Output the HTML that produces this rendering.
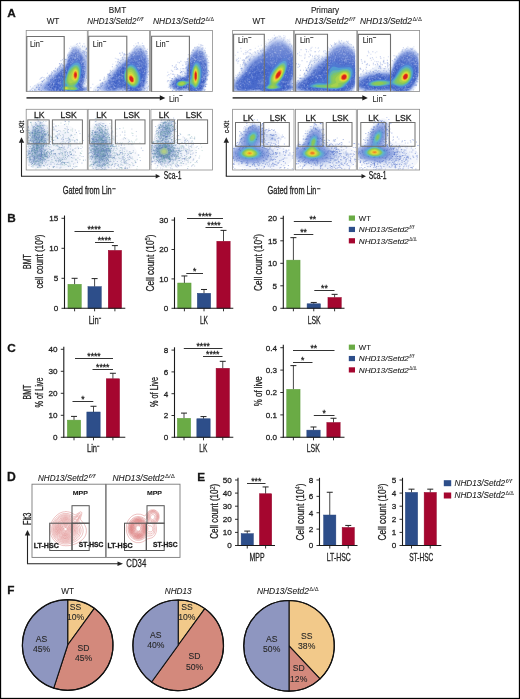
<!DOCTYPE html>
<html><head><meta charset="utf-8"><style>
html,body{margin:0;padding:0;background:#fff;width:520px;height:699px;overflow:hidden}
svg{display:block;font-family:"Liberation Sans",sans-serif;will-change:transform}
text{stroke:#222;stroke-width:.28px}
text.l{stroke-width:.1px}
</style></head><body>
<svg width="520" height="699" viewBox="0 0 520 699">
<rect x="0" y="0" width="520" height="699" fill="#fff"/>
<defs>
<filter id="bl30" x="-5%" y="-5%" width="110%" height="110%"><feGaussianBlur stdDeviation="0.3"/></filter>
<filter id="bl35" x="-5%" y="-5%" width="110%" height="110%"><feGaussianBlur stdDeviation="0.35"/></filter>
<filter id="bl40" x="-5%" y="-5%" width="110%" height="110%"><feGaussianBlur stdDeviation="0.4"/></filter>
<filter id="bl45" x="-5%" y="-5%" width="110%" height="110%"><feGaussianBlur stdDeviation="0.45"/></filter>
<filter id="bl50" x="-5%" y="-5%" width="110%" height="110%"><feGaussianBlur stdDeviation="0.5"/></filter>
<filter id="bl60" x="-5%" y="-5%" width="110%" height="110%"><feGaussianBlur stdDeviation="0.6"/></filter>
<clipPath id="ct0"><rect x="26.2" y="30.5" width="61.2" height="61"/></clipPath>
<clipPath id="ct1"><rect x="88.1" y="30.5" width="61.2" height="61"/></clipPath>
<clipPath id="ct2"><rect x="150.6" y="30.5" width="61.2" height="61"/></clipPath>
<clipPath id="ct3"><rect x="232.6" y="30.5" width="61.2" height="61"/></clipPath>
<clipPath id="ct4"><rect x="294.3" y="30.5" width="61.2" height="61"/></clipPath>
<clipPath id="ct5"><rect x="357.6" y="30.5" width="61.2" height="61"/></clipPath>
<clipPath id="cb0"><rect x="26.2" y="109.3" width="61.2" height="60.7"/></clipPath>
<clipPath id="cb1"><rect x="88.1" y="109.3" width="61.2" height="60.7"/></clipPath>
<clipPath id="cb2"><rect x="150.9" y="109.3" width="61.2" height="60.7"/></clipPath>
<clipPath id="cb3"><rect x="232.6" y="109.3" width="61.2" height="60.7"/></clipPath>
<clipPath id="cb4"><rect x="295.5" y="109.3" width="61.2" height="60.7"/></clipPath>
<clipPath id="cb5"><rect x="357.6" y="109.3" width="61.2" height="60.7"/></clipPath>
<linearGradient id="fadeT" x1="0" y1="0" x2="0" y2="1"><stop offset="0" stop-color="#fff" stop-opacity="0.45"/><stop offset="0.22" stop-color="#fff" stop-opacity="0.3"/><stop offset="0.5" stop-color="#fff" stop-opacity="0.08"/><stop offset="0.65" stop-color="#fff" stop-opacity="0"/></linearGradient>
</defs>
<g clip-path="url(#ct0)"><g filter="url(#bl50)">
<g transform="translate(26.325 30.625) scale(0.25)">
<path d="M243 66 233 63 217 63 206 57 199 55 191 56 184 60 172 75 154 117 136 135 104 161 72 193 44 209 27 221 17 232 13 243 243 243 243 221 238 217 239 211 243 203Z" fill="#ecf1fa"/>
<path d="M243 85 233 78 224 76 205 62 196 60 187 63 180 69 171 83 159 117 152 129 112 161 75 198 40 222 31 234 31 242 243 242 243 224 237 223 232 219 234 208 243 185Z" fill="#d7e0f5"/>
<path d="M240 99 207 68 201 65 193 65 185 69 177 78 170 91 160 122 154 134 118 162 75 205 58 218 48 229 48 237 53 241 59 243 228 243 242 240 243 227 234 225 229 220 237 184 243 165 243 104Z" fill="#bac8ee"/>
<path d="M209 73 202 69 195 68 186 72 179 79 169 98 159 130 154 139 110 174 65 221 61 227 61 233 65 237 78 243 223 243 243 237 243 230 231 226 227 221 241 152 241 121 234 104 218 82Z" fill="#a2b5e8"/>
<path d="M209 76 202 72 196 71 189 73 181 80 172 95 160 132 155 142 120 169 80 211 71 225 71 232 75 236 90 243 220 243 238 237 242 234 242 232 230 227 225 220 231 197 236 168 238 148 237 126 234 115 226 98 216 83Z" fill="#8aa2e2"/>
<path d="M208 79 200 75 193 75 187 78 181 84 171 102 160 137 155 146 115 178 99 195 84 214 80 222 80 231 85 236 101 243 217 243 236 234 224 223 224 216 229 199 234 168 234 129 228 108 222 96 216 87Z" fill="#728dd9"/>
<path d="M209 83 202 79 195 78 188 81 180 89 172 104 160 141 155 150 124 174 105 193 91 211 87 221 87 230 90 234 99 239 111 243 215 243 231 234 223 225 222 218 227 202 232 173 232 130 224 104 217 92Z" fill="#5a78d0"/>
<path d="M208 90 199 86 192 87 186 91 181 97 172 114 162 144 155 158 130 178 113 195 105 206 101 216 102 230 105 234 113 238 130 243 210 243 224 234 219 224 219 217 223 206 228 182 230 164 230 143 227 124 222 109 215 97Z" fill="#4a6acb"/>
<path d="M210 105 204 102 194 103 189 106 178 119 170 134 156 169 134 190 124 204 122 212 124 218 122 232 125 235 132 238 151 242 199 243 206 241 217 234 217 230 212 220 219 202 223 186 226 150 224 133 220 120 216 112Z" fill="#4669cc"/>
<path d="M210 118 202 116 190 121 178 132 173 139 166 153 157 178 142 195 137 204 136 215 138 223 133 230 135 234 150 239 172 240 182 242 197 241 212 235 213 231 206 220 215 200 219 185 222 166 222 148 219 132 216 125Z" fill="#4873d0"/>
<path d="M208 128 200 127 190 131 184 135 172 148 164 165 157 187 146 202 145 213 148 218 148 222 141 230 143 234 154 238 169 238 178 240 198 239 209 234 208 229 202 224 201 219 210 204 215 189 218 173 218 147 214 134Z" fill="#4f9ad2"/>
<path d="M205 137 196 136 191 138 179 147 169 160 155 205 157 211 163 217 163 219 161 221 151 224 146 230 148 234 156 237 194 238 201 236 205 233 205 231 195 222 196 218 208 202 214 180 214 152 211 143Z" fill="#63b9a6"/>
<path d="M204 143 200 141 191 143 172 161 166 174 161 198 162 207 169 217 170 222 157 223 152 225 149 229 149 232 151 234 156 236 191 237 201 233 200 230 191 225 188 222 188 220 202 208 206 202 211 187 212 159 209 149Z" fill="#79c373"/>
<path d="M151 228 151 232 155 235 173 234 187 236 192 235 196 232 193 229 182 225 169 226 164 224 158 224ZM199 145 191 147 173 166 168 176 165 188 165 204 168 211 175 217 181 217 197 209 203 203 208 193 211 176 210 161 205 149Z" fill="#8ec954"/>
<path d="M177 231 180 233 187 232 184 230ZM152 229 152 231 156 234 166 234 171 231 168 227 162 225 155 226ZM199 149 195 149 188 154 171 179 168 191 168 199 170 205 175 210 180 210 186 207 191 207 199 204 206 194 209 181 209 167 205 154Z" fill="#a7d24d"/>
<path d="M154 229 157 233 163 233 166 231 164 227 156 227ZM198 153 192 155 188 160 180 183 181 194 190 201 194 202 202 197 207 183 206 163 204 158Z" fill="#c7d943"/>
<path d="M156 230 159 232 164 230 162 228 158 228ZM199 157 195 157 192 159 186 173 186 187 189 194 194 198 198 197 202 193 206 179 205 167 202 160Z" fill="#e6dc3a"/>
<path d="M198 160 192 163 188 175 189 187 194 194 198 194 201 191 204 183 203 166Z" fill="#f0b12f"/>
<path d="M198 163 196 163 192 167 190 173 190 183 194 191 198 191 200 189 203 181 202 168Z" fill="#ed7725"/>
<path d="M197 166 194 168 192 172 192 183 195 188 199 187 202 177 201 171Z" fill="#e43e1e"/>
<path d="M197 169 195 170 193 176 193 180 196 185 200 181 200 173Z" fill="#d8201c"/>
</g></g>
<path transform="translate(26.45 30.75) scale(.5)" d="M31 101h0M116 48h0M120 95h0M69 60h0M113 44h0M58 81h0M102 26h0M46 91h0M120 36h0M32 102h0M122 98h0M122 105h0M35 94h0M20 113h0M86 35h0M30 120h0M120 43h0M117 121h0M18 121h0M65 73h0M66 66h0M29 109h0M105 32h0M75 55h0M67 66h0M107 25h0M120 37h0M113 40h0M79 58h0M36 98h0M52 84h0M97 33h0M29 95h0M23 107h0M47 92h0M68 69h0M50 90h0M107 35h0M12 120h0M122 121h0M55 80h0M62 77h0M66 76h0M58 75h0M116 44h0M50 87h0M120 52h0M24 117h0M76 58h0M121 49h0M118 50h0M45 94h0M100 27h0M67 72h0M20 121h0M115 26h0M62 79h0M112 32h0M67 71h0M72 58h0M13 115h0M69 73h0M120 35h0M24 110h0M26 114h0M71 68h0M91 35h0M113 43h0M47 89h0M117 41h0M93 34h0M74 70h0M70 66h0M82 50h0M117 45h0M79 58h0M114 41h0" stroke="#3a5cc4" stroke-opacity="0.6" stroke-width="1.40" stroke-linecap="square"/>
<path transform="translate(26.45 30.75) scale(.5)" d="M117 100h0M17 110h0M30 106h0M56 82h0M113 44h0M117 42h0M120 91h0M73 69h0M5 120h0M16 119h0M116 32h0M43 97h0M40 94h0M10 117h0M119 37h0M89 31h0M44 96h0M17 117h0M117 105h0M32 93h0M85 44h0M25 118h0M121 86h0M121 46h0M120 93h0M42 93h0M20 114h0M120 113h0M24 113h0M73 69h0M83 49h0M64 76h0M107 37h0M117 30h0M115 45h0M22 113h0M119 100h0M119 51h0M40 96h0M121 110h0M106 25h0M17 118h0M25 117h0M112 30h0M27 97h0M7 119h0M50 82h0M121 48h0M108 29h0M121 44h0M121 49h0M120 89h0M82 47h0M75 61h0M48 90h0M8 112h0M26 118h0M45 89h0M78 58h0M79 57h0M34 99h0M30 109h0M84 47h0M21 110h0M117 101h0M42 85h0M30 94h0M42 96h0M25 108h0M8 120h0M103 29h0M121 55h0M78 62h0M108 37h0M117 32h0M116 42h0M34 100h0M120 35h0M113 31h0M117 108h0M100 32h0M28 107h0M32 102h0M116 106h0M50 85h0M119 103h0M45 93h0M118 97h0M62 76h0M55 80h0M122 45h0M68 69h0M118 38h0" stroke="#5a7ad0" stroke-opacity="0.45" stroke-width="1.40" stroke-linecap="square"/>
<path transform="translate(26.45 30.75) scale(.5)" d="M105 109h0M45 107h0M63 101h0M99 53h0M71 120h0M113 94h0M44 103h0M66 90h0M52 107h0M38 113h0M64 88h0M109 102h0M95 49h0M115 58h0M41 108h0M111 71h0M113 101h0M50 120h0M58 92h0M100 120h0M116 86h0M108 99h0M68 99h0M115 89h0M95 58h0M108 115h0M56 112h0M70 84h0M78 79h0M60 93h0M111 51h0M78 89h0M68 85h0M112 119h0M52 97h0M106 118h0M102 56h0M78 80h0M107 59h0M57 94h0M82 79h0M57 113h0M80 84h0M86 61h0M97 46h0M65 100h0M61 117h0M110 101h0M91 49h0M70 97h0M63 88h0M100 47h0M73 90h0M42 116h0M77 79h0M104 48h0M100 53h0M44 109h0M97 121h0M82 69h0M45 119h0M116 93h0M65 108h0M92 60h0M90 44h0M93 45h0M113 91h0M41 116h0M95 57h0M97 54h0M107 112h0M91 121h0M108 63h0M69 82h0M52 107h0M57 110h0M113 78h0M111 93h0M113 66h0M87 49h0M61 97h0M110 113h0M112 112h0M108 103h0M104 110h0M117 82h0M88 62h0M56 108h0M113 103h0M108 108h0M108 65h0M70 97h0M104 39h0M111 55h0M67 87h0M110 102h0M71 78h0M62 92h0M100 47h0M117 74h0M98 39h0M110 98h0M55 119h0M71 80h0M96 58h0M110 88h0M88 68h0M50 103h0M105 120h0M53 94h0M100 39h0M98 47h0M117 61h0M87 67h0M65 92h0M94 37h0M70 88h0M90 50h0M68 120h0M111 105h0M65 118h0M51 110h0M113 88h0M103 56h0M117 68h0M62 114h0M81 73h0M59 102h0M45 109h0M100 46h0M113 116h0M103 53h0M116 71h0M103 48h0M105 105h0M46 108h0M76 83h0M76 85h0M84 60h0M48 113h0M114 81h0M94 58h0M47 113h0M44 110h0M105 48h0M98 47h0M72 82h0M48 98h0M82 66h0M65 112h0M37 115h0M46 119h0M102 121h0M59 108h0M109 102h0M112 55h0M88 56h0M111 89h0M112 106h0M90 44h0M68 104h0M67 99h0M113 113h0M117 115h0M51 115h0M85 52h0M57 111h0M107 50h0M106 106h0M91 55h0M100 55h0M52 114h0M89 50h0M102 45h0M99 37h0M96 59h0M105 121h0M100 120h0M104 59h0M61 107h0M97 49h0M110 105h0M49 109h0M59 100h0M65 85h0M61 90h0M92 41h0M107 53h0M84 54h0M111 103h0M49 112h0M64 118h0M88 61h0M64 114h0M46 109h0M64 98h0" stroke="#2a48b0" stroke-opacity="0.45" stroke-width="1.50" stroke-linecap="square"/>
<path transform="translate(26.45 30.75) scale(.5)" d="M108 115h0M58 120h0M73 85h0M53 106h0M65 98h0M59 90h0M56 98h0M119 116h0M75 120h0M57 101h0M79 81h0M113 62h0M83 59h0M109 104h0M112 49h0M107 119h0M54 106h0M110 70h0M96 44h0M58 119h0M111 84h0M106 51h0M89 51h0M78 78h0M50 101h0M116 67h0M65 114h0M114 85h0M66 105h0M115 90h0M112 77h0M45 101h0M100 41h0M71 95h0M42 119h0M66 113h0M107 48h0M116 74h0M108 63h0M115 114h0M113 69h0M107 99h0M46 110h0M102 41h0M117 78h0M95 59h0M88 67h0M93 59h0M106 54h0M100 59h0M107 43h0M102 52h0M97 38h0M51 112h0M94 43h0M102 50h0M53 98h0M113 58h0M49 116h0M72 82h0M75 81h0M56 117h0M114 114h0M103 111h0M58 117h0M110 93h0M72 82h0M81 66h0M81 120h0M105 56h0M49 112h0M70 94h0M71 81h0M102 49h0M68 84h0M69 79h0M51 113h0M111 75h0M56 106h0M115 62h0M90 45h0M72 97h0M96 40h0M64 121h0M109 61h0M108 61h0M111 86h0M91 54h0M70 98h0M105 55h0M63 119h0M113 81h0M73 85h0M75 121h0M109 109h0M111 117h0M87 53h0M41 105h0M110 103h0M50 115h0M65 106h0M90 62h0M116 116h0M111 50h0M94 54h0M59 110h0M112 51h0M62 121h0M105 49h0M63 93h0M55 110h0M111 70h0M110 66h0M109 116h0M110 112h0M111 73h0M54 95h0M97 55h0M87 49h0M55 120h0M46 114h0M59 87h0M47 108h0M69 87h0M116 69h0M95 43h0M78 70h0M114 60h0M111 61h0M104 46h0M115 77h0M82 69h0M110 91h0M115 119h0M65 104h0M109 108h0M112 61h0M96 58h0M44 119h0M117 73h0M118 80h0M103 45h0M118 76h0M88 60h0M94 43h0M98 47h0M107 103h0M40 118h0M51 119h0M115 76h0M66 116h0M52 118h0M89 46h0M116 80h0M75 75h0M85 56h0M101 47h0M113 80h0M106 43h0M74 89h0M107 106h0M60 110h0M58 113h0M113 56h0M76 89h0M114 55h0M114 94h0M55 101h0M101 53h0M74 86h0M46 99h0M77 72h0M116 77h0M59 101h0M69 78h0M52 111h0M113 87h0M56 116h0M71 81h0M64 111h0M51 103h0M55 113h0M62 104h0M111 59h0M52 120h0M114 86h0M56 121h0M69 94h0M39 112h0M53 120h0M65 88h0M104 111h0M50 105h0M57 109h0M114 96h0M73 96h0M98 49h0M47 109h0M60 99h0M45 119h0M113 52h0M110 105h0" stroke="#9ab0ea" stroke-opacity="0.45" stroke-width="1.50" stroke-linecap="square"/>
<path transform="translate(26.45 30.75) scale(.5)" d="M48 104h0M115 77h0M97 54h0M94 51h0M113 78h0M101 45h0M70 120h0M54 94h0M45 102h0M113 56h0M93 62h0M95 43h0M58 95h0M115 66h0M101 52h0M98 40h0M90 41h0M89 48h0M111 101h0M73 78h0M113 64h0M112 103h0M116 68h0M102 57h0M108 44h0M89 43h0M99 54h0M76 75h0M55 92h0M103 110h0M49 116h0M79 120h0M64 118h0M51 101h0M47 120h0M113 77h0M115 115h0M115 69h0M54 106h0M55 106h0M64 119h0M119 116h0M53 99h0M80 64h0M89 121h0M109 98h0M107 42h0M86 54h0M98 49h0M105 119h0M115 62h0M49 117h0M97 55h0M51 112h0M89 45h0M89 61h0M78 86h0M71 84h0M68 88h0M46 100h0M114 90h0M54 107h0M98 51h0M59 95h0M45 104h0M101 120h0M64 93h0M99 55h0M106 103h0M66 93h0M73 82h0M105 118h0M83 70h0M96 54h0M55 104h0M98 54h0M106 57h0M93 60h0M108 102h0M64 100h0M110 105h0M80 80h0M61 88h0M72 87h0M67 95h0M113 113h0M92 48h0M109 95h0M89 65h0M107 47h0M97 42h0M58 118h0M54 97h0M56 95h0M67 107h0M92 63h0M113 96h0M105 114h0M52 95h0M67 85h0M109 105h0M49 104h0M59 93h0M78 88h0M84 56h0M116 79h0M57 103h0M75 89h0M81 80h0M115 61h0M81 66h0M91 51h0M115 70h0M103 54h0M44 112h0M80 78h0M53 103h0M51 109h0M83 64h0M72 89h0M78 120h0M112 113h0M68 105h0M115 73h0M66 82h0M66 93h0M65 104h0M117 69h0M68 103h0M43 110h0M66 121h0M80 75h0M112 101h0M103 50h0M68 114h0M54 93h0M63 96h0M115 74h0M58 116h0M113 84h0M43 115h0M65 91h0M113 81h0M92 56h0M69 106h0M64 83h0M41 116h0M102 46h0M46 115h0M73 85h0M112 63h0M86 62h0M117 80h0M101 47h0M112 106h0M95 45h0M107 98h0M80 121h0M114 62h0M64 105h0M88 57h0M71 121h0M68 101h0M110 66h0M59 96h0M47 110h0M63 86h0M117 84h0M54 109h0M115 59h0M113 114h0M59 116h0M50 106h0M92 42h0M49 107h0M100 38h0M63 119h0M111 98h0M95 47h0M68 98h0M103 53h0M105 113h0M44 112h0M65 103h0M102 40h0M93 54h0M112 61h0M113 95h0M91 52h0M97 56h0M116 65h0M89 65h0M104 48h0M61 87h0M110 64h0M70 119h0M70 111h0M55 92h0M83 63h0M58 92h0M107 121h0M78 90h0" stroke="#ffffff" stroke-opacity="0.3" stroke-width="1.50" stroke-linecap="square"/>
</g>
<rect x="26.2" y="30.5" width="61.2" height="61" fill="url(#fadeT)"/>
<g clip-path="url(#ct1)"><g filter="url(#bl50)">
<g transform="translate(88.225 30.625) scale(0.25)">
<path d="M228 66 221 59 213 55 203 54 193 57 180 66 156 94 149 98 139 101 130 107 123 114 107 139 80 172 65 193 55 203 31 219 21 229 19 233 20 243 237 243 242 221 241 184 243 168 243 106 238 85Z" fill="#ecf1fa"/>
<path d="M227 71 220 64 209 59 197 60 182 69 174 77 154 103 137 113 125 124 111 143 86 172 69 196 36 227 34 231 35 238 40 243 228 243 233 229 235 218 236 198 242 150 242 120 237 92 232 79Z" fill="#d7e0f5"/>
<path d="M223 72 211 64 198 64 186 70 172 84 157 105 146 116 136 122 122 136 94 169 74 197 48 226 47 233 49 237 58 243 127 243 137 240 146 243 220 243 226 231 230 217 235 190 240 147 240 124 237 103 233 89Z" fill="#bac8ee"/>
<path d="M217 71 208 67 200 67 187 73 170 90 153 114 125 138 100 167 76 200 59 220 56 226 56 232 62 239 70 243 116 243 132 237 139 236 145 238 151 243 215 243 223 229 229 210 235 178 238 151 238 123 235 103 228 84Z" fill="#a2b5e8"/>
<path d="M216 74 206 70 197 71 187 76 176 86 155 115 142 128 137 131 113 156 66 217 62 229 68 237 84 243 103 243 131 234 141 233 147 236 154 243 211 243 222 225 227 210 232 187 236 157 236 120 233 103 225 84Z" fill="#8aa2e2"/>
<path d="M214 77 206 74 196 75 185 81 174 92 152 122 135 137 113 161 76 210 69 222 69 228 72 233 86 239 103 239 133 230 142 230 146 232 157 243 207 243 212 238 222 219 229 194 235 144 234 121 231 105 223 86Z" fill="#728dd9"/>
<path d="M216 83 206 78 198 78 189 82 178 91 152 125 120 157 82 208 75 220 75 227 80 232 88 235 105 235 131 227 142 227 146 229 160 243 204 243 210 237 218 224 225 204 230 179 233 150 233 132 230 110 222 90Z" fill="#5a78d0"/>
<path d="M210 91 206 89 196 89 187 93 177 101 165 114 148 136 129 156 106 194 92 211 90 215 90 221 93 224 108 225 125 220 138 219 146 223 168 243 196 243 207 234 212 227 221 206 226 182 228 162 228 136 225 116 218 99Z" fill="#4a6acb"/>
<path d="M181 117 176 118 163 126 143 151 133 170 132 192 134 200 137 205 160 228 175 238 186 239 199 233 207 224 212 215 218 195 219 168 214 148 206 134 196 123 187 118Z" fill="#4669cc"/>
<path d="M172 129 163 133 149 149 143 161 140 171 140 192 146 207 157 219 170 229 184 233 195 229 204 220 211 204 213 184 210 169 198 146 184 132Z" fill="#4873d0"/>
<path d="M167 136 156 144 146 161 143 174 144 193 150 207 161 218 175 227 186 228 197 222 204 212 208 198 207 180 203 168 190 146 182 139 176 136Z" fill="#4f9ad2"/>
<path d="M168 141 161 144 155 150 149 161 146 173 146 188 149 199 154 207 171 221 182 224 191 221 199 212 203 200 203 186 197 167 188 152 179 144Z" fill="#63b9a6"/>
<path d="M165 146 156 153 150 165 148 175 150 195 154 203 166 215 175 220 185 220 193 214 197 207 199 199 198 182 194 170 185 155 175 147Z" fill="#79c373"/>
<path d="M167 150 160 153 154 161 150 177 151 190 157 203 168 214 176 218 185 217 193 207 195 199 194 183 191 173 184 160 175 152Z" fill="#8ec954"/>
<path d="M165 156 159 160 154 170 154 191 160 203 169 212 174 215 182 215 188 210 190 205 191 191 189 181 181 164 173 157Z" fill="#a7d24d"/>
<path d="M166 164 162 166 158 172 157 190 163 203 173 212 179 213 183 211 186 207 187 190 180 173 173 166Z" fill="#c7d943"/>
<path d="M165 172 160 179 161 195 169 207 174 210 180 210 185 203 185 193 183 186 179 179 173 173Z" fill="#e6dc3a"/>
<path d="M168 176 163 180 162 183 163 195 166 201 172 207 179 208 183 203 182 189 174 178Z" fill="#f0b12f"/>
<path d="M167 180 164 184 164 194 170 204 173 206 180 205 182 200 181 191 178 185 173 180Z" fill="#ed7725"/>
<path d="M169 182 166 185 165 192 169 201 176 205 180 202 180 192 175 184Z" fill="#e43e1e"/>
<path d="M170 184 167 187 167 195 172 202 177 203 179 200 178 190 174 185Z" fill="#d8201c"/>
</g></g>
<path transform="translate(88.35 30.75) scale(.5)" d="M18 113h0M67 59h0M19 121h0M115 41h0M19 121h0M43 89h0M41 91h0M19 114h0M72 48h0M97 30h0M70 58h0M42 86h0M44 83h0M44 89h0M75 48h0M43 89h0M43 90h0M111 32h0M29 105h0M41 93h0M40 89h0M72 46h0M115 40h0M64 65h0M69 119h0M24 99h0M111 30h0M20 118h0M39 87h0M118 37h0M23 114h0M119 56h0M49 80h0M113 35h0M120 88h0M28 104h0M100 24h0M108 30h0M32 93h0M116 41h0M21 113h0M91 30h0M46 82h0M94 33h0M73 54h0M60 67h0M118 102h0M117 120h0M48 72h0M19 120h0M65 49h0M29 105h0M28 109h0M120 111h0M108 25h0M116 103h0M71 50h0M120 60h0M77 47h0M79 47h0M59 62h0M41 88h0M113 116h0M10 121h0M103 31h0M121 66h0M25 111h0M119 50h0M60 57h0M62 64h0M21 113h0M5 114h0M31 97h0M117 45h0M25 107h0M63 45h0M119 83h0M63 64h0M118 93h0M82 45h0M23 116h0M121 81h0M64 60h0" stroke="#3a5cc4" stroke-opacity="0.6" stroke-width="1.40" stroke-linecap="square"/>
<path transform="translate(88.35 30.75) scale(.5)" d="M24 109h0M38 91h0M32 96h0M92 36h0M121 65h0M82 45h0M14 118h0M111 34h0M76 55h0M111 120h0M68 54h0M69 119h0M42 86h0M26 105h0M33 102h0M71 47h0M54 55h0M58 71h0M77 54h0M26 110h0M94 34h0M119 114h0M17 119h0M119 115h0M100 26h0M76 56h0M55 62h0M23 99h0M26 111h0M120 72h0M69 54h0M2 121h0M95 26h0M57 74h0M92 36h0M121 69h0M56 69h0M48 84h0M96 31h0M69 53h0M57 56h0M99 24h0M117 45h0M14 120h0M59 58h0M96 32h0M69 46h0M119 118h0M69 56h0M68 57h0M63 45h0M115 105h0M28 108h0M118 97h0M44 86h0M116 114h0M73 47h0M39 95h0M91 37h0M49 67h0M68 44h0M113 115h0M116 101h0M60 61h0M34 101h0M44 79h0M58 69h0M56 69h0M118 106h0M112 119h0M25 106h0M25 114h0M39 87h0M68 43h0M76 48h0M26 111h0M59 64h0M9 107h0M99 31h0M44 80h0M110 30h0M77 48h0M58 71h0M117 42h0M118 42h0M40 93h0M112 116h0" stroke="#5a7ad0" stroke-opacity="0.45" stroke-width="1.40" stroke-linecap="square"/>
<path transform="translate(88.35 30.75) scale(.5)" d="M105 60h0M40 115h0M78 63h0M37 118h0M61 76h0M104 45h0M104 108h0M109 69h0M85 114h0M115 66h0M109 64h0M111 103h0M113 64h0M59 100h0M91 54h0M105 82h0M90 58h0M101 51h0M53 116h0M85 117h0M106 42h0M104 84h0M109 75h0M89 43h0M97 42h0M73 117h0M57 104h0M87 53h0M61 111h0M97 118h0M96 62h0M52 85h0M66 99h0M92 65h0M101 43h0M106 118h0M98 116h0M51 94h0M82 113h0M81 54h0M72 114h0M104 58h0M90 59h0M75 62h0M115 50h0M71 101h0M106 49h0M48 93h0M84 49h0M94 119h0M108 44h0M111 89h0M105 58h0M106 69h0M112 100h0M98 48h0M96 70h0M106 75h0M112 57h0M54 99h0M90 60h0M90 63h0M107 88h0M47 104h0M41 99h0M102 108h0M64 73h0M103 118h0M42 101h0M91 57h0M90 57h0M101 121h0M113 58h0M61 89h0M110 110h0M109 113h0M76 70h0M69 84h0M39 119h0M66 94h0M54 105h0M91 60h0M94 64h0M37 106h0M99 48h0M71 113h0M67 112h0M50 89h0M75 60h0M58 87h0M104 36h0M54 111h0M100 41h0M106 43h0M106 92h0M70 75h0M81 57h0M113 88h0M102 60h0M67 112h0M60 100h0M69 68h0M85 47h0M111 104h0M67 97h0M80 63h0M68 74h0M93 54h0M111 100h0M70 81h0M73 109h0M67 71h0M103 60h0M104 80h0M117 67h0M57 84h0M56 82h0M95 116h0M76 107h0M52 102h0M67 86h0M46 96h0M105 38h0M111 109h0M58 79h0M71 113h0M110 113h0M52 88h0M103 52h0M43 110h0M86 56h0M76 67h0M53 116h0M57 96h0M72 106h0M111 83h0M70 75h0M107 61h0M91 121h0M104 37h0M86 117h0M70 82h0M98 52h0M48 96h0M99 56h0M77 119h0M110 101h0M63 112h0M104 72h0M57 107h0M104 48h0M97 37h0M47 110h0M55 92h0M87 56h0M64 82h0M110 41h0M95 46h0M48 103h0M115 68h0M60 114h0M100 112h0M71 78h0M105 113h0M60 80h0M86 49h0M54 93h0M69 93h0M76 67h0M50 117h0M67 92h0M106 37h0M63 80h0M69 114h0M61 74h0M106 43h0M94 44h0M110 43h0M112 81h0M109 44h0M55 99h0M63 106h0M54 83h0M47 111h0M65 115h0M41 100h0M97 63h0M67 82h0M65 83h0M104 79h0M54 89h0M51 95h0M65 116h0M70 85h0M45 94h0M108 94h0" stroke="#2a48b0" stroke-opacity="0.45" stroke-width="1.50" stroke-linecap="square"/>
<path transform="translate(88.35 30.75) scale(.5)" d="M108 60h0M59 94h0M106 112h0M70 69h0M106 107h0M80 55h0M103 121h0M69 107h0M86 119h0M117 56h0M109 94h0M104 48h0M59 115h0M92 56h0M106 74h0M74 117h0M82 112h0M102 116h0M109 60h0M80 118h0M47 103h0M81 64h0M112 78h0M108 43h0M59 104h0M97 42h0M103 67h0M54 114h0M52 114h0M72 105h0M109 115h0M73 77h0M85 61h0M101 73h0M68 95h0M38 118h0M110 56h0M83 65h0M112 78h0M103 115h0M73 63h0M102 75h0M53 93h0M108 81h0M39 101h0M78 109h0M83 52h0M80 118h0M98 115h0M49 119h0M82 116h0M108 102h0M83 57h0M111 104h0M111 85h0M90 50h0M57 83h0M107 67h0M105 80h0M117 76h0M53 107h0M72 105h0M55 98h0M51 100h0M81 65h0M104 113h0M84 56h0M45 99h0M49 91h0M114 48h0M62 85h0M62 102h0M103 74h0M107 113h0M104 45h0M39 119h0M116 57h0M55 118h0M106 106h0M108 103h0M102 74h0M53 84h0M102 62h0M95 49h0M90 48h0M61 101h0M42 110h0M60 94h0M95 39h0M87 58h0M53 113h0M47 116h0M118 67h0M99 69h0M38 105h0M90 53h0M48 106h0M106 69h0M62 90h0M51 90h0M55 93h0M90 49h0M69 103h0M102 40h0M57 107h0M62 81h0M87 53h0M109 111h0M104 107h0M68 114h0M56 117h0M91 119h0M70 103h0M55 82h0M71 106h0M109 95h0M66 81h0M38 118h0M96 116h0M49 118h0M47 109h0M113 97h0M114 94h0M109 86h0M107 40h0M81 112h0M109 65h0M64 104h0M98 59h0M91 49h0M113 67h0M111 67h0M115 89h0M49 90h0M40 111h0M92 66h0M47 104h0M50 97h0M86 60h0M44 108h0M61 76h0M41 109h0M49 107h0M55 81h0M62 96h0M106 50h0M79 119h0M87 53h0M100 36h0M109 107h0M112 53h0M110 92h0M105 64h0M63 96h0M52 113h0M98 42h0M115 67h0M44 115h0M67 94h0M68 88h0M42 112h0M109 41h0M101 121h0M112 64h0M39 108h0M111 89h0M109 69h0M102 70h0M98 40h0M99 48h0M116 79h0M102 119h0M75 72h0M107 112h0M107 118h0" stroke="#9ab0ea" stroke-opacity="0.45" stroke-width="1.50" stroke-linecap="square"/>
<path transform="translate(88.35 30.75) scale(.5)" d="M68 115h0M89 60h0M78 113h0M113 90h0M113 81h0M114 91h0M69 97h0M106 57h0M46 116h0M112 84h0M112 81h0M98 63h0M115 69h0M46 120h0M92 47h0M108 38h0M90 50h0M71 116h0M101 40h0M83 118h0M71 79h0M63 110h0M54 108h0M61 116h0M39 106h0M46 93h0M106 110h0M41 107h0M62 91h0M109 105h0M67 85h0M65 70h0M113 103h0M94 59h0M37 110h0M96 42h0M56 94h0M72 101h0M63 105h0M100 73h0M103 47h0M75 71h0M76 69h0M61 92h0M106 76h0M73 62h0M51 99h0M47 110h0M109 115h0M60 94h0M109 114h0M63 92h0M81 65h0M103 57h0M46 97h0M116 80h0M106 54h0M82 56h0M84 54h0M103 40h0M82 55h0M116 64h0M70 88h0M78 66h0M97 48h0M67 71h0M103 82h0M53 86h0M102 68h0M106 115h0M115 75h0M95 62h0M73 72h0M60 116h0M50 111h0M40 112h0M108 96h0M110 47h0M62 101h0M100 48h0M41 110h0M66 85h0M60 108h0M61 79h0M71 114h0M71 113h0M46 100h0M113 94h0M81 113h0M94 44h0M66 73h0M103 64h0M103 76h0M117 76h0M74 73h0M59 96h0M42 109h0M79 63h0M61 113h0M81 118h0M75 112h0M101 116h0M56 90h0M89 66h0M93 53h0M67 94h0M71 112h0M96 41h0M79 120h0M113 81h0M64 115h0M105 102h0M89 45h0M106 114h0M52 113h0M67 88h0M113 87h0M115 66h0M101 77h0M115 60h0M105 44h0M93 47h0M86 46h0M39 117h0M115 68h0M105 73h0M101 64h0M54 83h0M109 97h0M111 52h0M38 114h0M90 45h0M76 109h0M108 71h0M99 74h0M46 117h0M50 104h0M71 71h0M104 83h0M100 44h0M93 119h0M113 81h0M77 118h0M47 106h0M110 85h0M61 100h0M46 106h0M33 112h0M109 114h0M44 110h0M91 58h0M62 83h0M58 119h0M100 75h0M54 100h0M67 92h0M104 117h0M105 73h0M98 47h0M55 86h0M39 108h0M107 102h0M110 44h0M100 117h0M64 76h0M48 92h0M84 49h0M81 117h0M99 115h0M111 73h0M59 116h0M62 77h0M100 65h0M41 102h0M52 106h0M116 58h0M111 52h0M95 40h0M56 96h0M105 114h0M82 113h0M105 52h0M57 81h0M109 41h0M48 104h0M104 103h0M109 98h0M109 49h0M67 79h0M99 70h0M68 93h0M102 58h0M107 56h0M35 110h0M75 114h0M83 61h0M52 112h0M90 61h0M90 41h0M92 58h0M59 109h0M45 97h0M51 90h0M76 67h0M99 74h0M100 38h0M77 117h0M92 48h0M65 92h0M66 96h0M48 91h0M49 99h0M96 70h0M53 98h0M96 60h0M44 115h0M41 108h0M110 62h0M68 88h0M50 110h0M88 117h0M98 40h0M109 79h0M82 118h0M103 57h0M57 97h0M106 98h0M98 45h0M106 66h0" stroke="#ffffff" stroke-opacity="0.3" stroke-width="1.50" stroke-linecap="square"/>
</g>
<rect x="88.1" y="30.5" width="61.2" height="61" fill="url(#fadeT)"/>
<g clip-path="url(#ct2)"><g filter="url(#bl50)">
<g transform="translate(150.725 30.625) scale(0.25)">
<path d="M205 63 195 59 183 61 175 66 165 77 154 96 146 116 131 168 125 173 106 178 96 183 86 190 74 204 71 212 71 222 79 234 89 240 98 243 215 242 224 214 229 191 232 166 232 133 228 106 223 89 214 72Z" fill="#ecf1fa"/>
<path d="M204 68 198 65 186 65 178 69 167 80 161 89 149 116 142 142 137 175 134 178 118 180 98 187 90 192 78 205 75 213 75 220 78 227 85 234 95 239 108 242 211 242 221 215 227 189 230 162 230 137 227 113 221 92 213 77Z" fill="#d7e0f5"/>
<path d="M204 73 196 69 188 69 182 71 176 75 164 89 154 109 148 127 142 156 140 177 133 182 118 183 105 187 95 192 83 203 80 208 78 217 81 226 87 232 100 238 112 240 142 237 145 238 149 243 207 243 216 223 225 189 228 164 228 137 225 114 219 94 212 81Z" fill="#bac8ee"/>
<path d="M203 76 193 72 186 73 178 77 168 87 159 102 150 126 145 148 143 173 141 180 135 184 114 186 105 189 93 196 85 204 81 212 81 220 88 230 97 235 109 238 125 238 138 235 145 235 151 240 152 243 204 243 206 241 213 226 223 191 226 170 226 132 223 113 218 97 211 84Z" fill="#a2b5e8"/>
<path d="M203 79 194 75 185 76 179 79 166 93 158 108 150 131 145 157 144 176 142 181 138 185 121 186 109 189 93 198 87 204 83 213 84 222 91 230 102 235 114 237 146 233 152 238 155 243 202 243 204 241 213 222 220 199 225 167 225 136 222 116 218 102 213 91Z" fill="#8aa2e2"/>
<path d="M202 82 196 79 186 79 178 83 170 91 164 100 154 123 148 147 146 172 143 183 137 187 126 187 111 190 100 195 92 201 85 213 86 221 90 227 98 232 109 235 126 235 147 231 154 237 157 243 201 242 210 225 218 201 222 181 224 159 223 132 219 111 211 92Z" fill="#728dd9"/>
<path d="M203 86 196 82 186 82 177 87 171 93 159 114 154 128 149 149 147 176 145 183 140 188 116 190 98 198 90 206 87 212 87 219 94 228 102 232 111 234 124 234 140 230 149 230 155 235 159 243 199 242 207 228 214 210 220 185 222 169 222 137 219 118 213 100Z" fill="#5a78d0"/>
<path d="M200 92 194 89 186 89 176 95 170 102 160 121 154 140 150 164 150 175 147 186 141 191 119 192 109 195 100 200 91 211 91 219 98 227 109 231 127 231 144 226 152 227 158 233 164 243 193 243 197 238 207 220 212 206 217 184 219 166 219 143 214 115 209 103Z" fill="#4a6acb"/>
<path d="M196 105 191 103 181 105 174 111 168 120 158 147 154 181 151 189 143 195 122 195 107 200 98 208 96 212 96 217 100 223 108 227 123 228 146 221 151 221 157 224 166 235 175 242 182 242 186 240 194 232 202 218 207 204 211 186 213 166 210 131 203 113Z" fill="#4669cc"/>
<path d="M193 119 188 117 181 118 172 127 162 152 158 182 154 192 146 198 126 197 119 198 107 203 100 211 100 217 104 222 111 225 127 225 151 217 159 220 173 234 177 236 183 235 191 228 198 216 202 205 207 176 207 158 205 143 200 128Z" fill="#4873d0"/>
<path d="M190 129 186 127 180 127 174 133 167 149 163 165 161 185 156 195 147 201 140 201 134 199 123 199 115 201 109 204 103 210 102 215 105 220 111 223 122 224 132 222 148 214 154 214 164 219 177 231 183 230 189 224 199 202 203 174 202 156 199 143 196 136Z" fill="#4f9ad2"/>
<path d="M184 134 179 134 172 144 167 162 164 188 160 197 151 205 145 205 134 201 122 201 111 205 105 212 105 215 109 220 115 222 125 222 140 216 149 209 155 209 166 215 177 226 182 226 186 222 192 211 196 199 198 188 198 162 195 149 190 140Z" fill="#63b9a6"/>
<path d="M142 208 135 203 120 203 114 205 109 209 108 216 114 220 127 220 138 215 141 212ZM182 138 176 141 172 150 168 169 167 188 163 202 164 207 173 219 178 223 182 222 187 216 192 202 195 186 195 167 193 157 187 143Z" fill="#79c373"/>
<path d="M110 212 111 216 114 218 125 219 136 214 138 208 131 204 122 204 114 207ZM182 142 179 142 174 149 169 174 168 203 172 213 177 219 181 219 185 215 189 205 192 189 191 162 188 151Z" fill="#8ec954"/>
<path d="M114 211 114 214 116 216 124 217 133 213 134 209 129 206 122 206ZM182 146 179 146 175 151 172 162 170 181 171 203 175 213 178 216 182 215 186 208 190 186 189 164 187 155Z" fill="#a7d24d"/>
<path d="M179 150 175 156 173 164 172 195 176 209 178 211 181 211 184 207 187 196 188 172 185 156 183 152Z" fill="#c7d943"/>
<path d="M179 154 176 158 174 166 173 191 175 202 178 207 181 207 186 192 186 168 184 159 182 155Z" fill="#e6dc3a"/>
<path d="M179 158 177 160 175 167 174 189 177 202 181 203 185 191 185 169 182 159Z" fill="#f0b12f"/>
<path d="M181 161 178 162 175 173 175 189 177 198 179 200 182 198 184 190 184 170Z" fill="#ed7725"/>
<path d="M179 164 176 173 176 189 178 196 180 197 183 190 183 170 181 165Z" fill="#e43e1e"/>
<path d="M179 167 177 172 177 189 180 193 182 190 183 178 181 168Z" fill="#d8201c"/>
</g></g>
<path transform="translate(150.85 30.75) scale(.5)" d="M112 107h0M112 99h0M74 55h0M59 84h0M57 121h0M70 119h0M68 83h0M109 111h0M70 63h0M104 35h0M114 63h0M84 39h0M58 120h0M116 64h0M36 88h0M61 82h0M70 67h0M34 100h0M39 115h0M76 56h0M115 80h0M43 120h0M51 73h0M44 87h0M104 34h0M100 28h0M116 87h0M85 39h0M114 88h0M43 70h0M75 48h0M68 86h0M60 84h0M113 56h0M47 91h0M73 62h0M82 43h0M70 86h0M60 61h0M103 37h0M102 29h0M109 43h0M94 35h0M113 84h0M104 30h0M53 88h0M59 92h0M65 119h0M36 100h0M72 121h0M70 75h0M72 62h0M50 120h0M51 119h0M42 100h0M110 112h0M113 90h0M40 100h0M41 100h0M109 111h0M61 82h0M57 64h0M107 39h0M50 94h0M55 89h0M70 121h0M39 110h0M73 57h0M43 96h0M71 74h0M101 35h0M88 34h0M64 69h0M112 51h0M110 107h0M107 119h0M51 77h0M95 33h0M68 90h0M47 73h0M65 81h0M66 76h0M113 97h0M93 32h0M64 76h0M53 76h0M98 33h0M79 50h0M58 90h0" stroke="#3a5cc4" stroke-opacity="0.6" stroke-width="1.40" stroke-linecap="square"/>
<path transform="translate(150.85 30.75) scale(.5)" d="M74 58h0M109 108h0M47 95h0M38 108h0M63 84h0M54 63h0M115 59h0M112 57h0M71 73h0M34 83h0M35 113h0M50 69h0M106 117h0M53 91h0M38 112h0M40 111h0M85 38h0M106 121h0M39 109h0M43 96h0M54 91h0M63 87h0M46 117h0M55 120h0M100 31h0M45 87h0M55 92h0M116 70h0M59 79h0M108 118h0M60 76h0M39 108h0M63 81h0M61 120h0M112 49h0M100 29h0M72 66h0M96 27h0M41 79h0M83 43h0M38 112h0M68 62h0M88 33h0M49 72h0M115 90h0M109 35h0M44 81h0M117 82h0M44 120h0M40 114h0M115 80h0M49 95h0M48 88h0M109 118h0M39 103h0M70 66h0M72 71h0M109 44h0M33 102h0M108 45h0M116 52h0M112 48h0M88 35h0M40 86h0M33 90h0M112 97h0M43 81h0M86 39h0M113 89h0M91 34h0M38 94h0M54 77h0M109 40h0M114 84h0M96 33h0M102 37h0M57 91h0M67 120h0M48 77h0M42 96h0M51 68h0" stroke="#5a7ad0" stroke-opacity="0.45" stroke-width="1.40" stroke-linecap="square"/>
<path transform="translate(150.85 30.75) scale(.5)" d="M103 56h0M79 73h0M105 80h0M91 55h0M76 113h0M105 62h0M75 117h0M102 65h0M76 70h0M94 45h0M109 102h0M86 50h0M76 115h0M103 50h0M60 117h0M95 46h0M111 81h0M94 41h0M51 101h0M105 70h0M76 79h0M92 48h0M105 91h0M60 99h0M79 67h0M64 96h0M109 96h0M84 65h0M79 65h0M91 50h0M103 44h0M102 108h0M102 72h0M74 91h0M110 91h0M51 98h0M98 55h0M110 70h0M82 48h0M105 111h0M92 58h0M98 46h0M83 59h0M75 113h0M94 59h0M87 52h0M74 78h0M100 42h0M44 103h0M104 70h0M75 117h0M97 50h0M83 54h0M104 58h0M106 66h0M93 60h0M88 49h0M80 73h0M89 56h0M79 84h0M92 50h0M99 114h0M65 94h0M56 115h0M56 100h0M90 54h0M95 53h0M103 53h0M111 76h0M74 84h0M102 103h0M100 45h0M81 119h0M87 48h0M104 44h0M49 102h0M72 111h0M76 71h0M102 42h0M70 92h0M112 83h0M60 117h0M46 115h0M103 43h0M96 45h0M104 73h0M95 55h0M104 73h0M107 82h0M74 108h0M96 50h0M109 68h0M103 116h0M103 51h0M54 116h0M106 100h0M54 113h0M81 119h0M62 113h0M103 51h0M80 69h0M80 118h0M68 97h0M84 52h0M102 57h0M78 89h0M87 59h0M106 55h0M67 94h0M99 52h0M100 66h0M110 96h0M111 68h0M75 88h0M61 116h0M76 116h0M101 112h0M45 106h0M67 96h0M101 57h0M102 68h0M76 119h0M76 72h0M110 61h0M83 65h0M75 78h0M71 93h0M76 118h0M43 108h0M74 112h0M99 57h0M105 109h0M90 58h0M107 60h0M92 50h0M97 43h0M74 86h0M103 90h0M80 58h0M74 90h0M105 100h0M65 113h0M106 52h0M98 58h0M110 79h0M80 78h0M91 58h0M106 103h0M99 107h0M63 95h0M73 113h0M100 115h0M103 51h0M91 120h0M106 72h0M65 114h0M107 69h0M103 94h0M90 48h0M95 44h0M112 79h0M68 95h0M104 104h0M51 96h0M77 91h0M90 58h0M81 55h0M102 45h0M89 59h0M78 82h0M104 84h0M82 54h0M98 63h0M79 56h0M61 96h0M81 54h0M73 78h0M61 115h0M48 114h0M100 53h0M59 98h0M76 69h0M110 97h0M98 42h0M110 67h0M100 62h0M77 89h0M102 101h0M74 80h0M106 86h0M81 116h0M92 54h0M54 98h0M101 67h0M81 112h0M90 42h0M105 76h0M82 119h0M93 39h0M52 98h0M107 55h0M84 63h0M105 64h0M76 97h0M83 120h0M83 56h0M106 110h0M103 100h0M77 78h0M105 103h0M100 52h0M98 116h0M86 52h0M79 121h0" stroke="#2a48b0" stroke-opacity="0.45" stroke-width="1.50" stroke-linecap="square"/>
<path transform="translate(150.85 30.75) scale(.5)" d="M109 71h0M89 42h0M96 54h0M104 108h0M94 56h0M84 50h0M109 84h0M85 115h0M102 107h0M69 110h0M88 45h0M108 54h0M63 112h0M77 73h0M99 60h0M107 77h0M90 56h0M89 59h0M55 97h0M78 88h0M93 118h0M106 70h0M108 89h0M89 121h0M73 92h0M103 85h0M93 119h0M76 78h0M110 79h0M104 63h0M73 111h0M106 93h0M110 89h0M108 93h0M80 75h0M87 51h0M109 54h0M96 114h0M106 72h0M67 116h0M106 67h0M75 66h0M107 83h0M91 117h0M93 44h0M78 67h0M104 83h0M106 109h0M104 59h0M84 57h0M50 114h0M102 60h0M78 75h0M104 94h0M44 106h0M65 97h0M83 119h0M104 106h0M99 43h0M76 72h0M51 101h0M76 78h0M88 42h0M85 66h0M108 95h0M96 57h0M108 69h0M87 48h0M102 50h0M93 121h0M74 81h0M100 55h0M82 112h0M105 69h0M77 112h0M96 41h0M80 71h0M103 100h0M47 109h0M63 113h0M84 121h0M103 77h0M111 69h0M107 95h0M47 107h0M64 116h0M42 111h0M109 94h0M108 102h0M89 42h0M84 46h0M90 118h0M102 70h0M66 94h0M100 117h0M106 74h0M106 109h0M102 43h0M83 53h0M103 95h0M68 94h0M111 79h0M79 61h0M54 114h0M105 104h0M80 73h0M104 66h0M105 94h0M94 59h0M104 72h0M48 104h0M94 42h0M56 96h0M101 107h0M76 77h0M107 62h0M104 108h0M111 71h0M105 58h0M54 99h0M86 53h0M93 50h0M93 41h0M63 98h0M80 120h0M74 74h0M78 93h0M105 50h0M108 57h0M55 96h0M75 111h0M104 106h0M76 95h0M99 112h0M96 46h0M89 58h0M75 82h0M82 52h0M88 56h0M103 97h0M103 71h0M46 109h0M104 106h0M102 114h0M60 117h0M112 76h0M111 86h0M108 91h0M111 67h0M93 48h0M53 114h0M79 55h0M72 89h0M102 53h0M104 66h0M75 70h0M78 63h0M101 70h0M77 68h0M77 93h0M95 51h0M105 66h0M110 78h0M72 95h0M101 41h0M102 63h0M90 57h0M53 113h0M81 57h0M95 42h0M97 39h0M48 114h0M108 87h0M55 114h0M64 97h0M104 70h0M63 93h0M104 64h0M77 111h0M80 77h0M101 121h0M94 53h0M75 96h0M80 59h0M93 44h0M50 109h0M107 79h0M83 113h0M78 56h0M99 56h0M84 53h0M108 84h0M103 100h0M63 114h0M75 72h0M87 62h0M78 90h0" stroke="#9ab0ea" stroke-opacity="0.45" stroke-width="1.50" stroke-linecap="square"/>
<path transform="translate(150.85 30.75) scale(.5)" d="M101 58h0M104 57h0M85 53h0M88 52h0M83 52h0M73 115h0M105 74h0M108 89h0M108 58h0M91 118h0M75 96h0M82 68h0M83 60h0M46 100h0M107 94h0M100 48h0M94 120h0M104 81h0M109 62h0M70 93h0M104 89h0M106 60h0M60 116h0M109 81h0M110 87h0M90 48h0M104 54h0M107 92h0M95 114h0M59 98h0M98 56h0M80 62h0M95 45h0M82 64h0M54 115h0M76 97h0M49 101h0M75 88h0M95 49h0M106 98h0M85 119h0M99 107h0M66 116h0M110 89h0M96 38h0M46 113h0M104 57h0M76 85h0M90 121h0M108 82h0M81 59h0M106 49h0M73 115h0M102 95h0M84 58h0M62 116h0M87 56h0M57 96h0M78 93h0M104 87h0M100 59h0M49 115h0M96 59h0M46 103h0M87 62h0M81 63h0M94 55h0M106 94h0M49 99h0M87 61h0M79 91h0M103 110h0M99 44h0M48 112h0M58 95h0M106 92h0M104 55h0M45 109h0M74 114h0M72 87h0M105 82h0M51 116h0M107 56h0M104 79h0M97 121h0M97 59h0M96 40h0M74 109h0M52 98h0M78 66h0M54 95h0M107 55h0M75 88h0M66 116h0M74 77h0M106 53h0M98 118h0M105 85h0M109 73h0M107 76h0M61 94h0M98 61h0M106 73h0M90 57h0M72 83h0M98 53h0M82 55h0M96 46h0M105 76h0M82 117h0M103 51h0M77 72h0M105 92h0M58 97h0M102 108h0M105 58h0M77 119h0M96 119h0M48 108h0M102 74h0M54 112h0M96 49h0M77 70h0M107 69h0M99 59h0M103 99h0M107 52h0M110 90h0M76 119h0M77 95h0M54 113h0M88 57h0M43 110h0M102 105h0M109 75h0M61 95h0M106 50h0M44 104h0M95 43h0M68 96h0M58 97h0M86 54h0M107 97h0M104 50h0M77 94h0M91 57h0M101 55h0M102 67h0M73 112h0M108 53h0M89 58h0M81 121h0M106 89h0M111 84h0M106 82h0M78 113h0M106 108h0M73 110h0M102 61h0M109 63h0M109 74h0M87 121h0M102 96h0M49 103h0M48 102h0M102 44h0M103 89h0M54 96h0M98 120h0M100 39h0M77 80h0M98 61h0M102 48h0M107 106h0M87 56h0M104 96h0M93 59h0M111 81h0M105 113h0M106 63h0M104 92h0M75 84h0M109 72h0M69 111h0M91 117h0M48 105h0M97 48h0M43 105h0M84 47h0" stroke="#ffffff" stroke-opacity="0.3" stroke-width="1.50" stroke-linecap="square"/>
</g>
<rect x="150.6" y="30.5" width="61.2" height="61" fill="url(#fadeT)"/>
<g clip-path="url(#ct3)"><g filter="url(#bl50)">
<g transform="translate(232.725 30.625) scale(0.25)">
<path d="M243 58 226 41 209 28 190 21 172 22 158 28 147 36 124 63 115 71 83 85 63 96 56 102 50 110 23 169 12 183 0 195 0 243 234 243 243 241Z" fill="#ecf1fa"/>
<path d="M243 67 220 42 204 31 196 28 175 27 163 31 152 38 137 53 125 69 116 78 91 91 75 102 65 111 53 126 26 174 0 202 0 243 226 243 232 240 243 238Z" fill="#d7e0f5"/>
<path d="M238 68 219 47 205 37 195 33 176 32 166 35 154 42 138 58 126 74 113 87 82 105 61 126 47 147 36 168 23 184 9 198 1 209 0 237 8 243 76 243 84 241 98 241 103 243 219 243 230 238 243 235 243 218 239 214 239 208 243 198 243 76Z" fill="#bac8ee"/>
<path d="M234 68 216 49 200 39 190 36 177 36 159 43 142 58 125 80 112 93 89 106 67 126 54 144 39 170 16 195 5 210 0 221 0 230 8 238 19 243 65 243 85 239 99 239 110 243 214 243 219 240 242 233 243 222 237 217 236 208 243 189 243 84Z" fill="#a2b5e8"/>
<path d="M232 70 212 50 195 41 176 40 159 47 144 60 115 95 85 114 67 132 45 167 18 197 11 207 4 222 5 230 17 239 33 243 51 243 81 238 103 238 113 241 115 243 208 243 242 230 243 225 234 217 233 208 238 197 243 180 243 91 238 79Z" fill="#8aa2e2"/>
<path d="M231 74 211 54 193 45 173 45 157 53 142 67 113 102 85 120 72 133 48 169 23 196 16 206 9 223 11 230 19 236 33 240 58 240 85 236 100 236 111 238 121 243 201 243 223 236 237 229 238 227 236 223 230 217 229 210 239 185 243 167 243 100 240 90Z" fill="#728dd9"/>
<path d="M229 76 210 58 198 51 191 49 175 49 155 59 138 76 111 109 89 123 73 139 58 162 30 192 20 206 14 222 15 228 19 232 27 236 36 238 61 238 81 235 104 235 119 239 126 243 192 243 209 239 230 231 233 228 233 225 226 215 226 209 233 194 240 170 243 150 243 112 238 92ZM120 205 122 210 118 214 112 214 110 212 113 206 117 204Z" fill="#5a78d0"/>
<path d="M228 86 216 74 207 68 190 61 175 61 157 69 148 76 132 93 107 131 40 190 30 205 26 218 26 226 35 232 45 234 105 232 141 243 166 243 208 236 224 229 225 224 217 215 216 211 225 194 233 172 239 134 237 107 234 97ZM121 191 128 200 129 212 124 217 119 219 106 220 100 218 97 214 99 209 114 192 118 190Z" fill="#4a6acb"/>
<path d="M95 184 90 180 78 179 68 182 60 187 54 193 51 199 51 204 55 212 51 224 59 227 70 227 79 225 80 223 74 215 93 196 95 192ZM220 97 210 93 203 94 178 107 170 106 159 97 149 97 143 100 133 110 128 118 124 129 123 151 127 166 134 182 137 209 136 213 130 219 117 225 115 227 116 229 124 233 141 238 163 239 197 234 207 231 213 227 213 225 209 221 203 218 198 213 198 210 212 189 220 173 229 144 230 117 228 109Z" fill="#4669cc"/>
<path d="M215 111 206 110 195 115 178 128 153 152 149 158 143 177 141 195 142 210 140 215 126 226 127 230 145 236 168 236 191 232 202 227 200 223 195 221 188 215 188 211 206 185 219 155 223 131 221 119Z" fill="#4873d0"/>
<path d="M213 123 210 121 202 121 187 129 169 146 158 160 150 175 146 188 145 213 139 220 132 225 131 227 133 230 144 234 159 235 188 230 193 227 193 225 183 217 182 213 199 190 211 166 217 142 216 129Z" fill="#4f9ad2"/>
<path d="M207 130 200 129 189 134 166 157 158 169 152 182 149 194 149 213 136 226 139 230 150 233 163 233 175 231 185 226 177 217 177 214 192 196 201 182 207 169 212 151 212 138Z" fill="#63b9a6"/>
<path d="M204 135 196 135 185 141 172 154 164 165 156 180 153 189 153 214 141 225 142 229 148 231 167 231 178 227 178 224 173 218 173 214 192 193 198 184 207 163 209 154 209 143Z" fill="#79c373"/>
<path d="M203 140 195 139 190 141 183 146 168 163 160 177 155 192 155 204 158 211 158 215 145 225 146 228 153 230 167 229 172 226 172 223 167 218 167 214 178 206 188 196 198 181 203 170 207 153 206 145Z" fill="#8ec954"/>
<path d="M153 226 160 227 164 225 162 223 155 223ZM201 144 194 143 186 147 179 153 167 169 161 181 158 191 158 201 161 207 170 208 184 198 194 185 200 173 204 160 204 149Z" fill="#a7d24d"/>
<path d="M199 149 191 148 187 150 177 159 170 169 162 188 162 199 165 203 170 204 178 200 185 194 193 183 201 163 201 153Z" fill="#c7d943"/>
<path d="M196 152 190 152 182 157 170 173 165 187 165 195 168 199 172 200 180 196 193 180 199 163 199 158Z" fill="#e6dc3a"/>
<path d="M191 155 186 157 180 162 174 170 168 184 169 195 175 196 179 194 190 182 196 168 196 158Z" fill="#f0b12f"/>
<path d="M192 159 187 159 184 161 174 173 170 184 170 189 173 193 180 191 189 181 194 169 194 161Z" fill="#ed7725"/>
<path d="M191 162 187 162 182 165 176 173 173 180 173 188 175 190 182 187 189 178 192 170Z" fill="#e43e1e"/>
<path d="M189 165 184 166 179 171 175 180 175 185 177 187 180 186 188 177 190 171Z" fill="#d8201c"/>
</g></g>
<path transform="translate(232.85 30.75) scale(.5)" d="M27 67h0M80 19h0M64 33h0M31 51h0M24 63h0M85 15h0M102 14h0M33 59h0M119 106h0M52 45h0M110 18h0M77 21h0M18 75h0M30 62h0M50 40h0M28 44h0M113 28h0M95 11h0M10 43h0M22 59h0M101 19h0M66 32h0M83 9h0M75 18h0M19 59h0M14 87h0M102 10h0M19 83h0M46 120h0M18 79h0M38 48h0M23 59h0M24 67h0M119 105h0M72 25h0M56 40h0M97 15h0M7 94h0M11 89h0M25 44h0M22 62h0M114 25h0M114 21h0M42 52h0M45 44h0M26 55h0M102 17h0M74 23h0M52 46h0M21 64h0M60 39h0M121 109h0M71 18h0M36 38h0M30 54h0M28 52h0M115 27h0M46 121h0M17 76h0M89 13h0M3 97h0M83 15h0M13 84h0M120 118h0M86 14h0M16 35h0M84 17h0M27 54h0M24 70h0M34 57h0M117 32h0M26 70h0M20 68h0M3 100h0M29 42h0M24 66h0M34 59h0M115 119h0M35 45h0M104 14h0M117 29h0M38 121h0M67 27h0M34 38h0M11 55h0M56 40h0M121 117h0M7 60h0" stroke="#3a5cc4" stroke-opacity="0.6" stroke-width="1.40" stroke-linecap="square"/>
<path transform="translate(232.85 30.75) scale(.5)" d="M21 65h0M51 31h0M93 11h0M15 55h0M34 57h0M34 51h0M17 41h0M60 39h0M10 87h0M92 10h0M35 54h0M12 60h0M65 25h0M15 71h0M56 42h0M10 62h0M5 49h0M81 18h0M120 34h0M86 13h0M31 40h0M8 95h0M94 13h0M66 21h0M9 94h0M34 45h0M7 57h0M118 30h0M58 38h0M61 40h0M57 29h0M21 58h0M65 30h0M32 57h0M105 11h0M76 22h0M57 42h0M38 51h0M25 65h0M4 93h0M26 40h0M19 76h0M50 43h0M36 56h0M1 104h0M60 35h0M32 44h0M61 37h0M22 47h0M121 106h0M115 119h0M44 42h0M118 31h0M79 14h0M6 89h0M26 67h0M68 24h0M10 65h0M74 23h0M54 36h0M16 75h0M114 17h0M11 61h0M67 32h0M24 73h0M85 14h0M25 68h0M66 30h0M105 21h0M45 35h0M113 121h0M9 58h0M21 46h0M83 16h0M84 15h0M115 121h0M9 91h0M112 20h0M15 68h0M2 120h0M110 21h0M26 47h0" stroke="#5a7ad0" stroke-opacity="0.45" stroke-width="1.40" stroke-linecap="square"/>
<path transform="translate(232.85 30.75) scale(.5)" d="M115 53h0M112 112h0M118 91h0M118 45h0M53 115h0M114 45h0M64 67h0M101 102h0M65 83h0M64 74h0M9 100h0M59 85h0M103 120h0M28 120h0M36 73h0M85 34h0M59 119h0M94 47h0M40 82h0M21 114h0M86 22h0M24 107h0M116 59h0M107 36h0M107 99h0M50 94h0M64 48h0M46 63h0M26 102h0M32 100h0M108 41h0M77 61h0M116 47h0M99 22h0M115 42h0M55 103h0M75 52h0M73 54h0M120 86h0M28 87h0M65 104h0M120 88h0M106 105h0M62 54h0M104 107h0M62 116h0M59 48h0M102 47h0M9 116h0M75 31h0M27 86h0M112 101h0M45 72h0M50 107h0M65 116h0M71 121h0M58 66h0M77 51h0M66 106h0M34 114h0M79 33h0M108 85h0M11 118h0M118 52h0M45 86h0M59 85h0M56 51h0M27 83h0M111 32h0M94 57h0M69 85h0M82 71h0M51 109h0M53 84h0M42 89h0M56 72h0M46 78h0M66 70h0M68 60h0M63 60h0M103 106h0M50 85h0M97 58h0M48 115h0M71 47h0M102 114h0M119 59h0M63 67h0M100 30h0M53 109h0M101 112h0M99 30h0M40 101h0M104 36h0M46 97h0M110 99h0M104 40h0M45 116h0M108 93h0M76 46h0M48 95h0M102 115h0M23 97h0M8 104h0M38 79h0M116 67h0M47 72h0M55 100h0M111 116h0M68 66h0M70 68h0M108 82h0M14 100h0M51 54h0M72 119h0M27 116h0M95 38h0M112 36h0M100 33h0M101 108h0M68 66h0M108 52h0M60 46h0M81 42h0M66 88h0M52 117h0M60 49h0M52 83h0M34 107h0M8 106h0M97 121h0M60 84h0M45 88h0M113 75h0M83 46h0M17 101h0M120 54h0M15 118h0M19 90h0M119 113h0M41 118h0M48 112h0M103 107h0M35 97h0M111 58h0M35 88h0M88 44h0M75 75h0M28 97h0M97 56h0M26 91h0M114 87h0M61 71h0M52 52h0M67 48h0M68 92h0M110 43h0M29 88h0M46 99h0M86 56h0M113 70h0M65 52h0M86 46h0M38 71h0M29 74h0M113 56h0M109 81h0M41 106h0M41 117h0M81 29h0M115 97h0M114 35h0M101 115h0M113 71h0M41 118h0M76 36h0M54 107h0M108 106h0M33 77h0M78 56h0M10 117h0M66 78h0M121 51h0M26 93h0M116 44h0M26 120h0M24 103h0M96 115h0M21 111h0M80 52h0M73 73h0M86 120h0M91 56h0M101 41h0M61 86h0M12 118h0M79 30h0M86 31h0M29 112h0M99 30h0M37 117h0M82 37h0M72 63h0" stroke="#2a48b0" stroke-opacity="0.45" stroke-width="1.50" stroke-linecap="square"/>
<path transform="translate(232.85 30.75) scale(.5)" d="M88 40h0M97 34h0M51 114h0M114 59h0M98 101h0M54 104h0M64 120h0M67 44h0M82 66h0M41 63h0M81 70h0M44 70h0M41 61h0M30 75h0M30 120h0M40 62h0M29 97h0M19 100h0M99 121h0M28 97h0M98 101h0M37 65h0M45 68h0M16 110h0M85 26h0M52 92h0M75 64h0M10 108h0M59 102h0M121 61h0M73 43h0M54 113h0M72 63h0M112 80h0M28 106h0M13 115h0M120 69h0M61 54h0M80 119h0M88 32h0M69 121h0M80 49h0M49 114h0M53 106h0M43 74h0M14 96h0M45 81h0M110 79h0M16 94h0M55 55h0M100 35h0M45 97h0M104 109h0M106 102h0M63 64h0M57 88h0M109 56h0M23 111h0M71 42h0M114 54h0M19 105h0M57 112h0M96 39h0M5 113h0M56 62h0M79 72h0M51 100h0M113 107h0M3 112h0M17 107h0M49 111h0M33 107h0M106 112h0M24 99h0M37 117h0M93 48h0M29 88h0M99 33h0M80 70h0M78 63h0M66 39h0M60 54h0M53 110h0M42 92h0M61 121h0M113 39h0M39 116h0M114 115h0M51 118h0M47 88h0M81 29h0M109 34h0M58 51h0M114 42h0M69 51h0M26 94h0M107 115h0M73 67h0M24 102h0M9 110h0M92 54h0M100 118h0M7 117h0M42 116h0M36 102h0M73 31h0M32 119h0M79 38h0M12 119h0M18 96h0M63 100h0M91 22h0M39 95h0M62 62h0M75 43h0M102 92h0M51 118h0M31 74h0M111 82h0M120 68h0M102 48h0M56 54h0M80 48h0M41 68h0M62 51h0M38 64h0M16 119h0M115 69h0M40 71h0M55 99h0M88 45h0M84 119h0M95 46h0M77 52h0M45 56h0M62 69h0M105 93h0M45 93h0M66 117h0M70 77h0M65 101h0M83 40h0M63 108h0M83 38h0M67 104h0M55 60h0M33 84h0M78 61h0M32 85h0M59 92h0M60 72h0M104 118h0M99 119h0M57 119h0M53 70h0M120 59h0M79 66h0M87 36h0M112 57h0M113 74h0M25 117h0M100 103h0M62 115h0M118 69h0M60 78h0M11 99h0M116 43h0M42 83h0M70 68h0M57 114h0M59 77h0M66 107h0M13 105h0M16 118h0M47 58h0M97 58h0M95 40h0M60 64h0M28 85h0M75 70h0M94 50h0M68 64h0M61 105h0M120 46h0M63 61h0M71 65h0M113 35h0M15 104h0M20 96h0M39 71h0M53 101h0M69 64h0M24 107h0M50 105h0M87 26h0M102 102h0M62 97h0M43 82h0" stroke="#9ab0ea" stroke-opacity="0.45" stroke-width="1.50" stroke-linecap="square"/>
<path transform="translate(232.85 30.75) scale(.5)" d="M38 91h0M58 55h0M113 77h0M33 103h0M80 57h0M79 46h0M86 21h0M121 75h0M56 81h0M114 87h0M28 112h0M59 78h0M114 57h0M87 24h0M82 62h0M60 117h0M116 65h0M80 63h0M107 115h0M81 52h0M78 46h0M78 66h0M61 97h0M116 44h0M102 102h0M24 89h0M121 77h0M97 109h0M97 54h0M57 62h0M64 74h0M53 81h0M25 101h0M30 96h0M106 90h0M47 113h0M35 105h0M84 27h0M106 47h0M114 54h0M68 84h0M120 46h0M32 102h0M87 61h0M86 44h0M89 50h0M111 67h0M33 102h0M61 46h0M83 60h0M107 85h0M8 108h0M63 116h0M34 102h0M16 103h0M85 65h0M27 82h0M57 61h0M63 55h0M108 102h0M117 88h0M88 58h0M31 88h0M118 115h0M58 79h0M35 84h0M52 64h0M66 100h0M73 34h0M66 75h0M61 54h0M94 39h0M96 40h0M85 43h0M111 117h0M92 45h0M64 105h0M106 110h0M52 78h0M100 102h0M94 29h0M16 115h0M26 103h0M39 92h0M63 63h0M6 113h0M111 108h0M29 100h0M57 64h0M118 93h0M42 66h0M32 98h0M63 52h0M103 120h0M39 79h0M117 100h0M59 86h0M36 108h0M96 40h0M95 52h0M33 85h0M76 62h0M50 76h0M55 85h0M9 108h0M114 63h0M62 47h0M75 29h0M106 90h0M76 53h0M43 83h0M63 79h0M49 73h0M27 81h0M18 112h0M28 81h0M114 74h0M39 94h0M34 97h0M99 34h0M103 120h0M109 93h0M75 48h0M105 104h0M16 100h0M15 109h0M63 104h0M110 46h0M106 117h0M36 76h0M35 93h0M72 84h0M25 117h0M117 52h0M113 35h0M118 88h0M61 69h0M61 121h0M34 84h0M102 103h0M72 36h0M30 105h0M52 100h0M15 109h0M87 29h0M108 43h0M48 79h0M38 89h0M116 44h0M61 91h0M118 51h0M112 101h0M68 40h0M68 53h0M120 62h0M110 108h0M66 40h0M79 37h0M90 51h0M109 107h0M84 43h0M62 92h0M96 27h0M95 44h0M68 53h0M63 72h0M83 44h0M94 104h0M102 38h0M107 52h0M70 92h0M39 84h0M7 117h0M112 55h0M37 88h0M103 53h0M75 57h0M86 45h0M111 57h0M31 108h0M53 118h0M85 66h0M95 25h0M75 50h0M23 108h0M118 82h0M100 118h0M105 112h0M11 113h0M35 118h0M94 26h0M77 64h0M68 61h0M36 69h0M21 105h0M113 45h0M88 55h0M79 51h0M65 90h0" stroke="#ffffff" stroke-opacity="0.3" stroke-width="1.50" stroke-linecap="square"/>
</g>
<rect x="232.6" y="30.5" width="61.2" height="61" fill="url(#fadeT)"/>
<g clip-path="url(#ct4)"><g filter="url(#bl50)">
<g transform="translate(294.425 30.625) scale(0.25)">
<path d="M242 68 231 56 213 44 200 40 183 40 170 44 154 54 143 65 131 81 118 93 99 101 80 106 68 111 62 117 51 146 36 176 25 187 0 204 0 243 238 243 243 238Z" fill="#ecf1fa"/>
<path d="M242 75 224 56 204 46 179 46 159 56 146 68 128 92 120 100 88 119 68 138 57 153 45 174 37 183 0 210 0 240 5 243 232 243 243 233Z" fill="#d7e0f5"/>
<path d="M243 83 226 63 210 53 201 50 191 49 178 51 165 57 145 75 129 97 117 109 94 123 77 138 66 151 49 177 43 183 12 205 0 216 0 233 4 237 18 243 228 242 243 227Z" fill="#bac8ee"/>
<path d="M243 88 235 77 222 64 208 56 195 53 188 53 175 56 165 61 149 75 128 103 116 115 94 129 76 146 57 173 44 186 17 205 4 217 1 224 3 230 10 236 29 243 223 242 232 235 243 222Z" fill="#a2b5e8"/>
<path d="M243 93 234 80 222 68 209 60 199 57 184 57 176 59 166 64 149 79 128 107 115 120 94 134 76 152 55 180 10 215 6 222 7 228 13 234 19 237 42 243 219 242 231 233 243 218Z" fill="#8aa2e2"/>
<path d="M242 97 233 84 220 71 206 63 199 61 184 61 168 67 161 72 146 87 126 114 114 126 95 139 81 153 68 171 56 183 31 201 14 216 11 221 13 229 31 238 66 243 211 243 226 234 236 224 243 212Z" fill="#728dd9"/>
<path d="M242 102 228 83 218 74 208 68 199 65 184 65 170 70 160 77 146 91 123 122 112 133 96 144 65 179 34 202 17 218 16 226 21 231 27 234 41 238 81 241 89 243 206 243 225 232 233 224 243 207Z" fill="#5a78d0"/>
<path d="M243 116 230 98 218 86 209 80 202 77 191 75 182 76 171 80 159 88 142 105 115 146 88 171 57 191 38 207 27 218 27 226 34 231 48 235 95 238 122 243 188 243 202 239 215 233 228 222 243 197Z" fill="#4a6acb"/>
<path d="M243 138 237 128 225 119 219 117 198 115 181 106 174 104 168 104 158 107 149 113 137 127 129 145 124 169 117 179 107 183 84 187 73 192 42 219 41 223 49 229 63 232 104 234 128 237 180 238 200 233 213 226 219 220 240 187 243 179Z" fill="#4669cc"/>
<path d="M237 147 232 140 224 136 214 135 202 137 186 137 179 135 165 127 155 126 149 129 141 138 135 153 130 176 125 187 120 193 111 196 101 196 89 199 61 214 54 219 53 223 59 227 74 230 149 235 174 235 198 229 205 225 211 219 227 198 235 183 239 170 239 153Z" fill="#4873d0"/>
<path d="M232 157 225 148 220 146 177 148 159 143 152 144 145 150 141 157 132 187 133 206 130 209 123 211 100 209 89 210 68 216 62 222 65 225 77 228 150 233 170 233 192 228 203 221 221 200 226 192 233 171Z" fill="#4f9ad2"/>
<path d="M226 165 219 156 209 153 194 154 176 158 154 159 146 166 142 174 139 184 139 196 141 206 136 212 124 215 86 215 74 219 73 223 91 227 150 231 169 231 184 228 194 223 220 196 226 181Z" fill="#63b9a6"/>
<path d="M222 169 216 161 209 158 191 159 179 164 157 169 147 179 145 185 145 197 147 206 141 213 130 217 91 218 85 220 84 222 96 225 133 227 145 229 170 229 182 226 188 223 197 213 208 206 216 198 223 182Z" fill="#79c373"/>
<path d="M217 167 207 161 197 161 190 163 160 178 156 181 152 188 152 209 148 213 138 218 116 222 145 227 170 227 181 223 190 213 209 203 216 195 220 186 220 173Z" fill="#8ec954"/>
<path d="M215 170 211 166 206 164 197 164 185 169 169 184 164 191 164 200 167 205 167 208 147 218 143 222 152 225 169 224 176 219 175 211 177 209 197 207 207 202 215 193 218 185 218 176Z" fill="#a7d24d"/>
<path d="M209 169 205 167 197 167 190 170 182 177 177 187 178 197 182 201 189 204 197 204 206 200 211 195 215 187 215 177Z" fill="#c7d943"/>
<path d="M209 172 205 170 196 170 190 173 185 178 182 184 182 193 186 199 190 201 199 201 204 199 210 193 213 187 213 178Z" fill="#e6dc3a"/>
<path d="M204 172 197 172 191 175 186 181 185 192 190 198 198 199 205 196 208 193 211 187 210 177Z" fill="#f0b12f"/>
<path d="M203 174 197 174 189 180 187 190 190 195 194 197 202 196 208 190 209 180Z" fill="#ed7725"/>
<path d="M203 176 197 176 190 182 189 189 191 193 194 195 202 194 207 188 208 183 206 178Z" fill="#e43e1e"/>
<path d="M203 178 197 178 192 182 191 189 193 192 200 193 205 189 206 182Z" fill="#d8201c"/>
</g></g>
<path transform="translate(294.55 30.75) scale(.5)" d="M48 61h0M89 23h0M106 23h0M25 62h0M73 36h0M92 25h0M29 52h0M115 33h0M20 85h0M13 95h0M23 79h0M5 103h0M33 40h0M25 80h0M12 79h0M121 41h0M32 49h0M94 20h0M31 77h0M19 87h0M28 70h0M33 74h0M22 90h0M40 55h0M30 67h0M21 47h0M28 74h0M98 25h0M42 42h0M69 42h0M7 100h0M65 47h0M58 41h0M91 25h0M74 30h0M1 107h0M33 35h0M114 28h0M49 49h0M45 58h0M10 71h0M1 103h0M24 42h0M17 95h0M31 64h0M15 60h0M11 89h0M13 38h0M24 38h0M111 27h0M69 36h0M80 28h0M82 26h0M76 34h0M3 120h0M119 37h0M71 38h0M104 21h0M82 27h0M57 55h0M55 57h0M8 67h0M114 120h0M65 45h0M34 68h0M4 66h0M31 47h0M43 49h0M61 40h0M118 33h0M10 95h0M24 79h0M6 46h0M119 121h0M30 79h0M29 82h0M118 33h0M40 63h0M7 73h0M49 53h0M12 95h0M43 59h0M24 89h0" stroke="#3a5cc4" stroke-opacity="0.6" stroke-width="1.40" stroke-linecap="square"/>
<path transform="translate(294.55 30.75) scale(.5)" d="M38 60h0M42 34h0M63 45h0M69 41h0M31 77h0M28 42h0M74 31h0M1 107h0M21 91h0M117 37h0M22 74h0M33 75h0M24 79h0M74 30h0M54 56h0M89 19h0M50 58h0M10 49h0M7 100h0M27 82h0M36 52h0M62 46h0M13 50h0M55 52h0M18 79h0M68 33h0M66 41h0M59 44h0M63 42h0M56 53h0M79 32h0M3 121h0M33 60h0M106 22h0M40 60h0M46 51h0M21 54h0M121 39h0M26 82h0M25 76h0M89 21h0M40 42h0M35 33h0M13 95h0M48 55h0M22 37h0M90 22h0M35 69h0M47 35h0M72 28h0M41 51h0M36 50h0M48 34h0M50 40h0M31 38h0M118 31h0M80 25h0M32 62h0M35 61h0M7 94h0M27 86h0M108 25h0M20 90h0M84 25h0M117 119h0M20 55h0M80 24h0M11 68h0M21 87h0M77 33h0M42 55h0M10 43h0M40 51h0M28 74h0M41 58h0M26 85h0M108 21h0M61 53h0M48 42h0M47 51h0M105 26h0M67 44h0M108 25h0M99 24h0M47 56h0M34 72h0M21 50h0" stroke="#5a7ad0" stroke-opacity="0.45" stroke-width="1.40" stroke-linecap="square"/>
<path transform="translate(294.55 30.75) scale(.5)" d="M27 109h0M98 40h0M10 104h0M98 62h0M110 61h0M88 119h0M91 60h0M81 38h0M71 50h0M83 120h0M82 47h0M97 35h0M34 89h0M120 49h0M83 36h0M35 96h0M112 115h0M67 78h0M83 58h0M39 79h0M121 60h0M31 98h0M107 32h0M107 68h0M114 38h0M49 100h0M69 69h0M78 37h0M58 74h0M63 59h0M40 96h0M24 105h0M38 120h0M28 115h0M54 84h0M116 108h0M59 69h0M72 46h0M77 56h0M98 42h0M90 65h0M21 106h0M107 45h0M98 31h0M114 54h0M44 82h0M92 67h0M115 115h0M15 117h0M32 101h0M116 52h0M120 45h0M34 86h0M49 71h0M39 84h0M111 50h0M96 34h0M34 104h0M104 64h0M54 77h0M17 100h0M21 95h0M64 84h0M72 61h0M78 60h0M102 64h0M40 89h0M92 116h0M69 53h0M89 44h0M8 106h0M97 39h0M96 116h0M112 65h0M45 83h0M55 73h0M58 118h0M38 103h0M109 118h0M64 53h0M109 113h0M64 66h0M108 34h0M28 97h0M51 73h0M36 98h0M60 76h0M64 61h0M118 61h0M92 120h0M60 62h0M97 46h0M39 85h0M23 109h0M100 33h0M25 108h0M95 29h0M55 77h0M90 45h0M42 78h0M110 47h0M96 59h0M94 34h0M32 100h0M106 33h0M94 118h0M63 58h0M28 102h0M108 57h0M117 96h0M101 66h0M87 119h0M68 63h0M98 63h0M108 111h0M52 74h0M53 119h0M55 80h0M100 56h0M102 33h0M62 59h0M64 87h0M20 96h0M30 104h0M106 109h0M88 57h0M71 65h0M100 69h0M8 113h0M39 80h0M100 55h0M44 120h0M52 93h0M121 88h0M115 40h0M111 54h0M122 84h0M35 102h0M52 87h0M110 59h0M13 109h0M25 113h0M46 91h0M32 120h0M32 114h0M23 116h0M76 47h0M58 80h0M75 65h0M69 120h0M35 100h0M60 95h0M114 45h0M61 58h0M42 115h0M63 86h0M82 66h0M56 66h0M48 71h0M45 116h0M108 46h0M61 74h0M79 39h0M46 85h0M100 43h0M8 108h0M63 71h0M32 93h0M15 104h0M31 99h0M80 47h0M72 120h0M87 65h0M45 101h0M27 106h0M44 83h0M95 69h0M76 46h0M52 75h0M21 116h0M115 110h0M103 119h0M11 113h0M71 45h0M105 55h0M21 99h0M106 60h0M107 107h0M116 44h0M87 46h0M98 45h0M116 111h0M59 74h0M12 110h0M116 72h0M99 40h0M119 69h0M99 33h0M69 65h0M29 96h0M55 67h0M104 57h0M99 37h0M30 116h0M110 108h0M84 49h0M59 83h0M121 51h0M84 61h0M89 56h0M55 68h0M58 74h0M58 62h0M85 54h0M109 57h0M64 74h0M33 121h0M74 44h0M105 115h0M55 85h0" stroke="#2a48b0" stroke-opacity="0.45" stroke-width="1.50" stroke-linecap="square"/>
<path transform="translate(294.55 30.75) scale(.5)" d="M121 103h0M66 79h0M119 87h0M55 76h0M43 91h0M117 90h0M79 38h0M63 71h0M120 58h0M104 115h0M22 102h0M79 38h0M72 61h0M12 104h0M98 46h0M111 58h0M110 46h0M119 48h0M77 47h0M84 46h0M100 66h0M63 82h0M109 47h0M72 44h0M16 101h0M43 72h0M24 101h0M118 57h0M118 56h0M122 75h0M74 45h0M6 112h0M72 61h0M29 120h0M95 44h0M91 52h0M115 63h0M83 44h0M101 31h0M22 97h0M64 81h0M61 59h0M34 104h0M102 42h0M117 63h0M39 77h0M44 81h0M67 62h0M28 103h0M69 63h0M119 61h0M112 56h0M70 50h0M13 115h0M55 87h0M105 58h0M18 98h0M104 36h0M13 111h0M91 30h0M17 99h0M31 97h0M118 48h0M25 116h0M49 70h0M36 88h0M77 49h0M75 45h0M97 121h0M97 54h0M44 78h0M11 110h0M13 102h0M116 50h0M89 33h0M120 100h0M61 80h0M103 53h0M20 118h0M26 109h0M41 87h0M101 54h0M16 112h0M104 62h0M69 72h0M92 116h0M32 106h0M67 60h0M107 69h0M62 96h0M53 68h0M72 57h0M61 88h0M27 119h0M84 39h0M46 95h0M43 93h0M75 57h0M112 103h0M115 48h0M17 107h0M54 78h0M59 117h0M114 109h0M44 92h0M53 90h0M86 121h0M29 120h0M82 55h0M43 92h0M111 59h0M25 112h0M117 96h0M107 118h0M88 43h0M20 108h0M37 94h0M90 52h0M40 89h0M56 98h0M98 54h0M62 75h0M73 118h0M116 67h0M96 53h0M70 64h0M68 118h0M76 58h0M68 73h0M46 86h0M4 111h0M56 75h0M37 87h0M63 119h0M61 87h0M99 40h0M100 60h0M108 117h0M104 118h0M106 52h0M122 78h0M41 116h0M120 98h0M75 44h0M73 117h0M102 57h0M120 74h0M85 65h0M95 66h0M101 59h0M103 57h0M23 113h0M107 39h0M87 121h0M46 94h0M100 60h0M95 61h0M10 108h0M81 52h0M99 45h0M7 110h0M51 118h0M107 62h0M50 90h0M42 84h0M109 110h0M46 83h0M27 113h0M106 43h0M120 46h0M77 42h0M48 117h0M70 68h0M20 109h0M47 72h0M113 64h0M113 45h0M119 99h0M17 116h0M66 85h0M76 63h0M56 89h0M68 119h0M86 53h0M103 53h0M59 63h0M73 52h0M70 57h0M56 66h0M90 45h0M117 64h0M45 90h0M121 66h0M55 95h0M112 101h0M60 63h0M67 76h0M82 37h0M89 48h0M100 49h0M77 61h0M54 71h0M9 117h0M19 102h0" stroke="#9ab0ea" stroke-opacity="0.45" stroke-width="1.50" stroke-linecap="square"/>
<path transform="translate(294.55 30.75) scale(.5)" d="M97 36h0M52 120h0M55 119h0M37 88h0M24 116h0M92 118h0M91 38h0M114 47h0M99 60h0M81 40h0M21 96h0M101 30h0M120 60h0M86 39h0M69 73h0M74 47h0M34 121h0M51 80h0M96 41h0M34 116h0M51 75h0M84 48h0M60 82h0M57 73h0M109 115h0M101 62h0M64 87h0M105 51h0M52 90h0M103 118h0M71 64h0M102 47h0M109 58h0M103 60h0M73 67h0M103 59h0M71 50h0M52 93h0M50 89h0M91 119h0M55 70h0M80 60h0M96 59h0M92 36h0M47 76h0M116 68h0M110 64h0M26 117h0M59 120h0M94 29h0M56 119h0M78 45h0M43 101h0M58 82h0M61 119h0M44 75h0M25 100h0M117 64h0M106 111h0M121 94h0M39 86h0M122 51h0M21 103h0M63 120h0M33 89h0M87 44h0M59 84h0M14 115h0M94 33h0M54 93h0M68 76h0M60 59h0M69 50h0M105 57h0M61 66h0M115 98h0M27 110h0M119 68h0M122 86h0M64 63h0M79 60h0M83 118h0M112 99h0M82 34h0M89 41h0M101 47h0M54 117h0M36 119h0M59 121h0M47 121h0M105 109h0M47 93h0M114 113h0M103 31h0M51 90h0M57 101h0M48 89h0M43 101h0M33 95h0M53 93h0M100 40h0M24 103h0M43 118h0M91 66h0M17 120h0M26 109h0M65 83h0M121 50h0M53 70h0M31 89h0M20 111h0M19 108h0M109 107h0M72 56h0M105 40h0M46 95h0M42 76h0M116 110h0M73 119h0M36 103h0M15 106h0M98 47h0M51 70h0M60 70h0M16 105h0M7 110h0M111 53h0M103 63h0M23 106h0M77 55h0M94 57h0M66 67h0M26 115h0M104 110h0M101 55h0M38 90h0M43 91h0M8 108h0M80 57h0M43 83h0M111 64h0M17 118h0M76 118h0M82 52h0M73 45h0M96 39h0M93 45h0M21 95h0M108 57h0M101 58h0M69 67h0M81 54h0M93 46h0M82 118h0M90 59h0M115 115h0M69 72h0M91 66h0M33 100h0M99 46h0M108 35h0M79 48h0M106 113h0M117 91h0M116 55h0M105 54h0M90 41h0M64 82h0M65 74h0M36 94h0M51 121h0M65 121h0M53 119h0M117 60h0M102 119h0M119 96h0" stroke="#ffffff" stroke-opacity="0.3" stroke-width="1.50" stroke-linecap="square"/>
</g>
<rect x="294.3" y="30.5" width="61.2" height="61" fill="url(#fadeT)"/>
<g clip-path="url(#ct5)"><g filter="url(#bl50)">
<g transform="translate(357.725 30.625) scale(0.25)">
<path d="M243 87 232 74 220 67 203 65 191 68 175 77 161 90 146 110 129 142 123 148 108 149 97 146 82 137 77 137 63 149 25 165 0 178 0 242 222 243 233 229 243 211Z" fill="#ecf1fa"/>
<path d="M240 89 229 77 218 71 205 69 191 72 173 83 157 100 140 129 132 151 126 158 87 158 61 161 35 168 5 182 0 186 0 236 21 243 213 243 229 225 243 199 243 95Z" fill="#d7e0f5"/>
<path d="M239 94 228 81 214 74 203 73 186 78 174 86 156 106 144 127 135 153 128 163 123 165 77 164 57 167 21 179 0 193 0 231 16 238 43 243 207 243 217 234 226 223 233 212 243 189 243 102Z" fill="#bac8ee"/>
<path d="M239 99 233 90 227 84 219 79 203 76 186 81 173 90 165 98 154 113 145 130 135 159 130 166 127 168 73 168 47 173 30 179 16 186 0 199 0 226 5 230 16 235 47 241 119 240 134 243 204 242 219 228 229 214 237 199 243 182 243 108Z" fill="#a2b5e8"/>
<path d="M240 106 233 94 221 83 209 79 200 79 192 81 174 92 161 106 146 132 137 159 134 165 129 170 123 172 103 170 72 171 51 175 33 181 16 190 5 199 0 206 0 221 6 227 15 232 28 236 46 239 122 238 137 240 145 243 198 243 207 237 225 217 235 199 242 180 243 115Z" fill="#8aa2e2"/>
<path d="M234 100 223 88 212 83 201 82 184 88 168 101 156 117 146 137 138 162 130 173 125 175 99 173 73 174 56 177 37 183 21 191 7 203 3 211 4 219 9 225 20 231 46 237 71 238 93 236 128 236 144 239 153 243 193 243 207 234 224 215 233 199 240 180 243 168 243 124 239 110Z" fill="#728dd9"/>
<path d="M237 111 230 99 222 91 215 87 202 85 190 88 178 95 159 116 148 137 140 162 136 170 130 176 125 178 102 176 72 177 40 185 24 193 11 204 7 213 8 218 14 225 21 229 44 235 81 236 99 234 131 234 142 236 160 243 190 242 204 234 218 220 227 207 235 190 240 174 243 155 242 129Z" fill="#5a78d0"/>
<path d="M234 118 224 102 216 96 207 93 191 95 179 102 163 119 154 134 143 165 138 175 131 182 125 184 84 182 50 188 39 192 25 200 18 207 16 211 16 216 20 222 31 228 49 232 77 233 110 230 137 230 168 240 180 240 193 236 205 228 215 218 224 205 232 188 237 171 239 158 239 140Z" fill="#4a6acb"/>
<path d="M229 133 223 122 217 116 209 112 201 111 188 114 178 120 163 136 153 155 144 177 134 189 130 191 80 190 61 193 50 196 37 202 30 208 28 215 30 219 38 224 55 228 89 228 124 224 139 224 167 233 181 233 188 231 199 225 211 214 225 191 232 165 232 145Z" fill="#4669cc"/>
<path d="M224 146 220 138 214 132 208 129 196 128 186 131 176 137 166 147 146 183 135 195 119 196 107 194 86 194 64 197 46 203 39 208 37 211 37 215 43 221 58 225 89 225 129 219 139 219 167 228 179 228 187 226 199 219 210 208 220 191 226 169 226 155Z" fill="#4873d0"/>
<path d="M218 150 210 141 203 138 193 138 187 140 178 145 167 156 148 187 135 200 127 201 105 197 75 198 52 204 44 210 43 214 46 218 50 220 62 223 96 222 120 218 129 215 140 215 166 224 179 224 186 222 197 216 208 205 217 189 221 173 221 160Z" fill="#4f9ad2"/>
<path d="M50 214 53 217 61 220 84 221 114 216 124 212 126 210 126 207 122 204 111 201 81 200 61 204 53 208ZM211 153 203 147 194 146 189 147 177 154 167 165 151 190 141 202 139 206 140 209 152 216 166 220 182 219 196 212 208 199 215 183 216 164Z" fill="#63b9a6"/>
<path d="M116 209 114 206 109 204 87 202 64 206 57 211 57 214 64 218 84 219 106 215 113 212ZM209 159 204 154 198 152 192 152 181 157 171 167 150 197 147 204 148 208 153 212 161 215 180 216 198 207 207 196 212 184 213 169Z" fill="#79c373"/>
<path d="M64 212 65 214 70 216 88 216 100 213 104 211 104 208 94 205 83 205 69 208ZM208 164 202 158 199 157 191 157 181 162 172 172 155 200 156 207 167 212 181 212 188 210 199 203 207 192 210 183 210 169Z" fill="#8ec954"/>
<path d="M204 164 199 161 191 161 183 165 178 170 166 194 166 202 169 205 179 208 187 207 194 204 203 195 208 183 208 172Z" fill="#a7d24d"/>
<path d="M201 166 196 164 190 165 186 167 177 177 173 189 173 194 178 202 192 202 201 194 206 181 206 175Z" fill="#c7d943"/>
<path d="M199 168 189 168 181 175 177 184 177 194 182 200 190 200 200 192 203 186 204 176Z" fill="#e6dc3a"/>
<path d="M194 169 188 171 180 181 179 191 180 194 185 198 190 198 194 196 201 187 202 176 200 172Z" fill="#f0b12f"/>
<path d="M195 171 188 173 181 183 181 191 186 196 194 194 200 186 201 178 200 175Z" fill="#ed7725"/>
<path d="M195 173 189 174 183 182 182 187 183 191 186 194 193 193 199 185 199 177Z" fill="#e43e1e"/>
<path d="M195 175 190 175 185 180 184 189 188 193 192 192 197 187 198 178Z" fill="#d8201c"/>
</g></g>
<path transform="translate(357.85 30.75) scale(.5)" d="M44 71h0M3 94h0M60 69h0M116 109h0M31 65h0M21 41h0M31 82h0M0 114h0M3 94h0M57 81h0M52 121h0M30 42h0M23 69h0M7 58h0M35 68h0M40 68h0M119 46h0M114 109h0M32 83h0M106 36h0M2 80h0M59 59h0M95 38h0M91 34h0M14 120h0M17 121h0M60 71h0M63 68h0M52 62h0M89 41h0M10 82h0M117 109h0M46 76h0M51 61h0M64 80h0M5 75h0M43 72h0M45 52h0M118 102h0M49 68h0M19 50h0M74 57h0M29 54h0M17 68h0M9 65h0M17 73h0M14 61h0M59 64h0M25 55h0M18 85h0M17 121h0M121 46h0M89 38h0M98 35h0M42 75h0M55 72h0M66 74h0M46 67h0M77 53h0M108 37h0M52 59h0M19 66h0M120 102h0M23 85h0M6 93h0M45 74h0M25 81h0M42 80h0M12 120h0M39 66h0M54 76h0M14 63h0M36 79h0M38 62h0M46 55h0M108 37h0M110 35h0M11 79h0M52 80h0M77 51h0M6 77h0M15 120h0M69 60h0M22 44h0" stroke="#3a5cc4" stroke-opacity="0.6" stroke-width="1.40" stroke-linecap="square"/>
<path transform="translate(357.85 30.75) scale(.5)" d="M87 42h0M56 121h0M75 57h0M45 65h0M113 40h0M45 82h0M116 107h0M59 65h0M1 93h0M12 87h0M31 121h0M72 50h0M16 85h0M30 82h0M117 108h0M26 84h0M121 50h0M109 37h0M34 61h0M115 41h0M59 73h0M6 86h0M19 68h0M74 50h0M120 97h0M35 83h0M4 76h0M62 76h0M37 79h0M73 58h0M52 121h0M52 76h0M2 117h0M18 80h0M121 97h0M100 32h0M92 37h0M26 47h0M33 79h0M61 78h0M30 75h0M106 36h0M116 43h0M22 84h0M39 81h0M8 61h0M121 48h0M31 57h0M117 43h0M31 68h0M41 62h0M4 118h0M65 70h0M61 65h0M6 88h0M35 44h0M120 48h0M59 67h0M89 40h0M74 56h0M82 45h0M52 54h0M111 118h0M51 64h0M44 70h0M72 62h0M37 53h0M40 82h0M0 90h0M16 77h0M15 120h0M17 84h0M53 65h0M38 42h0M112 32h0M61 52h0M27 59h0M120 48h0M55 65h0M98 36h0M46 71h0M1 115h0M9 121h0M45 63h0M2 95h0M18 121h0" stroke="#5a7ad0" stroke-opacity="0.45" stroke-width="1.40" stroke-linecap="square"/>
<path transform="translate(357.85 30.75) scale(.5)" d="M21 92h0M113 82h0M53 90h0M33 94h0M121 83h0M119 92h0M83 63h0M13 109h0M72 84h0M58 92h0M5 103h0M16 117h0M21 95h0M116 91h0M115 100h0M77 77h0M65 85h0M19 103h0M90 54h0M5 106h0M101 44h0M75 84h0M104 116h0M47 88h0M115 96h0M84 52h0M102 114h0M99 57h0M41 112h0M76 113h0M109 105h0M109 51h0M76 119h0M91 65h0M82 71h0M87 53h0M27 96h0M120 66h0M87 58h0M97 52h0M49 118h0M81 77h0M15 106h0M52 112h0M65 93h0M75 72h0M36 114h0M40 97h0M101 49h0M109 67h0M80 67h0M33 112h0M74 80h0M97 54h0M120 84h0M38 88h0M25 100h0M85 62h0M60 89h0M91 63h0M37 87h0M62 88h0M81 70h0M117 73h0M86 63h0M110 59h0M70 120h0M64 90h0M107 45h0M66 86h0M106 115h0M18 95h0M48 93h0M81 118h0M111 91h0M88 62h0M74 85h0M111 73h0M102 54h0M19 99h0M41 93h0M75 72h0M74 88h0M83 68h0M120 89h0M81 119h0M37 94h0M70 77h0M94 65h0M114 53h0M78 119h0M33 98h0M58 113h0M93 50h0M100 65h0M3 111h0M37 119h0M73 86h0M69 80h0M118 80h0M119 91h0M117 77h0M43 113h0M70 112h0M72 120h0M101 117h0M91 119h0M99 61h0M55 113h0M52 94h0M101 114h0M4 100h0M43 86h0M54 116h0M14 108h0M113 86h0M39 87h0M44 113h0M86 121h0M97 61h0M113 100h0M79 63h0M95 63h0M117 84h0M108 55h0M93 59h0M6 108h0M112 44h0M39 118h0M115 67h0M114 50h0M45 118h0M94 53h0M71 89h0M82 121h0M108 46h0M33 113h0M97 119h0M113 97h0M101 57h0M25 117h0M110 46h0M113 86h0M73 91h0M89 58h0M30 91h0M100 118h0M84 115h0M100 45h0M53 116h0M26 113h0M117 81h0M116 62h0M18 102h0M82 73h0M46 89h0M19 116h0M58 88h0M9 104h0M43 86h0M103 49h0M30 96h0M39 116h0M73 85h0M66 112h0M77 79h0M42 86h0M6 101h0M105 111h0M2 109h0M86 117h0M74 81h0M73 67h0M52 96h0M104 50h0M87 64h0M115 72h0M104 48h0M45 117h0M44 92h0M72 90h0M63 110h0M86 59h0M93 113h0M81 60h0M115 71h0M117 51h0M97 51h0M19 97h0M68 82h0M85 120h0M102 53h0M87 61h0M61 86h0M116 62h0M34 113h0M107 52h0M118 54h0M104 65h0M95 54h0M62 90h0M116 90h0M74 111h0M17 99h0M73 112h0M92 52h0M100 113h0M113 101h0M93 116h0M119 72h0M103 49h0M51 95h0M76 118h0M33 93h0M75 75h0" stroke="#2a48b0" stroke-opacity="0.45" stroke-width="1.50" stroke-linecap="square"/>
<path transform="translate(357.85 30.75) scale(.5)" d="M24 97h0M85 64h0M108 105h0M75 80h0M27 96h0M77 63h0M88 50h0M112 68h0M104 48h0M73 84h0M54 115h0M94 48h0M51 90h0M73 118h0M24 94h0M86 54h0M69 80h0M97 53h0M99 54h0M57 93h0M101 115h0M19 100h0M48 90h0M90 60h0M111 109h0M101 49h0M58 111h0M96 114h0M55 115h0M101 46h0M100 109h0M82 58h0M104 66h0M108 62h0M28 93h0M78 74h0M88 69h0M111 62h0M117 93h0M72 71h0M115 58h0M89 51h0M93 116h0M113 76h0M121 80h0M117 68h0M103 56h0M71 81h0M13 93h0M18 94h0M45 96h0M68 89h0M41 113h0M108 46h0M112 94h0M49 86h0M86 48h0M110 50h0M70 118h0M115 49h0M115 80h0M115 53h0M113 67h0M100 111h0M104 59h0M6 106h0M35 96h0M103 109h0M12 116h0M38 116h0M114 52h0M71 111h0M8 106h0M13 112h0M3 101h0M92 45h0M120 83h0M14 104h0M40 95h0M114 62h0M43 95h0M106 55h0M108 42h0M109 44h0M65 109h0M91 120h0M5 100h0M98 48h0M21 96h0M29 98h0M99 41h0M116 71h0M33 94h0M117 98h0M80 71h0M95 117h0M6 100h0M23 116h0M104 116h0M116 49h0M51 88h0M114 50h0M52 88h0M121 69h0M97 61h0M91 118h0M114 104h0M111 62h0M31 119h0M82 59h0M89 114h0M17 107h0M67 90h0M118 71h0M99 116h0M101 108h0M39 117h0M89 120h0M104 108h0M54 113h0M45 96h0M119 94h0M43 113h0M118 92h0M79 68h0M102 49h0M100 120h0M62 86h0M107 52h0M119 61h0M121 81h0M19 106h0M16 106h0M119 60h0M59 94h0M100 110h0M90 57h0M95 48h0M81 67h0M82 62h0M38 93h0M93 60h0M88 49h0M101 57h0M97 64h0M89 58h0M48 117h0M52 111h0M2 104h0M29 89h0M114 45h0M98 110h0M56 97h0M99 54h0M30 99h0M1 105h0M70 110h0M45 95h0M88 46h0M109 109h0M112 52h0M6 98h0M94 113h0M6 103h0M8 97h0M29 97h0M24 96h0M12 112h0M91 45h0M55 111h0M11 96h0M29 87h0M96 53h0M20 104h0M122 63h0M114 64h0M77 74h0M103 60h0M80 62h0M111 59h0M113 63h0M49 113h0M65 97h0M92 117h0M106 64h0M16 100h0M54 90h0M117 93h0M92 46h0M121 59h0M68 80h0M41 94h0M24 99h0" stroke="#9ab0ea" stroke-opacity="0.45" stroke-width="1.50" stroke-linecap="square"/>
<path transform="translate(357.85 30.75) scale(.5)" d="M120 86h0M53 89h0M107 56h0M34 95h0M114 67h0M17 94h0M109 53h0M58 96h0M88 69h0M116 93h0M103 49h0M100 62h0M18 100h0M106 43h0M30 93h0M41 93h0M91 54h0M117 67h0M93 118h0M121 72h0M31 114h0M18 107h0M12 103h0M70 119h0M73 86h0M25 100h0M16 95h0M104 64h0M62 89h0M88 116h0M82 116h0M24 116h0M117 71h0M14 112h0M56 91h0M45 96h0M111 93h0M108 62h0M102 58h0M90 48h0M83 66h0M36 93h0M49 90h0M115 68h0M86 114h0M94 116h0M73 111h0M108 52h0M60 112h0M119 68h0M69 85h0M35 86h0M69 119h0M116 77h0M101 59h0M66 97h0M116 59h0M117 89h0M94 60h0M20 91h0M74 81h0M91 67h0M31 94h0M104 61h0M103 50h0M48 91h0M115 101h0M104 57h0M104 116h0M39 118h0M87 65h0M12 116h0M115 66h0M81 118h0M80 121h0M108 46h0M36 91h0M53 94h0M10 107h0M75 114h0M92 52h0M110 61h0M60 89h0M114 82h0M112 95h0M113 47h0M11 105h0M117 85h0M75 120h0M63 86h0M115 58h0M28 93h0M96 46h0M110 46h0M95 111h0M10 96h0M102 116h0M79 117h0M108 48h0M68 96h0M24 93h0M99 54h0M115 90h0M33 88h0M83 115h0M107 68h0M102 43h0M27 116h0M114 47h0M71 82h0M53 113h0M30 119h0M23 99h0M96 58h0M32 87h0M116 79h0M36 118h0M101 42h0M37 117h0M31 118h0M115 101h0M105 48h0M106 58h0M5 103h0M55 97h0M108 105h0M21 112h0M73 78h0M111 94h0M94 42h0M108 101h0M106 51h0M60 92h0M19 106h0M66 96h0M67 116h0M20 111h0M66 117h0M43 96h0M61 86h0M117 63h0M56 89h0M117 52h0M69 93h0M89 66h0M114 73h0M37 115h0M92 67h0M93 121h0M83 52h0M26 114h0M91 56h0M23 95h0M22 114h0M95 44h0M105 106h0M98 116h0M83 119h0M10 102h0M116 84h0M73 72h0M117 56h0M115 67h0M115 85h0M113 88h0M95 112h0M79 75h0M22 95h0M107 102h0M84 120h0M30 89h0M10 115h0M96 115h0M83 68h0M87 57h0M117 90h0M104 48h0M81 54h0M77 68h0M23 101h0M94 51h0M43 118h0M101 116h0M59 88h0M66 96h0M78 57h0M77 117h0M95 120h0M117 64h0M100 58h0M25 100h0M84 62h0" stroke="#ffffff" stroke-opacity="0.3" stroke-width="1.50" stroke-linecap="square"/>
</g>
<rect x="357.6" y="30.5" width="61.2" height="61" fill="url(#fadeT)"/>
<g clip-path="url(#cb0)"><g filter="url(#bl60)">
<g transform="translate(26.325 109.425) scale(0.25)">
<path d="M20 50 14 57 6 71 0 92 0 125 2 135 0 145 0 217 5 223 15 231 35 239 76 239 83 241 185 241 193 236 205 225 212 215 217 202 218 183 206 140 206 100 201 87 191 75 184 70 171 64 162 62 140 62 122 68 109 77 102 79 93 71 87 62 75 49 60 40 51 38 39 39 31 42Z" fill="#f8f9fc"/>
<path d="M27 52 14 67 9 77 5 91 4 118 7 141 5 150 0 160 0 206 4 213 18 226 26 230 42 234 60 233 85 226 94 226 115 234 125 236 146 236 167 230 180 222 187 215 194 203 196 195 196 184 192 170 180 144 179 127 181 108 176 95 167 87 159 84 144 84 134 88 125 96 121 103 117 121 112 133 104 141 100 141 97 137 97 105 91 83 79 62 64 49 53 45 39 46Z" fill="#f0f3fa"/>
<path d="M25 59 17 69 9 89 7 101 7 114 10 130 10 146 0 171 0 195 5 207 10 214 18 221 27 226 45 230 57 229 68 226 95 213 102 213 121 221 134 223 150 221 165 214 173 206 178 194 177 181 169 166 158 155 146 149 136 149 127 152 106 163 102 163 96 160 91 154 88 147 88 134 91 119 90 96 85 80 79 69 67 56 54 50 41 50 30 55Z" fill="#e9eef7"/>
<path d="M113 185 112 193 115 198 121 203 131 207 140 207 147 205 156 197 158 190 155 181 149 175 142 172 128 173 118 179ZM41 54 32 58 23 66 12 88 10 99 10 117 13 131 13 146 4 169 2 178 2 189 7 204 18 217 34 225 53 226 65 223 85 211 101 193 102 185 89 163 83 148 83 139 87 121 87 99 81 79 75 69 65 59 54 54Z" fill="#e2e8f4"/>
<path d="M44 60 34 64 26 71 19 83 16 92 15 119 18 132 18 148 8 177 8 189 12 201 16 207 24 214 39 220 53 220 67 215 80 204 86 193 87 182 77 152 77 138 82 116 82 102 79 88 71 73 63 65 55 61Z" fill="#d4deef"/>
<path d="M50 66 41 67 35 70 27 78 20 94 19 116 23 135 23 146 14 175 14 190 20 203 28 210 43 215 54 214 64 210 74 201 79 191 79 176 72 154 72 138 77 118 77 99 74 88 67 76 57 68Z" fill="#c7d4e9"/>
<path d="M43 73 37 76 30 83 24 98 23 111 28 141 26 155 20 175 20 188 23 196 32 205 39 208 53 208 63 203 69 197 73 187 73 178 67 155 67 137 72 119 73 105 71 94 65 82 55 74Z" fill="#bbcae4"/>
<path d="M43 81 35 87 31 94 29 102 29 115 33 132 33 144 29 164 28 179 30 188 36 196 42 199 52 199 61 193 65 184 61 138 67 116 67 102 62 89 56 83 52 81Z" fill="#aec0de"/>
<path d="M47 98 43 101 41 106 43 135 38 153 38 164 42 171 50 173 54 169 55 165 55 152 52 140 52 127 56 115 56 106 52 99Z" fill="#a7bbd8"/>
</g></g>
<path transform="translate(26.45 109.55) scale(.5)" d="M34 55h0M16 85h0M109 78h0M22 67h0M37 93h0M10 110h0M12 43h0M76 107h0M21 78h0M46 114h0M8 100h0M14 37h0M46 75h0M90 96h0M103 97h0M2 41h0M27 91h0M24 42h0M26 76h0M6 84h0M107 48h0M31 105h0M30 87h0M55 41h0M23 83h0M23 55h0M18 40h0M24 75h0M28 80h0M66 49h0M31 99h0M17 95h0M45 86h0M9 70h0M54 62h0M51 100h0M25 111h0M9 93h0M19 67h0M65 110h0M2 70h0M76 30h0M50 82h0M18 36h0M62 58h0M23 59h0M26 46h0M13 80h0M19 48h0M16 80h0M19 48h0M48 64h0M31 78h0M31 77h0M18 44h0M9 63h0M0 42h0M30 37h0M31 84h0M62 56h0M36 40h0M53 34h0M30 86h0M40 49h0M20 60h0M32 32h0M56 95h0M35 99h0M26 66h0M29 112h0M12 108h0M26 99h0M21 43h0M21 57h0M9 85h0M23 96h0M74 106h0M20 66h0M14 104h0M30 89h0M65 99h0M40 86h0M44 50h0M37 64h0M28 94h0M54 67h0M14 66h0M90 89h0M25 66h0M16 52h0M29 59h0M37 61h0M26 29h0M30 89h0M19 78h0M35 61h0M84 92h0M69 110h0M38 65h0M51 121h0M85 24h0M41 72h0M72 100h0M65 42h0M20 91h0M41 79h0M26 112h0M55 89h0M14 35h0M88 90h0M79 58h0M16 95h0M76 99h0M15 95h0M36 91h0M94 109h0M17 100h0M31 71h0M39 106h0M32 54h0M100 46h0M37 48h0M20 59h0M13 51h0M25 41h0M34 73h0M82 45h0M84 40h0M32 107h0M6 52h0M8 101h0M6 47h0M44 51h0M34 72h0M5 111h0M34 79h0M10 83h0M65 88h0M12 63h0M37 61h0M7 88h0M28 98h0M29 100h0M63 73h0M18 55h0M102 106h0M29 74h0M17 43h0M90 51h0M57 88h0M18 26h0M12 47h0M47 80h0M78 92h0M38 49h0M85 71h0M24 58h0M31 94h0M30 54h0M87 60h0M26 93h0M111 107h0M18 41h0M83 62h0M19 50h0M21 73h0M27 114h0M37 53h0M39 94h0M63 51h0M62 109h0M37 89h0M27 89h0M16 34h0M67 117h0M36 90h0M73 81h0M29 62h0M36 44h0M38 93h0M42 47h0M11 83h0M63 98h0M16 41h0M68 103h0M62 68h0M13 82h0M59 102h0M30 79h0M22 46h0M9 47h0M32 57h0M7 61h0M21 38h0M12 47h0M85 66h0M29 94h0M27 82h0M6 99h0M21 17h0M73 61h0M43 97h0M98 85h0M22 83h0M21 63h0M21 75h0M45 92h0M31 26h0M95 91h0M30 92h0M46 89h0M33 57h0M29 101h0M17 59h0M30 54h0M34 53h0M67 88h0M38 58h0M83 106h0M9 26h0M77 86h0M30 56h0M55 89h0M33 75h0M29 57h0M13 62h0M60 53h0M19 47h0M20 70h0M82 41h0M5 66h0M23 93h0M40 66h0M35 31h0M19 67h0M11 104h0M76 106h0M78 24h0M28 26h0M20 56h0M92 118h0M9 105h0M36 103h0M67 68h0M4 42h0M30 47h0M16 81h0M9 59h0M4 85h0M30 37h0M6 78h0M23 59h0M14 92h0M87 85h0M29 93h0M29 92h0M70 76h0M21 71h0M27 65h0M31 90h0M25 46h0M31 56h0M41 94h0M13 76h0M84 114h0M9 61h0M12 47h0M17 46h0M11 56h0M11 93h0M24 23h0M33 53h0M4 55h0M77 38h0M30 60h0M36 87h0M32 49h0M84 75h0M30 60h0M30 45h0M6 97h0M21 95h0M25 56h0M38 100h0M16 55h0M34 97h0M6 88h0M56 114h0M74 60h0M12 108h0M24 91h0M79 106h0M96 63h0M4 35h0M17 51h0M13 41h0M54 115h0M34 35h0M19 68h0M14 74h0M31 57h0M21 72h0M36 50h0M19 82h0M40 87h0M20 77h0M11 100h0M58 91h0M73 77h0M48 70h0M16 79h0M73 57h0M50 88h0M16 54h0M104 78h0M15 65h0M8 74h0M38 82h0M3 81h0M38 51h0M30 89h0M85 93h0M30 82h0M69 108h0M71 107h0M73 68h0M26 53h0M32 64h0M62 44h0M35 112h0M20 54h0M31 35h0M53 106h0M12 46h0M77 80h0M14 101h0M54 82h0M49 107h0M8 62h0M16 98h0M18 107h0M39 71h0M14 76h0M8 51h0M46 88h0M16 97h0M72 105h0M31 93h0M11 78h0M79 120h0M13 78h0M31 61h0M59 33h0M82 89h0M90 90h0M6 67h0M87 113h0M35 42h0M14 72h0M12 87h0M42 84h0M3 96h0M38 62h0M25 67h0M77 84h0M27 61h0M82 86h0M66 76h0M23 43h0M11 106h0M22 72h0M35 63h0M25 56h0M16 57h0M23 32h0M34 43h0M25 66h0M22 38h0M5 89h0M18 61h0M22 87h0M53 83h0M18 31h0M32 38h0M4 35h0M36 70h0M45 95h0M21 56h0M27 79h0M17 86h0M16 99h0M48 85h0M4 89h0M28 98h0M17 87h0M31 43h0M30 59h0M49 110h0M42 95h0M99 101h0M37 51h0M30 87h0M37 94h0M15 53h0M21 109h0M19 82h0M17 103h0M78 96h0M10 82h0M30 63h0M18 87h0M16 62h0M50 55h0M101 114h0M45 119h0M12 93h0M17 67h0M13 59h0M69 76h0M15 106h0M14 64h0M28 84h0M35 66h0M37 71h0M70 59h0M17 43h0M26 64h0M43 60h0M50 84h0M78 67h0M59 33h0M33 49h0M25 33h0M12 53h0M44 52h0M46 94h0M18 52h0M26 64h0M74 53h0M19 98h0M22 71h0M101 67h0M23 66h0M22 103h0" stroke="#4a6cb0" stroke-opacity="0.55" stroke-width="1.50" stroke-linecap="square"/>
<path transform="translate(26.45 109.55) scale(.5)" d="M21 90h0M54 36h0M71 89h0M40 63h0M73 85h0M26 54h0M45 109h0M26 51h0M6 93h0M75 75h0M36 62h0M60 104h0M30 82h0M32 96h0M28 35h0M22 64h0M6 105h0M13 39h0M22 115h0M34 89h0M24 66h0M24 92h0M26 56h0M34 47h0M99 77h0M50 89h0M39 90h0M107 92h0M29 90h0M97 62h0M15 35h0M114 62h0M2 92h0M28 45h0M5 88h0M3 74h0M20 66h0M16 67h0M86 87h0M43 96h0M71 106h0M25 42h0M16 77h0M35 66h0M15 101h0M11 89h0M16 102h0M33 75h0M57 61h0M6 73h0M8 96h0M23 46h0M16 83h0M16 70h0M92 82h0M14 42h0M13 101h0M61 102h0M28 62h0M10 79h0M33 57h0M27 55h0M36 113h0M55 88h0M70 70h0M30 56h0M22 20h0M21 79h0M8 94h0M21 94h0M27 80h0M97 107h0M32 108h0M4 46h0M35 47h0M59 41h0M86 61h0M7 78h0M21 97h0M38 49h0M22 116h0M69 97h0M12 88h0M62 80h0M35 67h0M24 40h0M93 61h0M27 36h0M30 74h0M24 84h0M97 115h0M30 41h0M13 46h0M6 96h0M59 99h0M26 46h0M19 37h0M71 65h0M3 85h0M16 74h0M36 49h0M26 61h0M67 80h0M58 88h0M56 109h0M30 96h0M102 103h0M68 43h0M8 52h0M22 93h0M17 44h0M34 32h0M25 107h0M78 86h0M30 68h0M15 69h0M78 89h0M95 83h0M14 105h0M33 91h0M50 96h0M37 91h0M25 98h0M112 75h0M26 91h0M27 83h0M54 114h0M7 87h0M35 59h0M1 91h0M36 84h0M21 33h0M17 108h0M62 55h0M0 84h0M26 95h0M23 109h0M64 105h0M29 99h0M38 89h0M19 94h0M38 81h0M67 100h0M11 67h0M30 74h0M21 33h0M8 106h0M32 57h0M12 81h0M6 82h0M31 64h0M11 79h0M56 39h0M39 43h0M59 53h0M80 98h0M25 110h0M15 63h0M14 69h0M84 67h0M29 97h0M26 101h0M16 51h0M9 101h0M26 32h0M26 59h0M31 71h0M28 78h0M22 45h0M41 112h0M29 29h0M25 94h0M23 62h0M6 101h0M58 88h0M31 64h0M23 59h0M22 102h0M20 75h0M28 95h0M83 58h0M91 104h0M21 31h0M5 82h0M27 84h0M23 69h0M72 69h0M5 70h0M73 50h0M76 75h0M35 101h0M16 48h0M25 89h0M47 55h0M9 61h0M114 94h0M27 111h0M55 35h0M60 44h0M51 89h0M52 48h0M23 63h0M31 43h0M37 65h0M36 57h0M105 77h0M38 92h0M7 85h0M53 94h0M24 73h0M24 34h0M19 85h0M93 92h0M21 55h0M98 41h0M40 103h0M19 47h0M21 74h0M13 115h0M29 93h0M87 63h0M32 79h0M24 51h0M72 97h0M28 101h0M75 78h0M19 86h0M20 86h0M111 94h0M33 59h0M102 62h0M68 103h0M11 103h0M15 99h0M14 43h0M11 56h0M39 80h0M85 59h0M35 65h0M55 29h0M19 63h0M33 102h0M39 74h0M65 102h0M20 102h0M35 84h0M41 87h0M18 107h0M45 102h0M23 49h0M17 48h0M14 95h0M33 73h0M88 85h0M72 75h0M20 28h0M8 99h0M55 80h0M62 57h0M22 85h0M14 102h0M30 70h0M34 54h0M61 115h0M73 64h0M19 59h0M19 56h0M65 80h0M42 110h0M19 104h0M53 115h0M13 54h0M20 54h0M33 101h0M19 61h0M30 76h0M118 101h0M27 74h0M42 89h0M25 49h0M31 56h0M21 77h0M16 94h0M29 37h0M62 73h0M84 65h0M69 113h0M14 96h0M77 23h0M28 89h0M1 84h0M13 58h0M12 71h0M20 66h0M11 68h0M24 100h0M114 102h0M59 73h0M32 83h0M42 93h0M24 113h0M105 43h0M88 79h0M65 77h0M34 79h0M28 71h0M23 94h0M49 75h0M31 50h0M14 56h0M17 61h0M27 51h0M16 110h0M94 114h0M39 24h0M16 82h0M6 64h0M12 52h0M20 89h0M82 77h0M20 76h0M31 85h0M17 70h0M21 49h0M15 53h0M67 104h0M40 94h0M100 60h0M55 69h0M23 23h0M22 85h0M82 106h0M60 93h0M23 50h0M32 100h0M22 32h0M95 97h0M41 59h0M34 92h0M88 53h0M17 110h0M91 52h0M93 80h0M26 56h0M17 68h0M80 63h0M25 107h0M37 32h0M23 44h0M27 49h0M10 114h0M36 81h0M30 44h0M24 103h0M13 34h0M12 51h0M14 67h0M32 83h0M37 53h0M20 30h0M13 78h0M46 57h0M64 103h0M26 17h0M52 82h0M24 59h0M31 48h0M34 53h0M11 47h0M42 37h0M27 24h0M43 91h0M21 45h0M8 88h0M30 84h0M22 51h0M34 38h0M25 99h0M5 57h0M31 29h0M23 78h0M72 72h0M80 83h0M66 90h0M1 91h0M23 104h0M81 34h0M82 37h0M25 79h0M27 111h0M25 53h0M97 78h0M43 57h0M86 59h0M25 92h0M15 56h0M41 87h0M20 105h0M10 46h0M24 104h0M20 74h0M0 74h0M22 68h0M20 67h0M89 91h0M82 94h0M23 76h0M32 99h0M28 28h0M15 97h0M29 106h0M18 44h0M33 68h0M32 103h0M37 100h0M70 86h0M19 111h0" stroke="#7090c0" stroke-opacity="0.5" stroke-width="1.50" stroke-linecap="square"/>
<path transform="translate(26.45 109.55) scale(.5)" d="M63 49h0M20 60h0M12 77h0M22 63h0M40 68h0M39 62h0M48 90h0M20 104h0M24 116h0M41 97h0M13 83h0M26 62h0M89 51h0M84 71h0M34 95h0M87 64h0M25 108h0M30 109h0M17 50h0M64 32h0M27 40h0M21 80h0M93 81h0M14 110h0M34 71h0M33 90h0M88 73h0M102 60h0M25 103h0M5 100h0M56 98h0M19 77h0M27 107h0M34 24h0M10 90h0M31 61h0M28 33h0M72 88h0M15 48h0M70 106h0M20 87h0M32 42h0M69 116h0M85 59h0M40 49h0M58 102h0M18 42h0M22 50h0M23 48h0M43 51h0M6 95h0M16 52h0M18 59h0M24 72h0M9 44h0M13 61h0M44 45h0M13 83h0M18 29h0M24 98h0M37 94h0M11 58h0M73 105h0M1 58h0M24 60h0M40 91h0M27 26h0M27 67h0M66 101h0M31 73h0M30 61h0M33 63h0M19 72h0M79 100h0M23 34h0M4 91h0M4 75h0M49 105h0M32 95h0M22 34h0M16 39h0M2 96h0M29 106h0M78 46h0M37 87h0M59 55h0M77 47h0M42 117h0M31 100h0M13 36h0M50 56h0M26 45h0M3 67h0M87 84h0M27 104h0M76 107h0M40 65h0M22 92h0M41 33h0M17 86h0M26 92h0M8 26h0M29 71h0M27 103h0M20 38h0M62 96h0M27 76h0M76 108h0M88 71h0M4 88h0M6 49h0M9 54h0M30 83h0M25 50h0M17 89h0M58 53h0M28 46h0M53 92h0M17 92h0M27 61h0M55 49h0M83 112h0M68 52h0M73 56h0M77 93h0M69 79h0M44 85h0M31 91h0M29 71h0M27 116h0M26 89h0M22 69h0M43 53h0M94 56h0M8 58h0M58 89h0M23 109h0M109 73h0M15 75h0M110 88h0M16 17h0M5 85h0M69 81h0M34 56h0M16 86h0M24 71h0M13 88h0M18 89h0M21 97h0M79 91h0M85 25h0M12 73h0M12 90h0M13 113h0M37 44h0M5 46h0M34 46h0M67 79h0M90 89h0M25 68h0M11 79h0M108 87h0M16 109h0M15 80h0M10 84h0M31 91h0M24 46h0M29 115h0M50 84h0M53 69h0M27 90h0M15 75h0M48 80h0M43 62h0M17 91h0M16 76h0M73 111h0M18 58h0M64 79h0M19 103h0M74 96h0M22 43h0M45 70h0M38 91h0M25 34h0M9 25h0M34 112h0M21 45h0M15 103h0M21 36h0M30 62h0M11 72h0M114 101h0M8 47h0M54 62h0M18 37h0M43 83h0M16 107h0M6 104h0M68 67h0M34 72h0M88 113h0M17 45h0M89 69h0M28 32h0M14 65h0M21 62h0M70 101h0M64 103h0M23 90h0M10 107h0M21 81h0M27 37h0M23 41h0M17 104h0M66 96h0M12 93h0M13 49h0M36 50h0M72 110h0M27 47h0M34 71h0M32 59h0M9 68h0M6 62h0M29 32h0M10 63h0M27 71h0M48 53h0M88 63h0M19 119h0M15 57h0M33 62h0M29 58h0M17 45h0M11 32h0M21 76h0M32 32h0M28 102h0M63 58h0M44 74h0M12 89h0M108 87h0M79 29h0M42 43h0M25 73h0M73 100h0M25 54h0M40 51h0M99 100h0M28 63h0M111 83h0M44 73h0M35 97h0M13 45h0M22 77h0M56 71h0M21 52h0M20 71h0M50 86h0M74 93h0M32 52h0M18 81h0M51 60h0M40 59h0M32 103h0M69 27h0M54 72h0M27 46h0M34 68h0M47 85h0M20 39h0M32 50h0M36 66h0M32 96h0M31 68h0M41 89h0M72 87h0M37 50h0M8 98h0M41 55h0M36 44h0M21 79h0M16 71h0M22 71h0M40 70h0M78 110h0M107 67h0M14 61h0M15 52h0M89 85h0M32 107h0M19 68h0M31 65h0M75 42h0M34 74h0M68 85h0M19 104h0M84 56h0M62 71h0M76 111h0M18 53h0M22 99h0M84 29h0M21 81h0M15 48h0M92 43h0M60 110h0M36 82h0M36 57h0M69 102h0M11 54h0M89 120h0M99 114h0M54 116h0M41 92h0M21 69h0M67 77h0M17 69h0M36 90h0M40 87h0M89 41h0M36 87h0M18 87h0M19 68h0M25 77h0M97 50h0M13 71h0M20 64h0M91 103h0M6 47h0M6 102h0M13 112h0M103 75h0M54 39h0M29 65h0M38 109h0M0 97h0M50 59h0M9 77h0M20 97h0M107 65h0M92 39h0M59 68h0M12 82h0M21 78h0M7 95h0M29 68h0M15 40h0M42 85h0M37 99h0M30 76h0M45 121h0M53 60h0M79 39h0M99 99h0M23 56h0M31 40h0M30 52h0M91 61h0M65 74h0M107 100h0M5 67h0M4 62h0M19 84h0M6 42h0M17 99h0M15 84h0M5 56h0M35 99h0M22 82h0M33 67h0M10 29h0M22 78h0M29 73h0M22 51h0M99 92h0M16 50h0M5 39h0M23 18h0M34 96h0M60 72h0M29 54h0M19 55h0M15 45h0M20 47h0M18 83h0M18 59h0M12 56h0M40 94h0M39 74h0M92 97h0M97 65h0M72 91h0M23 47h0M29 32h0M49 92h0M33 49h0M4 71h0M45 78h0M35 63h0M23 73h0M85 107h0M82 95h0M27 34h0M22 93h0M27 61h0M76 89h0M32 60h0M23 76h0M34 86h0M27 53h0M80 110h0M85 105h0M32 90h0M79 84h0M55 56h0M18 95h0M21 111h0M18 48h0M40 89h0M35 66h0M41 95h0M20 59h0M51 103h0M9 49h0M42 46h0M9 49h0M34 53h0M84 46h0M43 102h0M25 37h0M37 81h0M69 99h0M87 109h0M16 94h0M17 48h0M11 64h0M75 65h0" stroke="#5a9a9a" stroke-opacity="0.45" stroke-width="1.50" stroke-linecap="square"/>
</g>
<g clip-path="url(#cb1)"><g filter="url(#bl60)">
<g transform="translate(88.225 109.425) scale(0.25)">
<path d="M27 47 13 63 5 78 0 92 0 213 4 224 13 241 159 241 172 235 182 228 193 216 198 206 200 199 200 181 192 161 164 120 156 112 152 110 143 110 125 120 119 122 114 121 107 113 96 86 87 69 72 50 64 44 54 40 41 40Z" fill="#f8f9fc"/>
<path d="M30 56 20 66 14 75 7 90 0 115 0 190 8 217 19 237 23 241 78 241 92 229 102 224 134 226 150 222 163 214 171 204 174 195 173 182 166 169 157 161 148 156 136 153 115 153 108 147 102 133 95 105 89 89 80 72 68 58 52 50 40 51Z" fill="#f0f3fa"/>
<path d="M46 57 34 61 22 72 10 94 4 115 1 134 1 171 4 190 10 210 22 232 31 241 68 241 88 222 103 205 108 202 116 202 121 204 132 204 138 202 144 196 145 188 143 184 137 179 129 177 115 178 108 172 101 154 91 108 79 80 70 68 57 59Z" fill="#e9eef7"/>
<path d="M46 63 33 68 23 78 12 99 7 116 4 135 4 170 10 200 16 215 22 225 30 234 40 240 55 241 70 233 80 223 90 209 98 190 99 173 91 122 81 92 74 80 65 70 57 65Z" fill="#e2e8f4"/>
<path d="M42 74 34 78 26 86 16 105 11 123 9 137 9 168 13 190 17 202 25 217 31 224 40 230 55 231 62 228 71 221 80 209 86 197 90 181 90 152 84 118 74 93 70 87 58 76 53 74Z" fill="#d4deef"/>
<path d="M43 83 38 85 30 92 20 110 14 134 13 161 17 186 26 207 37 219 43 222 51 223 63 218 72 209 79 197 84 180 85 154 80 123 71 100 67 94 57 85 52 83Z" fill="#c7d4e9"/>
<path d="M45 92 38 95 30 103 24 115 18 141 18 165 22 185 30 202 39 211 46 214 53 214 65 207 75 191 79 177 80 152 75 124 68 107 63 100 56 94 51 92Z" fill="#bbcae4"/>
<path d="M44 103 33 112 29 119 24 136 23 162 26 178 33 194 38 200 45 204 54 204 64 197 70 187 73 178 75 163 74 145 68 122 62 111 52 103Z" fill="#aec0de"/>
<path d="M44 118 39 122 33 133 30 148 30 160 32 171 38 185 43 190 52 192 60 187 65 178 68 165 68 153 65 137 58 123 52 118Z" fill="#a7bbd8"/>
</g></g>
<path transform="translate(88.35 109.55) scale(.5)" d="M14 95h0M16 85h0M34 92h0M45 93h0M52 114h0M15 50h0M32 112h0M78 117h0M5 86h0M16 80h0M18 92h0M68 81h0M24 86h0M33 72h0M42 56h0M20 83h0M29 93h0M12 55h0M16 90h0M19 91h0M45 104h0M36 86h0M63 38h0M42 96h0M9 79h0M35 81h0M14 50h0M16 60h0M33 55h0M37 79h0M34 32h0M16 65h0M13 71h0M58 89h0M21 93h0M3 57h0M37 66h0M2 76h0M23 109h0M19 93h0M10 59h0M8 88h0M18 61h0M43 82h0M14 24h0M10 110h0M30 80h0M8 43h0M28 118h0M9 57h0M34 99h0M36 78h0M46 112h0M59 91h0M48 43h0M8 96h0M31 83h0M26 95h0M38 43h0M27 52h0M30 93h0M27 100h0M57 118h0M30 97h0M17 69h0M32 108h0M27 111h0M15 59h0M61 73h0M21 110h0M16 59h0M23 58h0M19 113h0M18 87h0M9 61h0M22 106h0M22 95h0M69 88h0M24 46h0M10 55h0M76 102h0M44 80h0M14 82h0M17 93h0M28 66h0M80 90h0M7 72h0M34 117h0M11 58h0M24 69h0M29 54h0M27 65h0M30 66h0M28 112h0M11 110h0M41 93h0M24 99h0M25 93h0M95 106h0M74 105h0M33 85h0M65 116h0M15 43h0M39 81h0M19 51h0M38 88h0M26 57h0M26 40h0M31 110h0M4 82h0M82 115h0M5 72h0M37 61h0M34 66h0M34 92h0M83 84h0M30 54h0M15 105h0M71 101h0M7 66h0M12 79h0M8 50h0M47 71h0M9 60h0M73 51h0M35 32h0M86 88h0M14 46h0M9 64h0M7 58h0M68 95h0M10 42h0M11 61h0M6 85h0M23 93h0M7 99h0M19 63h0M34 95h0M28 44h0M23 89h0M17 120h0M16 75h0M23 113h0M30 82h0M21 87h0M59 112h0M5 94h0M19 80h0M29 41h0M44 74h0M100 91h0M64 86h0M35 84h0M18 69h0M74 118h0M46 91h0M19 31h0M43 89h0M22 99h0M91 112h0M12 85h0M17 93h0M9 48h0M19 70h0M17 78h0M24 75h0M20 92h0M31 105h0M35 92h0M51 104h0M41 95h0M17 90h0M30 83h0M14 74h0M18 69h0M26 61h0M18 44h0M25 88h0M17 55h0M4 97h0M68 99h0M71 77h0M14 64h0M27 17h0M46 37h0M18 63h0M18 112h0M19 89h0M24 30h0M7 94h0M71 105h0M14 45h0M74 115h0M22 81h0M15 88h0M47 73h0M36 57h0M10 85h0M58 104h0M25 68h0M20 85h0M30 62h0M39 68h0M29 109h0M35 62h0M29 94h0M29 28h0M38 90h0M82 64h0M10 63h0M15 30h0M15 47h0M28 41h0M74 58h0M14 83h0M46 78h0M70 97h0M19 83h0M17 82h0M12 66h0M51 96h0M20 71h0M13 106h0M37 96h0M25 83h0M24 43h0M12 108h0M83 95h0M38 78h0M32 94h0M38 100h0M39 113h0M32 54h0M52 74h0M35 89h0M46 78h0M20 57h0M22 42h0M29 56h0M44 74h0M67 86h0M104 102h0M49 96h0M34 110h0M21 29h0M8 47h0M32 83h0M41 105h0M36 51h0M36 101h0M28 95h0M27 83h0M30 50h0M30 34h0M44 85h0M48 110h0M23 69h0M27 32h0M8 74h0M22 42h0M30 69h0M41 81h0M85 87h0M106 77h0M27 98h0M13 83h0M19 69h0M27 37h0M39 50h0M43 91h0M35 68h0M26 81h0M33 45h0M15 106h0M16 63h0M32 102h0M33 81h0M25 93h0M61 114h0M45 95h0M34 40h0M24 59h0M31 92h0M3 71h0M31 109h0M37 108h0M52 98h0M28 78h0M68 45h0M22 41h0M31 81h0M41 116h0M16 32h0M19 38h0M73 117h0M37 70h0M32 47h0M66 68h0M8 60h0M2 87h0M66 72h0M19 73h0M33 93h0M40 109h0M23 65h0M23 37h0M31 44h0M34 61h0M55 74h0M109 82h0M29 90h0M18 39h0M12 46h0M33 120h0M40 78h0M14 95h0M40 102h0M37 104h0M30 72h0M26 116h0M26 69h0M37 86h0M43 83h0M11 71h0M0 54h0M56 87h0M39 107h0M47 71h0M22 53h0M40 83h0M85 97h0M12 90h0M51 79h0M42 67h0M6 81h0M27 55h0M9 68h0M19 89h0M28 62h0M21 113h0M32 93h0M30 78h0M21 79h0M20 66h0M31 52h0M35 80h0M10 67h0M37 101h0M26 60h0M13 56h0M53 111h0M17 74h0M38 89h0M20 78h0M24 79h0M43 104h0M14 80h0M42 57h0M21 48h0M54 108h0M16 97h0M41 82h0M46 51h0M37 82h0M32 75h0M23 54h0M12 90h0M20 105h0M7 66h0M26 70h0M28 62h0M17 46h0M31 109h0M9 105h0M25 83h0M65 86h0M38 73h0M35 46h0M42 83h0M10 79h0M62 90h0M26 47h0M36 83h0M21 87h0M43 67h0M35 63h0M31 64h0M32 62h0M32 98h0M15 117h0M44 85h0M33 41h0M40 39h0M22 33h0M17 78h0M22 105h0M10 109h0M1 62h0M23 45h0M72 106h0M35 82h0M26 79h0M27 101h0M35 56h0M12 88h0M31 62h0M13 68h0M27 57h0M29 51h0M27 81h0M36 102h0M31 93h0M8 95h0M37 68h0M52 95h0M79 96h0M39 73h0M82 100h0M28 100h0M18 94h0M40 92h0M31 53h0M11 59h0M29 93h0M12 69h0M27 76h0M47 47h0M40 77h0M12 73h0M78 92h0M22 104h0M12 69h0M28 78h0M48 71h0M27 60h0M41 63h0M3 48h0M38 99h0M28 47h0" stroke="#4a6cb0" stroke-opacity="0.55" stroke-width="1.50" stroke-linecap="square"/>
<path transform="translate(88.35 109.55) scale(.5)" d="M32 76h0M94 87h0M21 68h0M42 80h0M37 83h0M12 62h0M39 94h0M65 98h0M53 86h0M37 80h0M24 56h0M30 89h0M27 83h0M6 92h0M70 59h0M33 67h0M11 60h0M30 82h0M37 84h0M29 112h0M75 117h0M18 83h0M24 120h0M22 49h0M21 68h0M77 83h0M33 48h0M19 120h0M90 82h0M33 60h0M73 46h0M64 51h0M38 93h0M24 71h0M32 89h0M9 96h0M57 89h0M66 70h0M26 66h0M18 104h0M54 92h0M36 73h0M33 120h0M18 98h0M15 86h0M9 60h0M11 66h0M45 83h0M21 102h0M23 41h0M34 76h0M9 78h0M44 72h0M25 27h0M22 58h0M30 97h0M27 63h0M7 110h0M15 44h0M17 55h0M34 85h0M30 101h0M13 82h0M101 91h0M60 110h0M8 114h0M8 94h0M19 71h0M40 48h0M10 90h0M29 70h0M24 107h0M49 58h0M27 67h0M4 70h0M9 84h0M70 94h0M76 107h0M12 44h0M24 52h0M1 52h0M44 92h0M4 63h0M36 65h0M40 94h0M34 37h0M25 39h0M10 84h0M22 91h0M16 60h0M29 88h0M30 79h0M31 68h0M14 64h0M11 59h0M23 87h0M27 93h0M18 67h0M31 81h0M31 72h0M16 111h0M48 109h0M36 80h0M35 90h0M13 69h0M4 111h0M47 73h0M38 49h0M45 83h0M96 53h0M89 52h0M8 58h0M14 61h0M16 94h0M15 85h0M22 95h0M68 87h0M72 101h0M16 106h0M12 89h0M13 74h0M38 89h0M20 61h0M25 115h0M15 104h0M76 107h0M29 48h0M30 54h0M40 96h0M86 70h0M16 50h0M10 92h0M20 51h0M34 68h0M69 112h0M5 61h0M17 85h0M24 71h0M32 117h0M14 18h0M36 108h0M34 33h0M12 78h0M32 89h0M14 108h0M13 49h0M17 61h0M30 101h0M81 111h0M11 103h0M13 83h0M20 39h0M34 36h0M74 98h0M17 67h0M38 64h0M27 113h0M39 48h0M35 65h0M17 75h0M14 50h0M10 94h0M23 71h0M39 79h0M5 53h0M50 74h0M37 60h0M39 74h0M45 68h0M19 61h0M12 81h0M17 62h0M7 78h0M27 111h0M8 46h0M1 50h0M20 86h0M1 78h0M28 100h0M16 120h0M34 104h0M88 95h0M16 94h0M40 83h0M34 91h0M58 66h0M50 96h0M3 80h0M22 56h0M15 30h0M7 69h0M14 86h0M22 40h0M67 106h0M15 78h0M18 35h0M0 88h0M55 47h0M7 67h0M64 88h0M24 98h0M16 23h0M35 40h0M12 99h0M87 98h0M7 85h0M14 90h0M21 32h0M22 28h0M33 82h0M28 69h0M23 101h0M20 93h0M20 83h0M89 111h0M29 72h0M35 60h0M72 92h0M72 104h0M4 94h0M18 37h0M24 112h0M35 99h0M79 108h0M19 46h0M13 64h0M24 68h0M31 89h0M35 57h0M96 44h0M43 64h0M26 81h0M7 73h0M23 78h0M33 63h0M28 102h0M25 75h0M6 51h0M27 71h0M44 65h0M8 57h0M80 99h0M12 70h0M57 53h0M54 66h0M29 99h0M46 117h0M56 78h0M21 119h0M27 97h0M30 65h0M22 42h0M8 72h0M28 85h0M29 43h0M22 90h0M17 74h0M26 83h0M37 105h0M29 104h0M23 100h0M15 82h0M12 86h0M31 57h0M26 80h0M21 77h0M98 100h0M30 54h0M33 69h0M23 96h0M9 117h0M8 65h0M34 74h0M35 71h0M37 64h0M40 87h0M66 102h0M21 56h0M78 118h0M9 60h0M23 74h0M10 65h0M29 113h0M46 66h0M42 50h0M38 75h0M73 118h0M94 106h0M18 69h0M77 111h0M33 86h0M60 111h0M43 93h0M30 66h0M23 83h0M18 50h0M11 105h0M43 88h0M21 101h0M21 72h0M39 85h0M33 107h0M9 93h0M29 56h0M15 75h0M29 114h0M43 28h0M25 73h0M31 73h0M38 98h0M29 51h0M26 98h0M25 45h0M11 81h0M73 76h0M39 92h0M30 54h0M49 97h0M53 109h0M40 115h0M43 92h0M33 95h0M12 51h0M24 68h0M35 107h0M87 39h0M51 55h0M51 96h0M38 81h0M33 58h0M21 82h0M69 95h0M16 96h0M32 65h0M23 57h0M65 111h0M15 101h0M39 55h0M82 93h0M10 79h0M30 78h0M46 70h0M25 67h0M30 54h0M40 52h0M27 73h0M41 80h0M20 64h0M18 71h0M18 51h0M21 99h0M45 86h0M14 80h0M45 96h0M16 76h0M29 62h0M9 68h0M10 118h0M14 93h0M31 71h0M36 120h0M6 100h0M15 64h0M14 99h0M13 77h0M35 80h0M35 98h0M32 83h0M65 109h0M11 63h0M18 78h0M13 46h0M35 75h0M34 73h0M16 60h0M21 65h0M40 74h0M50 82h0M51 92h0M16 104h0M8 68h0M36 48h0M18 69h0M39 106h0M3 78h0M40 100h0M19 94h0M27 120h0M18 94h0M90 85h0M36 78h0M32 80h0M47 75h0M27 72h0M23 70h0M15 45h0M11 61h0M19 53h0M26 53h0M28 80h0M55 98h0M35 48h0M65 76h0M24 95h0M74 88h0M24 83h0M28 83h0M24 102h0M11 53h0M25 58h0M35 73h0M6 74h0M46 47h0M24 83h0M58 90h0M41 79h0M31 89h0M14 76h0M68 77h0M31 28h0M23 84h0M11 112h0M87 106h0M3 53h0M24 102h0M28 56h0M19 62h0M28 91h0M6 73h0M39 35h0M27 91h0" stroke="#7090c0" stroke-opacity="0.5" stroke-width="1.50" stroke-linecap="square"/>
<path transform="translate(88.35 109.55) scale(.5)" d="M20 77h0M9 71h0M21 51h0M72 71h0M44 33h0M35 49h0M39 112h0M26 79h0M35 41h0M31 62h0M17 49h0M43 67h0M28 72h0M41 103h0M43 78h0M25 71h0M5 64h0M20 85h0M31 100h0M32 84h0M89 99h0M39 70h0M40 99h0M11 65h0M26 97h0M55 82h0M57 108h0M36 78h0M20 45h0M49 45h0M18 110h0M19 78h0M29 63h0M19 86h0M29 34h0M19 97h0M33 110h0M50 74h0M43 62h0M34 52h0M81 61h0M68 90h0M49 88h0M6 82h0M36 97h0M80 66h0M24 70h0M25 40h0M29 89h0M12 95h0M63 116h0M32 37h0M11 51h0M74 108h0M2 93h0M38 106h0M82 87h0M3 113h0M36 41h0M4 73h0M65 104h0M41 73h0M25 106h0M31 88h0M95 61h0M11 106h0M13 69h0M72 89h0M62 68h0M39 97h0M63 89h0M13 86h0M39 73h0M16 63h0M27 49h0M25 68h0M40 71h0M22 82h0M17 29h0M46 37h0M44 72h0M49 74h0M23 76h0M40 78h0M11 73h0M93 102h0M36 49h0M83 95h0M26 43h0M64 82h0M67 68h0M27 114h0M28 84h0M26 46h0M23 96h0M35 66h0M51 59h0M4 111h0M44 83h0M19 86h0M15 105h0M27 90h0M14 99h0M19 108h0M42 83h0M13 34h0M38 55h0M35 41h0M24 92h0M21 96h0M19 68h0M20 70h0M40 55h0M20 61h0M41 60h0M24 55h0M29 62h0M24 55h0M10 64h0M23 37h0M25 61h0M82 110h0M29 93h0M28 59h0M29 33h0M22 52h0M50 71h0M16 53h0M7 98h0M48 73h0M8 52h0M40 102h0M27 64h0M29 74h0M31 72h0M44 95h0M50 101h0M24 57h0M17 101h0M27 95h0M10 53h0M22 63h0M20 113h0M29 57h0M11 109h0M38 83h0M3 38h0M5 75h0M15 55h0M0 89h0M29 101h0M22 83h0M49 107h0M3 113h0M11 76h0M15 47h0M86 63h0M34 53h0M18 104h0M46 96h0M33 111h0M57 39h0M15 46h0M35 112h0M21 60h0M21 55h0M27 68h0M13 64h0M24 46h0M25 45h0M26 85h0M31 63h0M27 32h0M25 67h0M56 72h0M55 73h0M25 77h0M16 74h0M47 57h0M68 117h0M26 97h0M8 42h0M72 84h0M97 119h0M27 37h0M36 97h0M22 54h0M7 58h0M30 97h0M49 83h0M24 89h0M73 101h0M66 116h0M27 58h0M51 61h0M62 98h0M24 75h0M62 83h0M25 85h0M21 60h0M16 113h0M24 36h0M14 50h0M67 110h0M41 77h0M28 82h0M21 56h0M37 92h0M36 96h0M23 113h0M28 42h0M31 89h0M33 90h0M1 96h0M24 62h0M38 46h0M14 36h0M32 70h0M45 82h0M18 55h0M44 101h0M87 47h0M32 45h0M18 75h0M39 54h0M92 65h0M14 106h0M20 36h0M98 114h0M8 79h0M38 58h0M24 61h0M21 69h0M30 120h0M32 71h0M84 111h0M51 86h0M37 64h0M42 69h0M48 93h0M18 80h0M35 106h0M17 94h0M36 61h0M73 79h0M89 48h0M70 37h0M6 50h0M23 62h0M31 50h0M72 96h0M25 96h0M68 67h0M29 87h0M39 70h0M12 107h0M23 111h0M38 40h0M17 93h0M4 43h0M15 74h0M68 85h0M27 84h0M23 101h0M43 60h0M33 113h0M44 74h0M40 93h0M30 66h0M103 96h0M27 67h0M58 79h0M66 117h0M11 82h0M64 67h0M15 68h0M27 58h0M44 85h0M14 54h0M45 60h0M9 62h0M17 39h0M7 109h0M31 81h0M12 80h0M89 70h0M15 59h0M28 101h0M14 94h0M26 89h0M48 98h0M25 37h0M13 88h0M24 89h0M71 100h0M7 113h0M72 108h0M21 35h0M50 70h0M14 75h0M23 60h0M15 86h0M73 43h0M14 88h0M42 77h0M53 91h0M16 116h0M12 95h0M30 90h0M34 91h0M54 101h0M28 59h0M72 56h0M22 69h0M23 53h0M18 94h0M26 59h0M22 85h0M32 104h0M81 70h0M18 106h0M5 80h0M26 51h0M13 64h0M25 80h0M13 80h0M12 74h0M29 74h0M28 47h0M39 108h0M6 110h0M43 81h0M27 45h0M14 98h0M88 65h0M89 108h0M35 85h0M38 108h0M16 18h0M58 91h0M34 45h0M62 119h0M75 104h0M39 45h0M14 82h0M8 46h0M31 85h0M33 70h0M23 49h0M33 49h0M29 109h0M43 111h0M2 99h0M8 64h0M27 93h0M17 79h0M23 35h0M28 46h0M52 95h0M4 104h0M12 37h0M65 77h0M14 98h0M30 81h0M32 53h0M49 53h0M103 67h0M41 85h0M7 65h0M79 88h0M12 72h0M61 96h0M17 51h0M34 48h0M41 78h0M41 52h0M67 119h0M26 67h0M32 93h0M14 56h0M36 67h0M23 71h0M33 76h0M39 78h0M28 61h0M42 56h0M61 91h0M97 59h0M33 82h0M5 83h0M53 88h0M10 54h0M11 70h0M42 110h0M94 104h0M88 86h0M7 46h0M11 73h0M35 110h0M28 83h0M27 120h0M27 40h0M26 89h0M31 93h0M37 83h0M14 91h0M84 88h0M42 60h0M15 91h0M13 54h0M19 51h0M79 101h0M35 88h0M57 75h0M14 103h0M14 84h0M3 86h0M23 113h0M7 92h0M34 76h0M28 74h0M30 77h0M47 110h0M37 56h0M52 77h0M33 102h0M39 90h0M23 98h0M26 104h0M16 78h0" stroke="#5a9a9a" stroke-opacity="0.45" stroke-width="1.50" stroke-linecap="square"/>
</g>
<g clip-path="url(#cb2)"><g filter="url(#bl60)">
<g transform="translate(151.025 109.425) scale(0.25)">
<path d="M46 37 32 50 27 57 19 76 14 109 11 115 0 126 1 211 9 218 22 226 32 230 52 234 75 234 125 228 143 224 157 218 174 204 180 194 183 183 183 174 179 159 164 128 155 118 148 115 112 116 104 113 101 110 100 98 102 89 102 66 98 52 88 38 74 31 61 31Z" fill="#f8f9fc"/>
<path d="M70 36 58 37 43 45 33 56 27 66 23 77 19 116 0 140 0 196 5 203 19 215 29 220 49 225 67 225 79 223 119 209 138 199 146 191 150 181 149 171 143 160 126 144 96 123 92 118 91 111 98 81 96 61 93 53 84 42Z" fill="#f0f3fa"/>
<path d="M62 40 49 45 36 57 32 63 25 82 23 120 6 140 0 152 0 184 7 197 21 210 36 217 45 219 73 218 98 208 116 194 121 187 124 179 123 167 117 154 108 142 95 131 86 121 86 112 94 87 94 67 91 57 84 47 74 41Z" fill="#e9eef7"/>
<path d="M66 43 51 47 43 53 35 63 31 71 27 86 27 121 22 129 7 146 2 160 2 176 4 183 10 194 24 207 34 212 46 215 70 214 90 206 106 192 113 176 111 160 106 150 100 142 81 123 81 116 89 96 92 82 92 72 89 60 80 48 75 45Z" fill="#e2e8f4"/>
<path d="M67 49 62 49 51 53 39 65 32 83 32 103 35 121 32 128 15 145 11 152 8 163 9 177 13 187 18 194 26 201 36 206 48 209 61 209 70 207 86 199 97 187 101 178 102 171 101 162 97 152 93 146 73 126 74 116 83 99 86 90 87 71 81 57 74 51Z" fill="#d4deef"/>
<path d="M68 55 60 55 54 57 43 67 38 77 36 86 36 97 42 115 43 124 40 129 24 142 19 148 13 163 14 176 17 184 22 191 34 200 47 204 65 203 80 196 86 191 91 184 95 169 92 156 88 149 64 126 64 121 79 97 83 81 80 65 74 58Z" fill="#c7d4e9"/>
<path d="M49 132 36 138 26 146 19 157 17 169 22 184 29 192 43 199 58 200 69 197 82 188 88 178 89 163 85 153 76 143 59 133ZM67 62 58 62 54 64 47 71 42 82 42 98 45 106 52 113 58 113 63 110 72 99 76 90 77 74 73 66Z" fill="#bbcae4"/>
<path d="M47 138 37 142 26 152 21 165 22 175 26 183 34 191 47 196 59 196 72 191 81 182 85 170 84 161 80 153 69 143 57 138ZM62 77 57 78 52 86 52 93 56 98 60 97 64 93 66 88 66 82Z" fill="#aec0de"/>
<path d="M41 144 36 147 27 157 25 163 25 172 28 180 33 186 39 190 49 193 61 192 70 188 77 181 80 174 81 167 78 157 70 148 57 142 48 142Z" fill="#a7bbd8"/>
<path d="M36 151 29 161 28 170 32 180 37 185 46 189 53 190 65 187 73 180 77 171 77 165 74 157 67 150 58 146 46 146Z" fill="#9fb5d2"/>
<path d="M44 150 39 153 33 160 32 172 34 177 40 183 47 186 58 186 65 183 70 178 73 172 73 164 68 155 60 150Z" fill="#98b0cc"/>
<path d="M46 153 42 155 36 162 35 170 37 175 43 181 48 183 56 183 63 180 69 172 68 161 61 154 55 152Z" fill="#9ab8b3"/>
<path d="M48 156 41 161 39 165 39 170 44 177 48 179 57 179 63 175 65 171 65 164 60 158 56 156Z" fill="#9cc09a"/>
<path d="M53 160 48 161 44 166 45 171 50 175 57 174 60 170 60 165Z" fill="#b2cc85"/>
</g></g>
<path transform="translate(151.15 109.55) scale(.5)" d="M44 24h0M26 96h0M39 81h0M29 60h0M11 86h0M84 70h0M74 103h0M15 49h0M12 102h0M68 67h0M1 81h0M12 95h0M33 48h0M33 46h0M14 62h0M53 91h0M21 21h0M36 31h0M13 78h0M10 104h0M18 46h0M26 111h0M75 65h0M41 61h0M17 77h0M69 61h0M3 88h0M0 77h0M67 92h0M45 72h0M68 61h0M37 95h0M36 99h0M73 62h0M24 43h0M54 82h0M23 75h0M42 29h0M33 92h0M38 87h0M16 78h0M1 105h0M81 113h0M30 38h0M29 76h0M7 89h0M37 93h0M36 75h0M15 55h0M20 33h0M77 97h0M32 67h0M26 20h0M45 17h0M30 34h0M37 39h0M46 90h0M59 83h0M41 63h0M8 88h0M27 52h0M85 99h0M50 114h0M29 40h0M38 104h0M16 90h0M34 78h0M33 22h0M15 104h0M55 112h0M34 73h0M0 99h0M4 67h0M39 102h0M22 100h0M2 85h0M10 79h0M17 78h0M44 81h0M35 63h0M28 57h0M31 97h0M22 91h0M25 33h0M47 93h0M37 73h0M20 76h0M49 28h0M10 82h0M84 67h0M61 68h0M15 44h0M57 98h0M31 35h0M26 47h0M70 83h0M84 87h0M29 29h0M21 109h0M31 59h0M35 65h0M50 97h0M41 60h0M39 117h0M65 77h0M42 100h0M2 72h0M42 67h0M50 89h0M34 97h0M18 54h0M75 75h0M19 47h0M34 37h0M70 101h0M27 72h0M15 80h0M53 77h0M36 87h0M19 109h0M52 33h0M18 72h0M39 99h0M59 88h0M65 98h0M44 92h0M67 65h0M64 73h0M34 33h0M32 38h0M24 94h0M29 32h0M48 85h0M16 37h0M9 34h0M21 76h0M23 66h0M34 28h0M13 84h0M35 107h0M79 90h0M29 95h0M74 81h0M32 54h0M13 84h0M15 70h0M44 83h0M11 78h0M31 54h0M38 67h0M0 110h0M33 91h0M11 75h0M84 101h0M31 47h0M29 76h0M90 86h0M36 37h0M43 74h0M25 51h0M32 59h0M26 74h0M42 66h0M11 96h0M48 40h0M34 63h0M40 44h0M30 38h0M8 108h0M19 94h0M82 82h0M10 49h0M79 94h0M18 74h0M16 78h0M30 56h0M1 72h0M71 89h0M15 96h0M20 41h0M33 94h0M42 71h0M18 100h0M33 53h0M78 74h0M20 26h0M25 36h0M48 40h0M44 64h0M30 67h0M39 49h0M47 93h0M11 94h0M33 37h0M22 40h0M68 97h0M69 82h0M19 30h0M48 20h0M19 52h0M44 83h0M24 68h0M54 83h0M37 22h0M32 53h0M30 54h0M3 104h0M59 50h0M68 79h0M33 71h0M26 39h0M20 104h0M20 92h0M24 92h0M49 99h0M36 105h0M45 81h0M19 93h0M23 59h0M63 104h0M17 102h0M14 84h0M52 115h0M16 94h0M62 98h0M55 98h0M44 35h0M15 75h0M36 94h0M36 46h0M32 105h0M31 90h0M17 72h0M21 95h0M19 32h0M67 100h0M46 93h0M24 52h0M25 92h0M39 57h0M22 91h0M2 103h0M23 34h0M13 90h0M29 91h0M34 44h0M36 87h0M22 62h0M96 97h0M36 49h0M32 95h0M52 111h0M42 23h0M29 54h0M12 94h0M47 58h0M55 86h0M30 55h0M20 94h0M41 83h0M13 77h0M26 98h0M35 89h0M52 53h0M1 84h0M26 47h0M48 77h0M21 94h0M19 50h0M51 82h0M30 75h0M23 39h0M13 102h0M27 36h0M34 28h0M25 69h0M38 66h0M91 104h0M25 59h0M50 94h0M43 38h0M26 27h0M24 43h0M29 70h0M36 86h0M18 78h0M43 85h0M37 100h0M40 71h0M32 45h0M67 57h0M79 96h0M18 36h0M22 51h0M54 60h0M23 61h0M28 65h0M18 72h0M6 103h0M45 85h0M54 78h0M20 44h0M25 71h0M28 70h0M57 84h0M10 44h0M34 40h0M46 62h0M49 112h0M83 111h0M74 88h0M11 77h0M41 73h0M44 41h0M49 90h0M22 68h0M25 97h0M36 22h0M33 79h0M42 100h0M28 96h0M37 45h0M2 95h0M22 47h0M67 98h0M45 35h0M43 90h0M53 86h0M37 28h0M5 82h0M69 69h0M22 73h0M44 41h0M38 42h0M17 87h0M27 26h0M39 101h0M75 85h0M53 111h0M13 63h0M55 113h0M17 71h0M40 83h0M7 76h0M77 81h0M25 58h0M36 79h0M21 77h0M14 103h0M19 105h0M2 79h0M29 67h0M1 97h0M44 24h0M32 37h0M11 47h0M15 46h0M9 72h0M16 99h0M18 90h0M31 73h0M29 64h0M11 58h0M35 82h0M19 57h0M50 92h0M11 68h0M27 36h0M40 48h0M24 61h0M13 42h0M73 118h0M38 25h0M21 92h0M46 76h0M35 79h0M5 97h0M19 105h0M40 29h0M28 50h0M27 108h0M16 37h0M41 84h0M35 71h0M43 54h0M25 28h0M34 77h0M19 58h0M6 82h0M41 25h0M79 57h0M49 72h0M20 62h0M16 34h0M39 80h0M42 93h0M37 96h0M3 73h0M13 112h0M38 32h0M29 72h0M27 99h0M8 55h0M17 38h0M4 67h0M41 92h0M33 70h0M12 79h0M28 43h0M41 30h0M17 35h0M25 94h0M37 90h0M30 54h0M36 73h0M17 92h0M36 53h0M55 52h0M25 53h0" stroke="#4a6cb0" stroke-opacity="0.55" stroke-width="1.50" stroke-linecap="square"/>
<path transform="translate(151.15 109.55) scale(.5)" d="M23 69h0M33 70h0M22 76h0M76 78h0M24 114h0M37 72h0M35 53h0M46 21h0M40 76h0M23 105h0M35 79h0M39 92h0M22 111h0M33 91h0M53 62h0M40 32h0M38 110h0M32 108h0M4 88h0M36 47h0M37 99h0M41 76h0M3 88h0M12 68h0M19 117h0M25 55h0M18 64h0M17 59h0M35 87h0M17 86h0M5 64h0M57 96h0M31 42h0M29 33h0M16 30h0M22 76h0M42 83h0M36 58h0M33 110h0M27 27h0M38 98h0M33 41h0M43 103h0M24 107h0M33 60h0M37 45h0M82 57h0M14 55h0M50 94h0M17 100h0M34 96h0M23 105h0M42 87h0M10 69h0M23 73h0M25 95h0M45 76h0M14 99h0M1 103h0M23 31h0M2 105h0M21 63h0M12 83h0M33 48h0M23 41h0M61 82h0M30 91h0M16 88h0M38 43h0M29 67h0M17 80h0M30 29h0M35 49h0M52 98h0M38 78h0M5 94h0M28 43h0M23 99h0M62 94h0M80 73h0M15 64h0M35 43h0M31 75h0M11 95h0M34 66h0M76 50h0M21 35h0M70 82h0M28 92h0M42 118h0M31 32h0M82 89h0M19 70h0M7 59h0M46 101h0M27 36h0M2 66h0M6 88h0M30 97h0M62 66h0M32 73h0M71 84h0M40 69h0M67 98h0M10 76h0M37 80h0M12 96h0M46 84h0M20 43h0M13 61h0M53 53h0M36 96h0M20 93h0M23 32h0M30 74h0M11 87h0M23 75h0M16 59h0M45 77h0M38 79h0M45 100h0M64 108h0M10 117h0M19 65h0M44 105h0M15 77h0M36 105h0M22 52h0M31 94h0M35 97h0M32 96h0M43 41h0M8 72h0M27 54h0M38 101h0M12 88h0M67 62h0M14 83h0M13 65h0M4 75h0M52 109h0M43 80h0M70 84h0M20 56h0M63 68h0M26 101h0M40 111h0M43 121h0M17 33h0M26 26h0M4 65h0M46 32h0M21 45h0M49 96h0M30 94h0M41 55h0M34 74h0M10 94h0M61 88h0M31 44h0M27 63h0M72 98h0M13 76h0M40 23h0M56 81h0M24 32h0M17 42h0M25 29h0M29 36h0M26 71h0M30 39h0M12 80h0M20 22h0M38 55h0M30 26h0M43 90h0M47 91h0M46 83h0M7 71h0M19 44h0M26 75h0M28 26h0M40 44h0M12 75h0M33 35h0M16 93h0M12 72h0M24 52h0M24 26h0M15 94h0M15 107h0M32 38h0M25 68h0M36 98h0M30 93h0M47 43h0M46 59h0M19 71h0M51 95h0M48 85h0M4 104h0M26 105h0M29 48h0M39 66h0M87 113h0M36 39h0M13 70h0M59 106h0M40 87h0M29 60h0M36 84h0M16 74h0M42 73h0M9 90h0M78 87h0M30 93h0M48 110h0M51 84h0M42 34h0M21 104h0M49 100h0M60 112h0M17 86h0M18 92h0M25 40h0M38 75h0M59 84h0M92 106h0M26 52h0M42 23h0M35 71h0M20 35h0M43 43h0M66 75h0M54 102h0M21 54h0M24 67h0M20 90h0M8 88h0M87 59h0M42 42h0M38 50h0M0 88h0M0 80h0M22 93h0M44 81h0M14 81h0M19 47h0M87 57h0M22 73h0M13 87h0M48 83h0M19 78h0M37 78h0M52 92h0M45 102h0M38 58h0M32 75h0M50 66h0M17 101h0M36 91h0M38 111h0M36 47h0M8 51h0M20 98h0M44 108h0M23 42h0M12 84h0M38 86h0M23 38h0M10 67h0M25 70h0M6 91h0M35 43h0M30 74h0M57 69h0M26 95h0M58 108h0M31 44h0M64 55h0M5 80h0M38 23h0M52 105h0M29 17h0M30 39h0M60 92h0M6 83h0M54 91h0M29 107h0M28 24h0M10 105h0M29 74h0M15 95h0M72 85h0M21 58h0M50 70h0M35 98h0M29 113h0M37 96h0M9 91h0M18 106h0M44 89h0M55 88h0M46 78h0M19 109h0M35 69h0M56 70h0M32 54h0M67 103h0M25 48h0M11 82h0M37 87h0M26 92h0M18 89h0M32 24h0M35 31h0M20 101h0M35 105h0M27 63h0M34 31h0M39 42h0M19 40h0M35 42h0M46 57h0M44 41h0M36 78h0M95 78h0M40 76h0M16 78h0M23 36h0M28 68h0M38 42h0M26 97h0M56 82h0M65 108h0M15 46h0M49 87h0M4 79h0M16 75h0M30 65h0M10 82h0M16 36h0M24 33h0M7 101h0M82 63h0M34 43h0M20 97h0M18 72h0M35 31h0M4 93h0M16 68h0M28 47h0M38 40h0M74 99h0M30 72h0M42 78h0M20 78h0M42 109h0M41 26h0M11 42h0M28 37h0M14 88h0M15 39h0M37 78h0M33 93h0M32 41h0M15 88h0M16 37h0M8 74h0M35 95h0M17 58h0M21 112h0M63 99h0M29 51h0M14 86h0M55 81h0M22 76h0M90 76h0M43 95h0M57 78h0M21 50h0M81 73h0M20 63h0M42 31h0M36 98h0M30 62h0M32 65h0M26 94h0M5 98h0M13 64h0M21 55h0M22 62h0M16 106h0M35 82h0M29 56h0M35 86h0M70 109h0M5 82h0M37 104h0M92 74h0M40 37h0M7 94h0M29 26h0M29 48h0M32 96h0M31 68h0M38 84h0M80 66h0M61 78h0M3 89h0M21 101h0M3 70h0M15 87h0M15 65h0M41 69h0M8 85h0M11 67h0M23 119h0M15 104h0M28 36h0M16 90h0M10 85h0M16 37h0M40 95h0M7 91h0M40 44h0M36 101h0M23 27h0M47 64h0M35 81h0M17 63h0M6 74h0M9 91h0M54 94h0M89 92h0M7 82h0M41 36h0M18 75h0M78 83h0M75 71h0M21 95h0M39 74h0M49 102h0M17 77h0M35 26h0M56 102h0M11 78h0M20 53h0M35 95h0M36 85h0M28 105h0M14 81h0" stroke="#7090c0" stroke-opacity="0.5" stroke-width="1.50" stroke-linecap="square"/>
<path transform="translate(151.15 109.55) scale(.5)" d="M18 88h0M57 81h0M88 106h0M7 95h0M58 75h0M41 83h0M62 74h0M30 33h0M92 102h0M97 93h0M33 89h0M48 26h0M29 103h0M28 21h0M32 50h0M22 97h0M10 100h0M32 50h0M50 108h0M33 99h0M5 94h0M50 78h0M12 89h0M42 98h0M9 80h0M18 65h0M36 69h0M45 40h0M37 99h0M64 75h0M34 31h0M16 63h0M47 57h0M52 105h0M36 35h0M23 29h0M30 97h0M23 71h0M25 94h0M12 48h0M44 33h0M15 73h0M36 37h0M17 84h0M29 94h0M70 64h0M32 34h0M25 20h0M29 76h0M30 40h0M43 60h0M25 36h0M19 50h0M37 33h0M50 44h0M27 95h0M80 83h0M43 71h0M14 32h0M72 102h0M62 82h0M14 71h0M15 64h0M38 98h0M9 83h0M23 60h0M13 84h0M39 27h0M46 71h0M5 96h0M8 88h0M39 83h0M38 104h0M35 44h0M37 54h0M13 115h0M18 49h0M46 38h0M31 73h0M29 73h0M57 102h0M2 76h0M40 44h0M14 89h0M42 76h0M42 94h0M25 67h0M35 49h0M37 88h0M27 93h0M39 83h0M101 75h0M0 64h0M14 80h0M81 54h0M8 88h0M38 31h0M28 24h0M37 23h0M33 97h0M36 58h0M74 51h0M81 69h0M41 32h0M43 74h0M36 100h0M14 99h0M21 44h0M25 68h0M20 69h0M26 105h0M36 81h0M78 57h0M30 113h0M40 70h0M15 74h0M28 49h0M48 83h0M29 45h0M34 25h0M54 88h0M18 78h0M45 52h0M10 88h0M70 95h0M56 82h0M35 97h0M23 62h0M42 107h0M33 56h0M11 85h0M71 79h0M19 100h0M0 79h0M19 60h0M21 65h0M65 81h0M18 89h0M29 73h0M27 70h0M24 45h0M38 52h0M34 112h0M61 106h0M13 51h0M39 82h0M14 51h0M50 37h0M3 82h0M61 108h0M58 48h0M54 96h0M12 79h0M73 80h0M33 36h0M23 104h0M21 51h0M19 68h0M53 85h0M17 77h0M54 90h0M36 57h0M38 47h0M20 48h0M43 67h0M71 71h0M28 75h0M47 78h0M49 62h0M30 30h0M23 58h0M19 30h0M29 56h0M11 54h0M3 77h0M70 71h0M31 73h0M27 59h0M34 31h0M14 68h0M27 75h0M17 91h0M99 69h0M41 83h0M34 64h0M0 99h0M39 89h0M29 103h0M17 56h0M26 75h0M35 89h0M37 37h0M44 24h0M44 90h0M61 76h0M34 46h0M38 76h0M37 72h0M14 82h0M35 44h0M86 58h0M48 91h0M27 96h0M14 77h0M36 90h0M5 95h0M15 83h0M14 72h0M37 46h0M42 40h0M28 102h0M1 67h0M13 78h0M29 75h0M30 115h0M33 35h0M41 69h0M32 22h0M17 37h0M16 55h0M37 90h0M29 26h0M47 87h0M43 77h0M15 103h0M79 106h0M35 83h0M11 41h0M96 68h0M6 68h0M10 63h0M31 43h0M32 42h0M36 39h0M19 91h0M45 107h0M26 101h0M76 98h0M50 99h0M21 56h0M11 62h0M37 81h0M70 99h0M12 98h0M41 113h0M31 95h0M45 57h0M27 39h0M39 100h0M33 75h0M59 96h0M41 75h0M27 92h0M1 74h0M25 96h0M74 114h0M27 75h0M38 38h0M78 94h0M15 54h0M49 97h0M53 86h0M35 90h0M29 71h0M50 91h0M13 66h0M52 93h0M16 106h0M85 110h0M33 50h0M40 32h0M32 74h0M14 93h0M27 71h0M17 78h0M44 80h0M36 82h0M77 51h0M29 37h0M15 92h0M13 96h0M34 94h0M17 86h0M13 46h0M29 57h0M6 65h0M20 69h0M0 75h0M17 82h0M82 63h0M20 32h0M54 94h0M36 83h0M23 102h0M37 104h0M31 41h0M17 103h0M45 82h0M40 60h0M12 93h0M30 91h0M18 67h0M27 70h0M30 76h0M22 97h0M21 35h0M46 99h0M48 71h0M78 96h0M20 35h0M14 48h0M62 72h0M71 94h0M42 50h0M23 72h0M38 84h0M51 60h0M25 97h0M34 91h0M16 69h0M45 77h0M21 20h0M38 87h0M50 94h0M43 34h0M46 65h0M29 67h0M41 75h0M22 109h0M81 76h0M30 39h0M25 94h0M31 96h0M32 93h0M45 88h0M10 63h0M29 67h0M28 44h0M71 86h0M17 73h0M19 78h0M32 68h0M21 72h0M28 52h0M21 93h0M18 52h0M57 77h0M10 94h0M33 38h0M36 98h0M28 35h0M71 59h0M24 26h0M60 101h0M24 98h0M31 26h0M35 91h0M19 48h0M13 65h0M38 52h0M7 85h0M60 73h0M22 46h0M26 44h0M87 55h0M6 87h0M23 76h0M61 91h0M32 121h0M10 75h0M43 34h0M56 60h0M39 33h0M19 31h0M22 50h0M23 47h0M29 75h0M25 28h0M21 91h0M34 93h0M23 104h0M32 90h0M58 60h0M22 99h0M26 96h0M18 104h0M38 81h0M47 65h0M36 72h0M30 50h0M32 65h0M13 81h0M31 70h0M16 36h0M30 60h0M24 54h0M24 72h0M30 93h0M11 72h0M37 26h0M90 82h0M27 44h0M28 48h0M21 45h0M17 84h0M75 96h0M33 31h0M54 94h0M12 38h0M35 44h0M53 53h0M4 66h0M11 100h0M102 82h0M30 67h0M25 45h0M29 33h0M74 106h0M41 94h0M37 70h0M23 95h0M11 69h0M26 92h0M5 90h0M38 39h0M26 101h0M61 67h0M35 21h0M50 83h0" stroke="#5a9a9a" stroke-opacity="0.45" stroke-width="1.50" stroke-linecap="square"/>
</g>
<g clip-path="url(#cb3)"><g filter="url(#bl50)">
<g transform="translate(232.725 109.425) scale(0.25)">
<path d="M0 143 0 217 22 227 59 238 74 241 163 241 178 238 202 230 222 219 234 207 239 195 237 181 231 172 222 164 198 151 189 144 188 135 194 122 195 112 194 107 188 97 177 89 169 86 138 82 132 77 124 64 116 56 100 49 85 49 72 53 57 62 41 78 33 90 26 104 17 131 10 138Z" fill="#f4f6fc"/>
<path d="M0 149 0 208 16 216 39 223 70 228 104 230 149 227 166 223 184 216 192 211 201 202 204 195 204 188 200 179 188 168 161 152 153 144 155 140 170 133 180 124 183 118 183 108 179 101 171 95 163 92 139 91 134 89 130 85 120 68 113 61 101 55 88 54 78 56 58 67 45 80 35 95 29 109 22 134 14 142Z" fill="#e8edf8"/>
<path d="M170 106 164 101 158 99 133 98 126 90 117 72 109 64 101 60 84 59 68 65 59 71 48 82 41 92 33 109 28 132 25 138 20 143 0 155 0 201 3 204 28 215 51 220 71 222 104 221 124 218 143 213 160 205 167 199 171 192 171 182 168 175 150 157 125 144 120 139 120 134 122 130 129 124 136 124 145 127 156 127 166 123 172 115 172 110Z" fill="#d6dff3"/>
<path d="M144 111 144 113 148 116 154 116 157 114 157 111 153 108 149 108ZM107 67 93 62 81 63 61 73 50 84 43 94 36 109 32 130 29 138 21 146 0 159 0 197 18 208 41 215 62 218 90 218 116 214 129 210 142 204 153 195 157 188 157 177 153 169 142 158 121 147 115 141 115 133 126 115 128 107 117 78Z" fill="#c5d1ee"/>
<path d="M103 68 94 65 84 65 74 68 61 76 49 89 40 105 36 118 34 133 31 140 25 146 8 156 0 163 0 192 6 198 20 206 31 210 56 215 77 216 99 214 117 210 137 201 146 193 150 185 150 176 146 168 137 159 117 148 111 141 112 132 122 111 122 100 115 80Z" fill="#b6c5eb"/>
<path d="M104 72 94 68 83 68 76 70 65 76 51 90 43 104 39 117 37 134 34 141 28 147 10 158 0 169 0 186 4 192 11 198 27 206 45 211 60 213 85 213 100 211 118 206 133 198 141 190 144 183 144 176 141 169 131 159 113 149 107 141 108 134 118 112 119 104 114 84Z" fill="#a8b9e7"/>
<path d="M102 74 90 70 77 72 62 81 52 92 42 114 40 133 37 141 29 149 9 162 2 172 2 183 7 191 14 197 23 202 41 208 60 211 83 211 102 208 115 204 127 198 135 191 139 184 139 174 137 170 129 161 110 150 104 142 105 135 115 113 116 99 110 82Z" fill="#9aade3"/>
<path d="M100 79 88 75 77 77 65 84 55 95 48 109 45 125 45 137 43 142 35 150 19 160 9 172 9 182 13 189 20 195 32 201 46 205 60 207 81 207 95 205 111 200 119 196 128 188 131 181 131 176 128 169 120 161 102 150 98 144 98 139 107 122 111 108 111 99 109 91Z" fill="#879ede"/>
<path d="M92 83 84 82 74 85 68 89 58 101 54 110 52 120 53 141 51 145 28 161 20 169 18 173 19 183 28 192 38 197 49 200 76 202 101 197 111 192 119 184 120 174 118 170 111 163 95 153 89 146 89 141 102 119 105 107 104 97 101 90Z" fill="#7299d9"/>
<path d="M94 90 87 87 76 89 71 92 62 102 57 116 58 129 62 139 61 144 56 149 30 165 24 175 26 183 35 191 48 196 59 198 79 198 99 193 106 189 112 183 113 174 111 170 106 165 88 154 80 145 82 139 95 124 100 112 100 100 97 93Z" fill="#65a0d7"/>
<path d="M29 173 29 179 31 183 38 189 51 194 67 196 81 195 93 192 101 188 108 180 108 174 103 167 88 157 72 149 66 149 45 158 36 164ZM90 92 80 91 75 93 67 100 62 109 61 125 66 134 71 137 77 136 84 132 90 126 95 118 97 112 97 102 93 94Z" fill="#62accf"/>
<path d="M33 175 34 180 38 185 47 190 59 193 78 193 87 191 99 185 103 179 103 174 98 167 91 162 72 154 59 155 49 159 41 164 35 170ZM87 95 79 95 75 97 68 104 65 110 64 120 66 126 70 130 76 131 83 128 89 122 93 115 94 104 92 99Z" fill="#62bcc4"/>
<path d="M37 173 37 178 40 183 48 188 59 191 78 191 86 189 94 185 99 179 99 174 94 167 80 159 73 157 62 157 52 160 41 167ZM87 99 80 98 70 106 67 117 69 123 72 126 79 126 83 124 89 117 91 112 91 105Z" fill="#75c185"/>
<path d="M40 175 43 182 47 185 54 188 66 190 85 187 92 183 95 179 95 173 90 167 79 161 71 159 59 160 49 164 42 170ZM83 102 76 104 71 112 71 117 76 122 81 121 87 113 87 106Z" fill="#89c75c"/>
<path d="M44 174 45 179 49 183 55 186 65 188 81 186 87 183 91 178 91 173 87 168 74 162 57 163 49 167Z" fill="#a5d150"/>
<path d="M49 173 50 179 55 183 61 185 78 184 86 178 86 173 81 168 74 165 61 165 55 167Z" fill="#c7d843"/>
<path d="M54 173 54 178 64 183 75 182 81 178 81 173 77 169 71 167 60 168Z" fill="#e6d83a"/>
<path d="M58 174 58 176 63 180 72 180 77 176 77 174 71 170 64 170Z" fill="#eeab2f"/>
<path d="M64 174 65 177 71 176 71 174 69 173Z" fill="#ec7d25"/>
</g></g>
<path transform="translate(232.85 109.55) scale(.5)" d="M76 90h0M60 28h0M19 120h0M78 81h0M7 72h0M25 43h0M34 34h0M30 108h0M58 65h0M63 60h0M1 108h0M26 37h0M79 57h0M73 42h0M105 107h0M12 102h0M86 70h0M44 31h0M80 108h0M82 113h0M96 116h0M77 67h0M103 69h0M58 44h0M80 59h0M112 74h0M78 73h0M18 67h0M85 100h0M12 70h0M6 68h0M40 32h0M32 37h0M78 52h0M111 91h0M59 50h0M71 92h0M51 112h0M74 78h0M63 115h0M80 52h0M79 83h0M87 74h0M78 100h0M44 106h0M77 97h0M94 102h0M60 75h0M39 27h0M85 45h0M102 84h0M3 102h0M55 68h0M87 95h0M50 110h0M30 111h0M59 65h0M68 53h0M36 36h0M75 72h0M1 78h0M75 75h0M49 21h0M61 103h0M14 44h0M103 117h0M36 34h0M101 104h0M35 114h0M0 95h0M39 34h0M84 110h0M2 110h0M78 40h0M91 67h0M4 99h0M12 109h0M62 46h0M60 108h0M59 37h0M16 47h0M101 99h0M56 73h0M82 51h0M18 59h0M94 117h0M59 72h0M14 53h0M27 106h0M106 83h0M68 69h0M71 113h0M81 100h0M75 94h0M76 101h0M86 86h0M114 91h0M42 108h0M86 50h0M75 115h0M26 40h0M15 60h0M1 115h0M78 110h0M80 107h0M119 93h0M28 28h0M40 110h0M52 34h0M48 106h0M70 94h0M111 112h0M0 98h0M49 119h0M114 87h0M40 31h0M64 49h0M59 47h0M44 113h0M83 73h0M104 116h0M63 58h0M91 107h0M66 78h0M32 37h0M27 112h0M29 111h0M68 79h0M59 31h0M54 108h0M71 66h0M94 87h0M72 39h0M81 42h0M62 102h0M84 61h0M87 111h0M78 58h0M91 63h0M64 63h0M1 98h0M85 61h0M43 111h0M73 109h0M71 43h0M59 42h0M66 41h0M9 66h0M53 111h0M90 107h0M65 110h0M98 55h0M15 63h0M63 47h0M78 113h0M66 99h0M19 50h0M101 85h0M38 33h0M22 44h0M81 85h0M120 97h0M68 40h0M60 39h0M48 119h0M18 108h0M66 69h0M85 86h0M64 66h0M87 89h0M106 86h0M18 105h0M89 94h0M80 90h0M60 28h0M104 92h0M112 81h0M72 105h0M9 73h0M58 63h0M17 58h0M59 38h0M92 57h0M6 72h0M108 83h0M121 86h0M91 72h0M88 87h0M89 87h0M63 114h0M70 82h0M83 41h0" stroke="#3a5cc4" stroke-opacity="0.65" stroke-width="1.50" stroke-linecap="square"/>
<path transform="translate(232.85 109.55) scale(.5)" d="M84 77h0M55 36h0M72 42h0M69 110h0M100 100h0M35 36h0M81 68h0M47 118h0M31 37h0M92 57h0M66 62h0M69 107h0M93 105h0M42 25h0M71 80h0M97 110h0M22 37h0M104 96h0M90 80h0M66 41h0M28 32h0M87 73h0M79 52h0M76 60h0M57 31h0M17 49h0M81 113h0M102 104h0M24 120h0M60 67h0M85 110h0M60 29h0M59 60h0M121 91h0M8 104h0M50 108h0M94 77h0M62 107h0M52 106h0M58 39h0M56 39h0M28 107h0M56 31h0M75 70h0M85 69h0M101 79h0M105 91h0M70 75h0M75 51h0M44 33h0M15 65h0M110 118h0M56 63h0M97 101h0M64 103h0M24 34h0M33 36h0M74 103h0M104 98h0M81 88h0M63 49h0M63 71h0M26 108h0M17 59h0M8 103h0M53 35h0M68 50h0M83 109h0M14 65h0M89 80h0M17 52h0M64 43h0M46 114h0M106 87h0M62 54h0M97 121h0M89 58h0M71 74h0M103 74h0M100 55h0M3 105h0M73 76h0M3 109h0M76 50h0M85 89h0M85 95h0M8 101h0M107 81h0M87 65h0M60 64h0M68 98h0M40 21h0M84 59h0M17 104h0M74 113h0M60 35h0M104 57h0M81 81h0M90 76h0M69 69h0M101 89h0M3 78h0M86 105h0M74 80h0M119 118h0M61 74h0M69 45h0M35 36h0M0 97h0M41 107h0M57 119h0M17 47h0M61 55h0M80 102h0M64 42h0M102 112h0M87 90h0M68 106h0M52 25h0M75 42h0M70 95h0M60 50h0M87 76h0M43 27h0M70 84h0M64 73h0M78 119h0M78 50h0M91 76h0M75 50h0M39 112h0M61 43h0M101 54h0M61 117h0M61 61h0M70 79h0M87 53h0M66 108h0M63 103h0M18 66h0M13 68h0M83 99h0M59 50h0M74 101h0M13 66h0M89 111h0M120 121h0M81 109h0M51 105h0M85 73h0M55 121h0M70 70h0M86 104h0M33 114h0M15 63h0M82 120h0M62 77h0M76 79h0M93 87h0M80 57h0M66 45h0M80 94h0M58 60h0M60 62h0M80 89h0M69 100h0M24 44h0M4 78h0M14 51h0M18 57h0M69 81h0M53 26h0M58 112h0M43 20h0M96 59h0M11 74h0M0 110h0M18 108h0M108 97h0M82 51h0M36 29h0M60 67h0M17 58h0M84 68h0M24 120h0M43 110h0M78 59h0M5 101h0M81 88h0M99 51h0M86 88h0M94 91h0M72 80h0M4 118h0M18 61h0M63 65h0M75 99h0M53 117h0M114 74h0M79 101h0M82 51h0M79 72h0M104 91h0M57 105h0M63 76h0M39 110h0M74 66h0M56 33h0" stroke="#5a7ad0" stroke-opacity="0.5" stroke-width="1.50" stroke-linecap="square"/>
<path transform="translate(232.85 109.55) scale(.5)" d="M24 63h0M73 88h0M54 82h0M61 96h0M26 76h0M13 80h0M13 97h0M15 82h0M49 49h0M60 76h0M31 43h0M22 103h0M47 59h0M50 103h0M71 91h0M29 103h0M55 44h0M55 59h0M17 73h0M30 46h0M13 97h0M14 78h0M47 37h0M34 71h0M49 55h0M16 104h0M55 54h0M42 33h0M19 77h0M2 95h0M63 78h0M57 50h0M48 99h0M10 89h0M71 87h0M9 98h0M63 91h0M30 106h0M51 41h0M39 37h0M31 39h0M40 40h0M31 69h0M68 85h0M55 93h0M50 45h0M34 44h0M59 76h0M46 39h0M55 88h0M10 92h0M26 50h0M27 51h0M5 85h0M60 81h0M68 86h0M12 80h0M47 60h0M26 97h0M53 71h0M18 63h0M54 39h0M21 76h0M24 57h0M28 44h0M34 72h0M44 39h0M54 63h0M39 98h0M68 92h0M51 53h0M67 100h0M15 76h0M6 88h0M7 94h0M21 56h0M41 36h0M61 88h0M33 73h0M66 79h0M13 77h0M36 38h0M59 92h0M53 46h0M8 101h0M58 86h0M44 73h0M22 64h0M59 93h0M59 84h0M1 95h0M19 105h0M26 51h0M16 74h0M31 39h0M34 48h0M27 74h0" stroke="#2d4cb0" stroke-opacity="0.4" stroke-width="1.50" stroke-linecap="square"/>
<path transform="translate(232.85 109.55) scale(.5)" d="M6 88h0M51 45h0M50 80h0M53 76h0M71 91h0M26 58h0M60 77h0M44 35h0M53 37h0M56 50h0M53 64h0M55 66h0M53 74h0M42 99h0M40 106h0M54 99h0M10 77h0M30 61h0M39 40h0M46 40h0M35 73h0M43 74h0M48 48h0M46 79h0M20 68h0M45 33h0M51 59h0M67 91h0M19 105h0M57 75h0M71 84h0M43 70h0M46 77h0M50 66h0M12 75h0M25 72h0M53 100h0M58 74h0M29 56h0M53 103h0M65 93h0M46 45h0M41 37h0M66 96h0M50 103h0M3 80h0M38 36h0M49 56h0M71 92h0M52 39h0M43 44h0M56 50h0M53 76h0M7 100h0M24 61h0M19 57h0M49 54h0M50 98h0M14 91h0M7 78h0M53 84h0M70 83h0M54 48h0M18 98h0M38 73h0M66 99h0M18 60h0M41 104h0M36 68h0M14 88h0M40 98h0M37 45h0M3 86h0M20 98h0M52 60h0M69 96h0M24 72h0M27 55h0M31 69h0M65 89h0M32 73h0M36 98h0M55 94h0M57 81h0M61 94h0M48 45h0M64 86h0M56 45h0M31 70h0M54 52h0M58 90h0M58 89h0M29 75h0M8 80h0M44 65h0M57 91h0M19 57h0M53 66h0M16 72h0M47 70h0M30 39h0M11 87h0M17 104h0" stroke="#7090dc" stroke-opacity="0.35" stroke-width="1.50" stroke-linecap="square"/>
</g>
<g clip-path="url(#cb4)"><g filter="url(#bl50)">
<g transform="translate(295.625 109.425) scale(0.25)">
<path d="M0 143 0 216 25 228 60 241 195 241 212 234 224 227 235 218 243 207 243 176 236 166 224 156 210 148 189 140 164 134 130 130 123 127 119 118 118 95 114 79 108 68 102 62 94 58 82 57 72 60 62 66 48 80 41 90 34 103 23 130 16 136Z" fill="#f4f6fc"/>
<path d="M0 149 0 207 20 217 44 224 104 233 130 234 158 231 179 225 192 219 207 206 212 195 212 188 208 178 201 170 193 164 161 149 136 141 125 139 116 134 114 130 114 101 110 83 102 70 92 64 78 64 68 68 61 73 51 83 41 98 27 133 18 141Z" fill="#e8edf8"/>
<path d="M0 155 0 201 18 211 41 218 70 222 101 222 127 219 141 216 160 209 170 202 176 192 176 184 172 175 161 163 142 151 115 141 110 136 110 100 108 90 102 78 94 71 88 69 75 70 60 79 45 98 29 137 24 142Z" fill="#d6dff3"/>
<path d="M94 76 87 73 79 73 70 76 60 83 45 103 40 114 35 132 31 139 23 146 10 152 0 159 0 196 3 199 19 208 42 215 63 218 92 218 113 215 131 210 147 202 156 193 159 186 159 178 155 169 139 155 117 146 108 140 106 135 107 99 101 83Z" fill="#c5d1ee"/>
<path d="M95 81 88 77 76 77 64 83 54 93 43 112 38 130 33 140 22 149 7 157 0 164 0 192 4 196 23 207 39 212 57 215 92 215 110 212 126 207 136 202 145 195 151 184 151 176 148 169 138 159 124 151 109 145 104 139 105 102 102 91Z" fill="#b6c5eb"/>
<path d="M90 82 85 80 78 80 66 85 54 97 45 113 36 140 28 148 9 159 2 166 0 170 0 185 9 196 25 205 41 210 62 213 84 213 100 211 118 206 132 199 140 192 145 181 144 174 141 168 132 159 107 147 102 141 102 100 98 90Z" fill="#a8b9e7"/>
<path d="M89 85 78 83 66 88 51 105 45 118 42 131 37 142 30 149 13 159 5 167 2 173 2 182 5 188 16 198 31 205 47 209 62 211 82 211 102 208 120 202 130 196 138 187 140 176 135 166 120 155 106 149 100 143 99 130 101 122 101 107 96 92Z" fill="#9aade3"/>
<path d="M88 92 84 90 75 90 65 95 55 106 49 118 46 131 41 143 36 149 12 167 9 173 10 184 22 196 30 200 52 206 80 207 106 202 119 196 128 188 131 182 131 175 127 167 117 159 100 150 95 143 97 109 92 96Z" fill="#879ede"/>
<path d="M83 99 75 98 68 101 62 106 54 119 47 144 19 171 18 180 22 187 28 192 49 200 74 202 98 198 111 192 119 184 120 173 116 167 97 155 89 145 92 115 89 105Z" fill="#7299d9"/>
<path d="M80 104 73 104 63 111 57 121 53 139 49 148 32 163 25 172 24 177 26 183 32 189 39 193 59 198 85 197 103 191 111 184 113 180 113 174 111 170 106 165 93 157 85 147 88 116 85 108Z" fill="#65a0d7"/>
<path d="M78 108 70 109 65 113 59 123 53 147 31 169 29 173 29 179 31 183 35 187 44 192 65 196 81 195 93 192 101 188 108 180 108 174 105 169 91 159 82 148 82 139 85 129 85 117 83 112Z" fill="#62accf"/>
<path d="M77 112 70 113 64 119 60 129 59 140 56 148 35 169 33 173 33 178 35 182 42 188 49 191 58 193 83 192 96 187 101 183 103 179 103 174 100 169 88 160 79 149 78 144 82 130 82 118Z" fill="#62bcc4"/>
<path d="M76 116 72 116 66 121 63 127 60 147 37 171 36 176 38 181 47 188 57 191 78 191 94 185 99 179 99 174 97 170 87 162 76 150 75 143 80 128 80 122Z" fill="#75c185"/>
<path d="M74 121 71 121 66 128 65 147 51 159 40 171 40 179 46 185 56 189 72 190 82 188 92 183 95 179 94 171 72 151 70 147 70 143 76 132 76 123Z" fill="#89c75c"/>
<path d="M43 172 43 177 49 184 62 188 73 188 81 186 87 183 91 178 90 171 83 164 69 155 63 155 57 158 49 164Z" fill="#a5d150"/>
<path d="M47 173 48 178 52 182 66 186 78 184 86 178 86 172 84 169 76 163 68 160 63 160 56 163 49 169Z" fill="#c7d843"/>
<path d="M51 174 54 180 61 183 73 183 78 181 82 177 81 171 75 166 69 164 59 165 52 171Z" fill="#e6d83a"/>
<path d="M55 174 58 179 63 181 71 181 76 179 78 176 78 173 74 169 69 167 61 168Z" fill="#eeab2f"/>
<path d="M60 173 60 176 65 179 72 178 74 176 73 172 69 170 64 170Z" fill="#ec7d25"/>
</g></g>
<path transform="translate(295.75 109.55) scale(.5)" d="M69 106h0M50 114h0M87 88h0M110 98h0M53 52h0M49 28h0M57 104h0M72 78h0M117 90h0M15 70h0M14 103h0M52 112h0M88 111h0M76 89h0M74 85h0M78 63h0M92 81h0M52 63h0M28 45h0M56 56h0M103 111h0M50 28h0M73 75h0M103 108h0M1 108h0M78 78h0M15 59h0M83 117h0M5 73h0M113 94h0M48 41h0M14 115h0M59 75h0M107 119h0M0 94h0M5 78h0M37 108h0M54 109h0M18 67h0M91 66h0M88 84h0M85 80h0M62 70h0M98 108h0M5 108h0M66 73h0M111 89h0M36 36h0M5 70h0M7 103h0M31 43h0M80 112h0M2 109h0M35 111h0M53 59h0M81 101h0M76 111h0M18 106h0M23 48h0M83 84h0M115 110h0M92 75h0M81 84h0M18 112h0M99 74h0M80 71h0M119 76h0M77 84h0M64 118h0M78 93h0M108 115h0M63 66h0M101 87h0M56 72h0M53 65h0M6 76h0M100 105h0M86 70h0M91 88h0M86 112h0M49 112h0M76 90h0M53 61h0M44 109h0M75 85h0M3 76h0M71 84h0M84 86h0M37 31h0M82 87h0M41 31h0M56 74h0M41 40h0M121 113h0M32 41h0M88 105h0M84 99h0M106 91h0M121 85h0M109 102h0M81 107h0M70 99h0M17 70h0M55 39h0M50 118h0M37 28h0M81 95h0M74 107h0M79 101h0M106 95h0M118 99h0M56 74h0M2 79h0M72 86h0M96 95h0M25 106h0M8 70h0M13 118h0M52 69h0M92 118h0M58 67h0M58 62h0M80 118h0M19 48h0M73 98h0M102 90h0M40 39h0M76 73h0M67 62h0M79 60h0M70 102h0M101 92h0M74 85h0M99 96h0M70 97h0M56 52h0M76 61h0M3 73h0M69 112h0M21 59h0M74 115h0M31 109h0M74 85h0M36 38h0M50 115h0M55 73h0M40 109h0M53 59h0M40 38h0M85 95h0M40 30h0M92 109h0M52 60h0M9 113h0M81 79h0M17 111h0M90 100h0M89 88h0M72 114h0M19 60h0M61 103h0M103 89h0M78 88h0M39 37h0M5 104h0M76 83h0M81 80h0M71 114h0M27 108h0M101 103h0M85 103h0M56 66h0M109 95h0M59 113h0M4 78h0M49 45h0M54 119h0M6 102h0M67 73h0M54 72h0M31 114h0M66 105h0M81 76h0M109 105h0M2 77h0M101 99h0M88 89h0M80 86h0M90 116h0M82 91h0M121 100h0M95 60h0M73 70h0M109 102h0M86 104h0M88 68h0M106 112h0M122 84h0M6 68h0M16 67h0M74 73h0" stroke="#3a5cc4" stroke-opacity="0.65" stroke-width="1.50" stroke-linecap="square"/>
<path transform="translate(295.75 109.55) scale(.5)" d="M98 73h0M101 83h0M75 63h0M52 40h0M55 65h0M112 107h0M31 34h0M78 116h0M20 43h0M82 80h0M29 34h0M115 88h0M72 97h0M39 112h0M56 40h0M90 101h0M100 85h0M78 77h0M64 74h0M110 104h0M92 101h0M66 77h0M2 80h0M30 39h0M20 110h0M115 76h0M98 96h0M69 69h0M96 80h0M120 104h0M14 71h0M71 68h0M96 87h0M92 109h0M9 70h0M93 110h0M115 91h0M23 54h0M99 89h0M95 112h0M89 92h0M84 107h0M36 117h0M41 112h0M29 45h0M63 104h0M50 111h0M24 53h0M69 116h0M122 87h0M74 119h0M82 74h0M109 89h0M24 43h0M92 70h0M100 101h0M83 57h0M91 95h0M85 106h0M96 98h0M85 116h0M112 82h0M7 104h0M80 81h0M68 82h0M69 119h0M64 73h0M93 67h0M83 69h0M77 115h0M53 56h0M75 90h0M54 62h0M39 28h0M62 75h0M44 108h0M90 91h0M107 65h0M90 108h0M101 110h0M57 61h0M92 106h0M17 111h0M52 63h0M68 70h0M118 101h0M87 94h0M109 89h0M8 65h0M53 28h0M77 96h0M54 55h0M68 103h0M110 100h0M71 98h0M104 87h0M60 111h0M98 119h0M44 36h0M80 92h0M79 76h0M5 104h0M5 115h0M97 98h0M101 100h0M14 105h0M79 83h0M75 83h0M36 120h0M21 59h0M72 118h0M119 100h0M117 68h0M81 78h0M78 101h0M68 72h0M49 108h0M53 48h0M49 117h0M2 103h0M19 106h0M106 89h0M75 93h0M3 99h0M75 99h0M104 93h0M51 29h0M68 106h0M15 71h0M53 111h0M16 114h0M52 112h0M65 74h0M79 85h0M71 76h0M50 106h0M76 83h0M67 74h0M107 118h0M11 104h0M77 84h0M51 41h0M91 71h0M21 108h0M102 75h0M52 49h0M8 71h0M2 77h0M88 81h0M96 94h0M53 51h0M68 70h0M118 84h0M13 71h0M87 116h0M43 112h0M78 63h0M15 53h0M65 61h0M96 111h0M36 34h0M88 114h0M92 94h0M52 53h0M54 53h0M9 106h0M106 101h0M98 107h0M76 98h0M75 89h0M55 71h0M78 101h0M76 103h0M56 65h0M106 105h0M62 59h0M101 77h0M39 40h0M40 110h0M4 75h0M58 69h0M87 83h0M77 75h0M73 84h0M75 90h0M118 68h0M84 79h0M116 68h0M16 59h0M57 50h0M39 107h0M57 74h0M84 83h0M81 106h0M75 79h0M90 75h0M1 78h0M104 98h0M34 41h0" stroke="#5a7ad0" stroke-opacity="0.5" stroke-width="1.50" stroke-linecap="square"/>
<path transform="translate(295.75 109.55) scale(.5)" d="M35 50h0M33 101h0M18 78h0M49 72h0M17 100h0M59 97h0M3 89h0M47 79h0M20 64h0M9 96h0M61 88h0M58 92h0M43 41h0M47 65h0M65 84h0M30 54h0M52 74h0M41 101h0M62 96h0M50 58h0M31 100h0M51 71h0M33 44h0M69 84h0M17 78h0M57 87h0M50 58h0M49 57h0M51 69h0M35 99h0M44 58h0M61 97h0M18 95h0M53 77h0M48 81h0M46 69h0M1 83h0M35 102h0M60 90h0M45 65h0M70 90h0M43 55h0M64 85h0M47 59h0M30 102h0M46 43h0M19 97h0M19 69h0M4 81h0M14 74h0M48 71h0M52 56h0M25 67h0M26 53h0M37 52h0M16 102h0M37 106h0M43 106h0M37 101h0M14 77h0M26 106h0M43 64h0M29 55h0M9 76h0M45 57h0M39 98h0M46 44h0M25 70h0M61 89h0M63 77h0M71 83h0M57 79h0M17 79h0M41 102h0M44 73h0M7 96h0M26 68h0M73 88h0M44 69h0M44 104h0M23 73h0M20 104h0M65 87h0M10 94h0M23 59h0M46 77h0M22 59h0M19 80h0M54 98h0M35 47h0M28 50h0M12 95h0M49 63h0M34 103h0M65 82h0M69 94h0M44 105h0M27 66h0M63 96h0M13 89h0M44 102h0M25 68h0M24 53h0M43 99h0M26 104h0" stroke="#2d4cb0" stroke-opacity="0.4" stroke-width="1.50" stroke-linecap="square"/>
<path transform="translate(295.75 109.55) scale(.5)" d="M42 49h0M10 80h0M43 67h0M19 77h0M45 49h0M46 62h0M49 76h0M23 103h0M24 67h0M67 98h0M0 86h0M11 86h0M18 95h0M42 104h0M7 96h0M53 85h0M7 94h0M56 80h0M58 89h0M59 84h0M59 98h0M55 101h0M64 85h0M63 98h0M33 56h0M58 80h0M21 104h0M44 53h0M47 69h0M56 76h0M12 74h0M29 107h0M33 106h0M9 101h0M54 73h0M61 81h0M53 84h0M25 59h0M50 94h0M44 66h0M8 94h0M65 99h0M11 90h0M66 98h0M25 57h0M9 84h0M45 42h0M6 98h0M64 92h0M51 97h0M22 64h0M42 44h0M45 97h0M21 105h0M54 104h0M69 82h0M14 97h0M3 85h0M69 88h0M46 56h0M31 53h0M7 97h0M67 81h0M1 90h0M12 88h0M30 50h0M50 75h0M42 98h0M42 101h0M0 91h0M48 51h0M51 76h0M8 100h0M17 77h0M69 83h0M66 89h0M10 96h0M38 47h0M8 82h0M0 92h0M50 77h0M14 98h0M31 102h0M58 84h0M32 54h0M42 67h0M43 103h0M40 99h0M25 59h0M59 89h0M62 88h0M14 89h0M41 107h0M26 61h0M21 75h0" stroke="#7090dc" stroke-opacity="0.35" stroke-width="1.50" stroke-linecap="square"/>
</g>
<g clip-path="url(#cb5)"><g filter="url(#bl50)">
<g transform="translate(357.725 109.425) scale(0.25)">
<path d="M0 141 0 210 33 229 60 241 195 241 212 234 224 227 235 218 243 207 243 176 236 166 224 156 210 148 186 139 165 134 134 130 128 128 125 125 124 116 128 98 130 79 129 64 127 56 122 46 116 40 107 36 97 36 87 39 78 44 66 54 47 79 38 97 27 127 22 132Z" fill="#f4f6fc"/>
<path d="M81 48 60 67 51 80 41 100 34 124 29 133 20 139 0 147 0 201 8 206 32 215 82 228 110 233 144 233 158 231 179 225 198 215 207 206 212 195 212 188 208 178 201 170 183 158 158 147 121 136 117 132 117 123 123 102 125 89 125 71 122 59 117 50 106 43 93 43Z" fill="#e8edf8"/>
<path d="M111 52 102 48 94 48 85 51 74 58 63 69 52 85 43 104 38 124 34 133 28 139 0 152 0 195 2 197 18 205 42 212 86 217 111 217 140 214 159 208 171 199 175 191 175 183 168 169 152 155 139 148 116 140 111 134 111 129 118 108 121 93 121 72 119 64Z" fill="#d6dff3"/>
<path d="M109 56 99 52 87 54 75 61 60 77 49 96 37 134 30 141 6 152 0 157 1 192 14 200 38 208 66 212 94 212 111 210 134 204 146 198 154 191 158 183 158 175 154 166 139 153 112 142 107 136 108 128 114 113 118 96 118 73 114 62Z" fill="#c5d1ee"/>
<path d="M107 59 101 56 91 56 85 58 74 65 62 78 49 101 42 128 38 137 31 143 6 155 0 161 0 187 10 195 23 201 40 206 59 209 93 209 107 207 130 200 145 190 150 182 150 172 146 164 134 154 110 144 104 137 116 95 115 72 112 65Z" fill="#b6c5eb"/>
<path d="M103 61 95 59 86 61 76 67 65 78 58 88 51 102 41 137 35 143 11 155 0 166 0 181 9 191 22 198 37 203 64 207 84 207 110 203 122 199 130 195 140 187 144 179 144 172 140 164 131 156 107 145 103 142 101 138 103 128 110 112 114 93 114 82 111 70Z" fill="#a8b9e7"/>
<path d="M103 65 99 63 86 64 77 69 65 81 53 102 48 118 46 131 43 138 34 146 12 157 3 167 3 180 12 190 25 197 41 202 63 205 82 205 114 199 127 193 136 185 139 179 139 171 136 165 126 156 104 146 99 141 99 133 109 109 112 93 111 78 107 69Z" fill="#9aade3"/>
<path d="M101 72 94 69 86 70 77 75 65 88 56 105 52 118 50 133 47 140 36 149 20 157 10 167 9 177 14 185 19 189 31 195 45 199 59 201 83 201 110 195 117 192 128 183 131 176 131 172 126 163 118 157 99 148 93 140 95 132 104 113 107 101 107 83Z" fill="#879ede"/>
<path d="M96 80 92 78 84 79 71 89 66 96 58 115 56 137 54 141 47 148 29 158 20 166 18 171 19 178 28 187 39 192 51 195 81 196 103 191 114 185 119 179 120 171 116 164 111 160 96 153 86 144 86 138 97 118 102 99 101 88Z" fill="#7299d9"/>
<path d="M92 85 88 84 81 86 69 98 62 115 60 142 54 148 33 160 26 167 25 176 35 186 54 192 75 193 99 188 105 185 112 178 113 171 111 167 101 159 87 152 80 145 79 142 82 135 90 124 97 107 97 92Z" fill="#65a0d7"/>
<path d="M89 89 84 89 77 93 71 100 66 110 64 127 69 141 65 145 38 160 30 168 29 174 36 183 57 190 81 190 98 185 106 179 108 171 105 166 97 160 80 151 71 142 71 140 87 124 93 112 94 95 92 91Z" fill="#62accf"/>
<path d="M34 169 34 175 39 181 49 186 58 188 84 187 98 181 103 174 103 171 99 165 72 150 63 150 55 153 41 161ZM87 94 79 96 73 102 69 110 67 121 68 126 71 130 78 129 85 122 91 109 91 99Z" fill="#62bcc4"/>
<path d="M37 170 38 176 45 182 65 187 79 186 93 181 99 174 99 171 95 165 86 159 72 153 62 153 56 155 42 163ZM84 98 79 100 75 104 71 112 71 122 73 125 79 124 84 119 87 113 88 102Z" fill="#75c185"/>
<path d="M41 168 41 175 46 180 61 185 80 184 90 180 95 174 95 170 90 164 77 157 70 155 56 157 48 161ZM83 105 80 105 76 109 76 119 80 118 83 114Z" fill="#89c75c"/>
<path d="M44 170 45 175 49 179 60 183 79 182 86 179 91 173 89 167 86 164 73 158 57 159 48 164Z" fill="#a5d150"/>
<path d="M49 169 49 173 52 177 63 181 77 180 83 177 86 173 86 170 82 165 68 160 57 162 52 165Z" fill="#c7d843"/>
<path d="M53 170 56 176 65 179 77 177 81 173 81 169 78 166 71 163 59 164Z" fill="#e6d83a"/>
<path d="M58 169 58 173 63 176 72 176 77 172 76 169 72 166 62 166Z" fill="#eeab2f"/>
<path d="M63 170 64 173 70 173 72 171 70 169Z" fill="#ec7d25"/>
</g></g>
<path transform="translate(357.85 109.55) scale(.5)" d="M26 44h0M57 107h0M60 73h0M73 90h0M96 107h0M49 103h0M56 55h0M36 103h0M32 116h0M45 113h0M36 116h0M70 99h0M28 111h0M67 72h0M82 103h0M111 95h0M78 110h0M27 39h0M106 65h0M5 106h0M43 103h0M93 104h0M42 23h0M59 111h0M108 85h0M33 35h0M66 76h0M43 105h0M73 89h0M106 116h0M89 86h0M46 103h0M37 114h0M55 59h0M78 97h0M47 115h0M58 27h0M39 104h0M68 47h0M33 108h0M83 85h0M67 97h0M68 113h0M119 95h0M44 26h0M62 61h0M90 119h0M96 99h0M76 94h0M14 104h0M76 102h0M68 102h0M79 55h0M58 41h0M41 30h0M66 73h0M117 65h0M71 78h0M20 67h0M62 34h0M76 99h0M62 107h0M86 97h0M83 100h0M116 119h0M57 28h0M63 64h0M41 28h0M40 109h0M59 73h0M72 108h0M74 90h0M57 64h0M26 110h0M88 102h0M83 72h0M5 103h0M85 99h0M56 104h0M33 113h0M111 61h0M59 40h0M73 86h0M33 110h0M34 106h0M77 101h0M51 29h0M79 86h0M57 39h0M108 74h0M61 57h0M71 77h0M69 77h0M39 109h0M33 111h0M8 111h0M41 29h0M63 43h0M78 110h0M69 94h0M64 39h0M101 97h0M25 49h0M47 24h0M31 39h0M39 31h0M75 109h0M45 107h0M47 26h0M14 72h0M97 113h0M101 113h0M17 108h0M54 70h0M81 77h0M20 62h0M72 110h0M36 120h0M52 114h0M89 74h0M87 80h0M93 96h0M93 81h0M110 81h0M75 112h0M32 35h0M46 22h0M0 69h0M110 93h0M97 96h0M30 108h0M96 81h0M75 114h0M33 108h0M77 79h0M99 74h0M22 107h0M117 93h0M76 116h0M31 40h0M81 119h0M25 114h0M66 97h0M80 84h0M74 115h0M5 105h0M79 94h0M70 106h0M62 20h0M63 42h0M67 109h0M95 91h0M32 35h0M76 86h0M49 104h0M0 78h0M115 88h0M59 74h0M59 49h0M4 117h0M44 105h0M16 48h0M34 111h0M84 114h0M62 67h0M59 70h0M78 90h0M32 107h0M87 110h0M100 103h0M71 80h0M80 94h0M55 67h0M84 93h0M74 76h0M15 103h0M54 32h0M71 55h0M66 28h0M12 60h0M27 106h0M55 34h0M2 69h0M46 26h0M60 52h0M80 98h0M85 94h0M99 96h0M92 92h0M60 48h0M94 62h0M69 111h0M62 43h0M56 37h0M58 59h0M89 92h0M35 24h0M84 75h0M64 45h0M97 99h0M74 110h0M99 94h0M14 116h0M120 72h0M20 114h0M89 63h0M21 46h0M92 114h0M15 66h0M37 26h0M108 116h0M101 95h0M73 105h0M6 103h0M91 99h0M56 64h0M30 40h0M50 28h0M12 105h0M83 110h0M51 102h0" stroke="#3a5cc4" stroke-opacity="0.65" stroke-width="1.50" stroke-linecap="square"/>
<path transform="translate(357.85 109.55) scale(.5)" d="M93 111h0M82 93h0M77 92h0M47 104h0M32 28h0M115 78h0M82 59h0M54 110h0M63 114h0M52 25h0M70 62h0M105 62h0M95 101h0M66 68h0M96 102h0M75 85h0M63 115h0M16 61h0M90 87h0M22 49h0M77 97h0M80 81h0M100 93h0M109 117h0M78 75h0M88 65h0M97 88h0M106 99h0M53 65h0M58 30h0M49 28h0M55 62h0M109 60h0M57 31h0M80 83h0M83 97h0M61 34h0M51 25h0M57 72h0M64 98h0M80 107h0M93 108h0M66 116h0M121 72h0M81 75h0M41 114h0M14 62h0M11 106h0M16 57h0M20 108h0M109 108h0M46 27h0M5 97h0M62 102h0M60 110h0M43 27h0M47 24h0M85 118h0M53 24h0M95 67h0M87 105h0M42 121h0M69 70h0M104 111h0M20 51h0M96 109h0M25 48h0M52 71h0M20 62h0M98 100h0M78 85h0M18 109h0M19 60h0M53 66h0M89 106h0M88 80h0M18 119h0M71 101h0M71 60h0M41 105h0M19 56h0M67 79h0M87 83h0M59 52h0M44 119h0M80 89h0M65 65h0M52 110h0M63 100h0M85 75h0M46 119h0M118 99h0M4 77h0M74 104h0M38 103h0M40 105h0M25 113h0M58 71h0M107 77h0M119 92h0M104 85h0M72 90h0M64 106h0M5 75h0M74 101h0M32 120h0M7 116h0M11 103h0M70 105h0M100 67h0M90 103h0M80 80h0M98 77h0M78 84h0M52 103h0M73 78h0M10 118h0M83 74h0M84 108h0M9 120h0M86 85h0M96 110h0M43 21h0M73 87h0M80 101h0M97 93h0M38 114h0M91 117h0M58 16h0M49 22h0M92 84h0M89 92h0M55 106h0M75 117h0M83 117h0M60 53h0M64 100h0M51 67h0M42 119h0M63 26h0M2 100h0M77 81h0M55 58h0M105 98h0M77 72h0M48 118h0M74 98h0M88 94h0M38 118h0M71 79h0M92 87h0M72 78h0M95 75h0M49 29h0M109 117h0M64 74h0M74 87h0M56 59h0M94 87h0M112 96h0M116 85h0M84 100h0M54 29h0M76 65h0M111 114h0M84 94h0M60 31h0M13 108h0M99 107h0M101 117h0M74 109h0M37 33h0M46 106h0M17 103h0M82 99h0M84 96h0M55 119h0M56 49h0M56 73h0" stroke="#5a7ad0" stroke-opacity="0.5" stroke-width="1.50" stroke-linecap="square"/>
<path transform="translate(357.85 109.55) scale(.5)" d="M21 94h0M31 44h0M65 78h0M50 72h0M9 85h0M61 76h0M39 67h0M32 96h0M56 101h0M43 43h0M51 64h0M8 98h0M59 79h0M63 86h0M27 55h0M54 83h0M10 85h0M1 88h0M26 56h0M3 85h0M43 95h0M56 96h0M5 88h0M48 68h0M10 75h0M52 47h0M63 90h0M73 87h0M51 72h0M32 56h0M30 43h0M49 96h0M42 75h0M69 94h0M28 47h0M64 99h0M6 95h0M30 51h0M58 82h0M34 43h0M54 35h0M14 97h0M53 60h0M45 75h0M0 86h0M6 97h0M34 101h0M31 46h0M50 40h0M23 75h0M53 45h0M58 82h0M20 74h0M52 72h0M28 46h0M8 81h0M52 82h0M44 35h0M53 81h0M50 55h0M58 95h0M34 95h0M44 68h0M52 59h0M54 37h0M54 34h0M28 74h0M55 98h0M20 75h0M9 82h0M58 93h0M52 97h0M63 80h0M12 91h0M49 35h0M28 71h0M60 91h0M36 47h0M3 85h0M33 103h0M56 35h0M55 97h0M46 64h0M49 46h0M50 71h0M31 60h0M54 43h0M39 34h0M71 84h0M29 65h0M60 87h0M50 61h0M28 51h0M67 79h0M18 102h0M44 97h0M48 38h0M28 60h0M28 46h0" stroke="#2d4cb0" stroke-opacity="0.4" stroke-width="1.50" stroke-linecap="square"/>
<path transform="translate(357.85 109.55) scale(.5)" d="M30 100h0M0 89h0M27 56h0M70 89h0M28 51h0M53 48h0M68 89h0M56 73h0M57 42h0M47 71h0M28 45h0M30 45h0M55 89h0M43 69h0M43 63h0M30 59h0M66 90h0M14 79h0M14 81h0M66 92h0M13 96h0M45 76h0M69 85h0M19 69h0M5 84h0M61 96h0M66 88h0M40 36h0M49 65h0M13 79h0M27 69h0M10 81h0M19 76h0M54 90h0M59 81h0M10 97h0M23 73h0M47 99h0M32 49h0M25 75h0M54 75h0M29 49h0M52 56h0M48 44h0M26 66h0M41 39h0M50 40h0M68 79h0M45 66h0M56 90h0M55 51h0M57 80h0M25 54h0M43 75h0M15 75h0M35 100h0M11 94h0M9 77h0M57 99h0M28 58h0M53 78h0M58 100h0M5 95h0M40 102h0M56 36h0M55 38h0M52 64h0M18 96h0M8 75h0M39 73h0M28 100h0M10 89h0M0 83h0M72 90h0M68 92h0M50 43h0M24 61h0M58 90h0M55 91h0M20 102h0M25 96h0M1 80h0M13 76h0M43 95h0M6 85h0M67 80h0M55 80h0M31 95h0M23 99h0M45 71h0M48 43h0M50 46h0M40 97h0M46 99h0M42 71h0M41 31h0M52 54h0M44 44h0M49 61h0M68 87h0M10 90h0" stroke="#7090dc" stroke-opacity="0.35" stroke-width="1.50" stroke-linecap="square"/>
</g>
<rect x="26.20" y="30.50" width="61.10" height="61.00" fill="none" stroke="#8c8c8c" stroke-width="0.8"/>
<path d="M26.8 91.5 V36.5 H64.2 V91.5" fill="none" stroke="#707070" stroke-width="1.1"/>
<text x="29.900000000000002" y="46.8" font-size="8.8" textLength="9.9" lengthAdjust="spacingAndGlyphs" fill="#222" class="l">Lin</text>
<line x1="40.10" y1="41.50" x2="43.30" y2="41.50" stroke="#333" stroke-width="0.8"/>
<rect x="88.10" y="30.50" width="61.40" height="61.00" fill="none" stroke="#8c8c8c" stroke-width="0.8"/>
<path d="M88.7 91.5 V36.3 H126.8 V91.5" fill="none" stroke="#707070" stroke-width="1.1"/>
<text x="92.8" y="46.8" font-size="8.8" textLength="9.9" lengthAdjust="spacingAndGlyphs" fill="#222" class="l">Lin</text>
<line x1="103.00" y1="41.50" x2="106.20" y2="41.50" stroke="#333" stroke-width="0.8"/>
<rect x="150.60" y="30.50" width="61.90" height="61.00" fill="none" stroke="#8c8c8c" stroke-width="0.8"/>
<path d="M151.6 91.5 V36.3 H189.4 V91.5" fill="none" stroke="#707070" stroke-width="1.1"/>
<text x="155.7" y="46.8" font-size="8.8" textLength="9.9" lengthAdjust="spacingAndGlyphs" fill="#222" class="l">Lin</text>
<line x1="165.90" y1="41.50" x2="169.10" y2="41.50" stroke="#333" stroke-width="0.8"/>
<rect x="232.60" y="30.50" width="61.00" height="61.00" fill="none" stroke="#8c8c8c" stroke-width="0.8"/>
<path d="M233.6 91.5 V34.3 H264.3 V91.5" fill="none" stroke="#707070" stroke-width="1.1"/>
<text x="238.0" y="43.3" font-size="8.8" textLength="9.9" lengthAdjust="spacingAndGlyphs" fill="#222" class="l">Lin</text>
<line x1="248.20" y1="37.50" x2="251.40" y2="37.50" stroke="#333" stroke-width="0.8"/>
<rect x="294.30" y="30.50" width="62.50" height="61.00" fill="none" stroke="#8c8c8c" stroke-width="0.8"/>
<path d="M295.6 91.5 V34.3 H327.5 V91.5" fill="none" stroke="#707070" stroke-width="1.1"/>
<text x="300.0" y="43.3" font-size="8.8" textLength="9.9" lengthAdjust="spacingAndGlyphs" fill="#222" class="l">Lin</text>
<line x1="310.20" y1="37.50" x2="313.40" y2="37.50" stroke="#333" stroke-width="0.8"/>
<rect x="357.60" y="30.50" width="62.00" height="61.00" fill="none" stroke="#8c8c8c" stroke-width="0.8"/>
<path d="M358.3 91.5 V34.4 H390.5 V91.5" fill="none" stroke="#707070" stroke-width="1.1"/>
<text x="362.7" y="43.3" font-size="8.8" textLength="9.9" lengthAdjust="spacingAndGlyphs" fill="#222" class="l">Lin</text>
<line x1="372.90" y1="37.50" x2="376.10" y2="37.50" stroke="#333" stroke-width="0.8"/>
<rect x="26.20" y="109.30" width="61.10" height="60.70" fill="none" stroke="#8c8c8c" stroke-width="0.8"/>
<rect x="27.80" y="119.90" width="21.40" height="23.90" fill="none" stroke="#707070" stroke-width="1.0"/>
<rect x="52.40" y="119.90" width="30.00" height="23.90" fill="none" stroke="#707070" stroke-width="1.0"/>
<text x="39.3" y="117.9" font-size="8.6" text-anchor="middle" fill="#222">LK</text>
<text x="68.7" y="117.9" font-size="8.6" text-anchor="middle" fill="#222">LSK</text>
<rect x="88.10" y="109.30" width="61.40" height="60.70" fill="none" stroke="#8c8c8c" stroke-width="0.8"/>
<rect x="89.60" y="119.90" width="22.20" height="23.90" fill="none" stroke="#707070" stroke-width="1.0"/>
<rect x="115.40" y="119.90" width="29.60" height="23.90" fill="none" stroke="#707070" stroke-width="1.0"/>
<text x="101.49999999999999" y="117.9" font-size="8.6" text-anchor="middle" fill="#222">LK</text>
<text x="131.5" y="117.9" font-size="8.6" text-anchor="middle" fill="#222">LSK</text>
<rect x="150.90" y="109.30" width="61.60" height="60.70" fill="none" stroke="#8c8c8c" stroke-width="0.8"/>
<rect x="152.00" y="119.90" width="22.30" height="23.60" fill="none" stroke="#707070" stroke-width="1.0"/>
<rect x="177.50" y="119.90" width="30.10" height="23.60" fill="none" stroke="#707070" stroke-width="1.0"/>
<text x="163.95000000000002" y="117.9" font-size="8.6" text-anchor="middle" fill="#222">LK</text>
<text x="193.85000000000002" y="117.9" font-size="8.6" text-anchor="middle" fill="#222">LSK</text>
<rect x="232.60" y="109.30" width="61.40" height="60.70" fill="none" stroke="#8c8c8c" stroke-width="0.8"/>
<rect x="235.50" y="122.50" width="25.00" height="23.80" fill="none" stroke="#707070" stroke-width="1.0"/>
<rect x="263.70" y="122.50" width="25.60" height="23.80" fill="none" stroke="#707070" stroke-width="1.0"/>
<text x="248.2" y="120.5" font-size="8.6" text-anchor="middle" fill="#222">LK</text>
<text x="277.8" y="120.5" font-size="8.6" text-anchor="middle" fill="#222">LSK</text>
<rect x="295.50" y="109.30" width="60.80" height="60.70" fill="none" stroke="#8c8c8c" stroke-width="0.8"/>
<rect x="298.20" y="122.50" width="24.80" height="23.80" fill="none" stroke="#707070" stroke-width="1.0"/>
<rect x="326.30" y="122.50" width="25.70" height="23.80" fill="none" stroke="#707070" stroke-width="1.0"/>
<text x="310.8" y="120.5" font-size="8.6" text-anchor="middle" fill="#222">LK</text>
<text x="340.45" y="120.5" font-size="8.6" text-anchor="middle" fill="#222">LSK</text>
<rect x="357.60" y="109.30" width="62.00" height="60.70" fill="none" stroke="#8c8c8c" stroke-width="0.8"/>
<rect x="360.80" y="122.50" width="25.00" height="23.80" fill="none" stroke="#707070" stroke-width="1.0"/>
<rect x="389.30" y="122.50" width="25.70" height="23.80" fill="none" stroke="#707070" stroke-width="1.0"/>
<text x="373.5" y="120.5" font-size="8.6" text-anchor="middle" fill="#222">LK</text>
<text x="403.45" y="120.5" font-size="8.6" text-anchor="middle" fill="#222">LSK</text>
<text x="7.3" y="17.3" font-size="11.8" font-weight="bold" fill="#111">A</text>
<text x="53" y="24.3" font-size="8.2" text-anchor="middle" fill="#222" class="l">WT</text>
<text x="117.5" y="13.3" font-size="8.2" text-anchor="middle" fill="#222" class="l">BMT</text>
<text class="l" x="87.2" y="24.3" font-size="8.2" font-style="italic" fill="#222" textLength="49.2" lengthAdjust="spacingAndGlyphs">NHD13/Setd2</text>
<text x="136.80" y="21.23" font-size="5.58" font-style="italic" fill="#222" style="stroke:none" textLength="6.5" lengthAdjust="spacingAndGlyphs">f/f</text>
<text class="l" x="153.0" y="24.3" font-size="8.2" font-style="italic" fill="#222" textLength="52.2" lengthAdjust="spacingAndGlyphs">NHD13/Setd2</text>
<text x="205.60" y="21.23" font-size="5.58" font-style="normal" fill="#222" style="stroke:none" textLength="8.5" lengthAdjust="spacingAndGlyphs">Δ/Δ</text>
<text x="258.8" y="24.3" font-size="8.2" text-anchor="middle" fill="#222" class="l">WT</text>
<text x="325.0" y="13.3" font-size="8.2" text-anchor="middle" fill="#222" class="l">Primary</text>
<text class="l" x="295.0" y="24.3" font-size="8.2" font-style="italic" fill="#222" textLength="53.5" lengthAdjust="spacingAndGlyphs">NHD13/Setd2</text>
<text x="348.90" y="21.23" font-size="5.58" font-style="italic" fill="#222" style="stroke:none" textLength="6.0" lengthAdjust="spacingAndGlyphs">f/f</text>
<text class="l" x="360.0" y="24.3" font-size="8.2" font-style="italic" fill="#222" textLength="52.0" lengthAdjust="spacingAndGlyphs">NHD13/Setd2</text>
<text x="412.40" y="21.23" font-size="5.58" font-style="normal" fill="#222" style="stroke:none" textLength="9.5" lengthAdjust="spacingAndGlyphs">Δ/Δ</text>
<line x1="26.5" y1="97.9" x2="161.3" y2="97.9" stroke="#4a4a4a" stroke-width="1.6"/>
<path d="M165.3 97.9 L159.8 95.3 L159.8 100.5 Z" fill="#1a1a1a"/>
<text x="168.9" y="101.8" font-size="9.5" textLength="10.1" lengthAdjust="spacingAndGlyphs" fill="#222" class="l">Lin</text>
<line x1="179.30" y1="95.50" x2="182.50" y2="95.50" stroke="#333" stroke-width="0.8"/>
<line x1="232.6" y1="97.9" x2="363.8" y2="97.9" stroke="#4a4a4a" stroke-width="1.6"/>
<path d="M367.8 97.9 L362.3 95.3 L362.3 100.5 Z" fill="#1a1a1a"/>
<text x="372.6" y="101.8" font-size="9.5" textLength="10.1" lengthAdjust="spacingAndGlyphs" fill="#222" class="l">Lin</text>
<line x1="383.00" y1="95.50" x2="386.20" y2="95.50" stroke="#333" stroke-width="0.8"/>
<line x1="21.5" y1="176.3" x2="21.5" y2="142.3" stroke="#222" stroke-width="1.1"/>
<path d="M21.5 137.3 L18.8 142.8 L24.2 142.8 Z" fill="#222"/>
<line x1="21.0" y1="176.3" x2="156.2" y2="176.3" stroke="#222" stroke-width="1.1"/>
<path d="M160.2 176.3 L155.7 174.1 L155.7 178.5 Z" fill="#222"/>
<text x="163.8" y="179.2" font-size="10" textLength="17.6" lengthAdjust="spacingAndGlyphs" fill="#222">Sca-1</text>
<text transform="translate(24.1,127.0) rotate(-90)" font-size="7.2" text-anchor="middle" textLength="12.2" lengthAdjust="spacingAndGlyphs" fill="#222">c-Kit</text>
<text x="62.7" y="194.2" font-size="10" textLength="49" lengthAdjust="spacingAndGlyphs" fill="#222">Gated from Lin</text>
<text x="112.30000000000001" y="190.6" font-size="6.5" fill="#222">−</text>
<line x1="226.3" y1="176.3" x2="226.3" y2="142.3" stroke="#222" stroke-width="1.1"/>
<path d="M226.3 137.3 L223.60000000000002 142.8 L229.0 142.8 Z" fill="#222"/>
<line x1="225.8" y1="176.3" x2="362.0" y2="176.3" stroke="#222" stroke-width="1.1"/>
<path d="M366.0 176.3 L361.5 174.1 L361.5 178.5 Z" fill="#222"/>
<text x="368.8" y="179.2" font-size="10" textLength="17.6" lengthAdjust="spacingAndGlyphs" fill="#222">Sca-1</text>
<text transform="translate(228.9,127.0) rotate(-90)" font-size="7.2" text-anchor="middle" textLength="12.2" lengthAdjust="spacingAndGlyphs" fill="#222">c-Kit</text>
<text x="267.5" y="194.2" font-size="10" textLength="49" lengthAdjust="spacingAndGlyphs" fill="#222">Gated from Lin</text>
<text x="317.1" y="190.6" font-size="6.5" fill="#222">−</text>
<text x="7.3" y="222.3" font-size="11.8" font-weight="bold" fill="#111">B</text>
<text x="7.3" y="351.8" font-size="11.8" font-weight="bold" fill="#111">C</text>
<line x1="61.5" y1="308.3" x2="64.5" y2="308.3" stroke="#1a1a1a" stroke-width="0.9"/>
<text x="58.3" y="311.2" font-size="8.1" text-anchor="end" fill="#222">0</text>
<line x1="61.5" y1="278.3" x2="64.5" y2="278.3" stroke="#1a1a1a" stroke-width="0.9"/>
<text x="58.3" y="281.2" font-size="8.1" text-anchor="end" fill="#222">5</text>
<line x1="61.5" y1="248.3" x2="64.5" y2="248.3" stroke="#1a1a1a" stroke-width="0.9"/>
<text x="58.3" y="251.20000000000002" font-size="8.1" text-anchor="end" fill="#222">10</text>
<line x1="61.5" y1="218.3" x2="64.5" y2="218.3" stroke="#1a1a1a" stroke-width="0.9"/>
<text x="58.3" y="221.20000000000002" font-size="8.1" text-anchor="end" fill="#222">15</text>
<line x1="74.6" y1="284.3" x2="74.6" y2="278.3" stroke="#333" stroke-width="0.9"/>
<line x1="71.6" y1="278.3" x2="77.6" y2="278.3" stroke="#222" stroke-width="1.0"/>
<rect x="67.95" y="284.30" width="13.30" height="24.00" fill="#6aab45" stroke="#5a9a38" stroke-width="0.5"/>
<line x1="74.6" y1="308.3" x2="74.6" y2="311.3" stroke="#1a1a1a" stroke-width="0.9"/>
<line x1="94.6" y1="286.7" x2="94.6" y2="278.6" stroke="#333" stroke-width="0.9"/>
<line x1="91.6" y1="278.6" x2="97.6" y2="278.6" stroke="#222" stroke-width="1.0"/>
<rect x="87.95" y="286.70" width="13.30" height="21.60" fill="#2d4e8a" stroke="#22407a" stroke-width="0.5"/>
<line x1="94.6" y1="308.3" x2="94.6" y2="311.3" stroke="#1a1a1a" stroke-width="0.9"/>
<line x1="114.9" y1="250.4" x2="114.9" y2="245.60000000000002" stroke="#333" stroke-width="0.9"/>
<line x1="111.9" y1="245.60000000000002" x2="117.9" y2="245.60000000000002" stroke="#222" stroke-width="1.0"/>
<rect x="108.25" y="250.40" width="13.30" height="57.90" fill="#a5062f" stroke="#94042a" stroke-width="0.5"/>
<line x1="114.9" y1="308.3" x2="114.9" y2="311.3" stroke="#1a1a1a" stroke-width="0.9"/>
<line x1="64.5" y1="215.5" x2="64.5" y2="308.8" stroke="#1a1a1a" stroke-width="1.1"/>
<line x1="64.0" y1="308.3" x2="125.3" y2="308.3" stroke="#1a1a1a" stroke-width="1.1"/>
<line x1="74.5" y1="231.5" x2="113.8" y2="231.5" stroke="#333" stroke-width="1.0"/>
<text x="94.15" y="231.70" font-size="8.6" text-anchor="middle" fill="#222">****</text>
<line x1="95.0" y1="242.5" x2="113.8" y2="242.5" stroke="#333" stroke-width="1.0"/>
<text x="104.40" y="242.70" font-size="8.6" text-anchor="middle" fill="#222">****</text>
<text transform="translate(30.8,261.6) rotate(-90)" x="0" y="0" font-size="10" text-anchor="middle" textLength="14.8" lengthAdjust="spacingAndGlyphs" fill="#222">BMT</text>
<text transform="translate(43.4,261.5) rotate(-90)" x="0" y="0" font-size="10" text-anchor="middle" textLength="54" lengthAdjust="spacingAndGlyphs" fill="#222">cell count (10<tspan dy="-3.4" font-size="7" style="stroke-width:.12px">6</tspan><tspan dy="3.4">)</tspan></text>
<text x="95.0" y="323.7" font-size="10.2" text-anchor="middle" textLength="12.6" lengthAdjust="spacingAndGlyphs" fill="#222">Lin<tspan dy="-4" font-size="6">−</tspan></text>
<line x1="171.5" y1="308.3" x2="174.5" y2="308.3" stroke="#1a1a1a" stroke-width="0.9"/>
<text x="168.3" y="311.2" font-size="8.1" text-anchor="end" fill="#222">0</text>
<line x1="171.5" y1="278.90000000000003" x2="174.5" y2="278.90000000000003" stroke="#1a1a1a" stroke-width="0.9"/>
<text x="168.3" y="281.8" font-size="8.1" text-anchor="end" fill="#222">10</text>
<line x1="171.5" y1="249.5" x2="174.5" y2="249.5" stroke="#1a1a1a" stroke-width="0.9"/>
<text x="168.3" y="252.4" font-size="8.1" text-anchor="end" fill="#222">20</text>
<line x1="171.5" y1="220.10000000000002" x2="174.5" y2="220.10000000000002" stroke="#1a1a1a" stroke-width="0.9"/>
<text x="168.3" y="223.00000000000003" font-size="8.1" text-anchor="end" fill="#222">30</text>
<line x1="184.4" y1="283.016" x2="184.4" y2="275.96000000000004" stroke="#333" stroke-width="0.9"/>
<line x1="181.4" y1="275.96000000000004" x2="187.4" y2="275.96000000000004" stroke="#222" stroke-width="1.0"/>
<rect x="177.75" y="283.02" width="13.30" height="25.28" fill="#6aab45" stroke="#5a9a38" stroke-width="0.5"/>
<line x1="184.4" y1="308.3" x2="184.4" y2="311.3" stroke="#1a1a1a" stroke-width="0.9"/>
<line x1="204.0" y1="293.30600000000004" x2="204.0" y2="289.48400000000004" stroke="#333" stroke-width="0.9"/>
<line x1="201.0" y1="289.48400000000004" x2="207.0" y2="289.48400000000004" stroke="#222" stroke-width="1.0"/>
<rect x="197.35" y="293.31" width="13.30" height="14.99" fill="#2d4e8a" stroke="#22407a" stroke-width="0.5"/>
<line x1="204.0" y1="308.3" x2="204.0" y2="311.3" stroke="#1a1a1a" stroke-width="0.9"/>
<line x1="223.5" y1="241.26800000000003" x2="223.5" y2="230.39000000000001" stroke="#333" stroke-width="0.9"/>
<line x1="220.5" y1="230.39000000000001" x2="226.5" y2="230.39000000000001" stroke="#222" stroke-width="1.0"/>
<rect x="216.85" y="241.27" width="13.30" height="67.03" fill="#a5062f" stroke="#94042a" stroke-width="0.5"/>
<line x1="223.5" y1="308.3" x2="223.5" y2="311.3" stroke="#1a1a1a" stroke-width="0.9"/>
<line x1="174.5" y1="217.3" x2="174.5" y2="308.8" stroke="#1a1a1a" stroke-width="1.1"/>
<line x1="174.0" y1="308.3" x2="233.3" y2="308.3" stroke="#1a1a1a" stroke-width="1.1"/>
<line x1="187.0" y1="218.5" x2="223.0" y2="218.5" stroke="#333" stroke-width="1.0"/>
<text x="205.00" y="218.70" font-size="8.6" text-anchor="middle" fill="#222">****</text>
<line x1="205.5" y1="227.5" x2="222.5" y2="227.5" stroke="#333" stroke-width="1.0"/>
<text x="214.00" y="227.70" font-size="8.6" text-anchor="middle" fill="#222">****</text>
<line x1="186.3" y1="273.5" x2="203.0" y2="273.5" stroke="#333" stroke-width="1.0"/>
<text x="194.65" y="273.70" font-size="8.6" text-anchor="middle" fill="#222">*</text>
<text transform="translate(153.5,263.0) rotate(-90)" x="0" y="0" font-size="10" text-anchor="middle" textLength="57" lengthAdjust="spacingAndGlyphs" fill="#222">Cell count (10<tspan dy="-3.4" font-size="7" style="stroke-width:.12px">5</tspan><tspan dy="3.4">)</tspan></text>
<text x="203.9" y="323.7" font-size="10.2" text-anchor="middle" textLength="8.0" lengthAdjust="spacingAndGlyphs" fill="#222">LK</text>
<line x1="280.3" y1="308.3" x2="283.3" y2="308.3" stroke="#1a1a1a" stroke-width="0.9"/>
<text x="277.1" y="311.2" font-size="8.1" text-anchor="end" fill="#222">0</text>
<line x1="280.3" y1="285.8" x2="283.3" y2="285.8" stroke="#1a1a1a" stroke-width="0.9"/>
<text x="277.1" y="288.7" font-size="8.1" text-anchor="end" fill="#222">5</text>
<line x1="280.3" y1="263.3" x2="283.3" y2="263.3" stroke="#1a1a1a" stroke-width="0.9"/>
<text x="277.1" y="266.2" font-size="8.1" text-anchor="end" fill="#222">10</text>
<line x1="280.3" y1="240.8" x2="283.3" y2="240.8" stroke="#1a1a1a" stroke-width="0.9"/>
<text x="277.1" y="243.70000000000002" font-size="8.1" text-anchor="end" fill="#222">15</text>
<line x1="280.3" y1="218.3" x2="283.3" y2="218.3" stroke="#1a1a1a" stroke-width="0.9"/>
<text x="277.1" y="221.20000000000002" font-size="8.1" text-anchor="end" fill="#222">20</text>
<line x1="293.4" y1="260.15000000000003" x2="293.4" y2="237.65000000000003" stroke="#333" stroke-width="0.9"/>
<line x1="290.4" y1="237.65000000000003" x2="296.4" y2="237.65000000000003" stroke="#222" stroke-width="1.0"/>
<rect x="286.75" y="260.15" width="13.30" height="48.15" fill="#6aab45" stroke="#5a9a38" stroke-width="0.5"/>
<line x1="293.4" y1="308.3" x2="293.4" y2="311.3" stroke="#1a1a1a" stroke-width="0.9"/>
<line x1="313.75" y1="303.8" x2="313.75" y2="302.45" stroke="#333" stroke-width="0.9"/>
<line x1="310.75" y1="302.45" x2="316.75" y2="302.45" stroke="#222" stroke-width="1.0"/>
<rect x="307.10" y="303.80" width="13.30" height="4.50" fill="#2d4e8a" stroke="#22407a" stroke-width="0.5"/>
<line x1="313.75" y1="308.3" x2="313.75" y2="311.3" stroke="#1a1a1a" stroke-width="0.9"/>
<line x1="334.6" y1="297.5" x2="334.6" y2="294.35" stroke="#333" stroke-width="0.9"/>
<line x1="331.6" y1="294.35" x2="337.6" y2="294.35" stroke="#222" stroke-width="1.0"/>
<rect x="327.95" y="297.50" width="13.30" height="10.80" fill="#a5062f" stroke="#94042a" stroke-width="0.5"/>
<line x1="334.6" y1="308.3" x2="334.6" y2="311.3" stroke="#1a1a1a" stroke-width="0.9"/>
<line x1="283.3" y1="215.7" x2="283.3" y2="308.8" stroke="#1a1a1a" stroke-width="1.1"/>
<line x1="282.8" y1="308.3" x2="344.5" y2="308.3" stroke="#1a1a1a" stroke-width="1.1"/>
<line x1="293.8" y1="221.5" x2="331.8" y2="221.5" stroke="#333" stroke-width="1.0"/>
<text x="312.80" y="221.70" font-size="8.6" text-anchor="middle" fill="#222">**</text>
<line x1="293.8" y1="234.5" x2="313.3" y2="234.5" stroke="#333" stroke-width="1.0"/>
<text x="303.55" y="234.70" font-size="8.6" text-anchor="middle" fill="#222">**</text>
<line x1="314.3" y1="290.5" x2="334.5" y2="290.5" stroke="#333" stroke-width="1.0"/>
<text x="324.40" y="290.70" font-size="8.6" text-anchor="middle" fill="#222">**</text>
<text transform="translate(261.5,262.5) rotate(-90)" x="0" y="0" font-size="10" text-anchor="middle" textLength="57" lengthAdjust="spacingAndGlyphs" fill="#222">Cell count (10<tspan dy="-3.4" font-size="7" style="stroke-width:.12px">4</tspan><tspan dy="3.4">)</tspan></text>
<text x="314.2" y="323.7" font-size="10.2" text-anchor="middle" textLength="13.0" lengthAdjust="spacingAndGlyphs" fill="#222">LSK</text>
<line x1="60.8" y1="437.3" x2="63.8" y2="437.3" stroke="#1a1a1a" stroke-width="0.9"/>
<text x="57.599999999999994" y="440.2" font-size="8.1" text-anchor="end" fill="#222">0</text>
<line x1="60.8" y1="415.3" x2="63.8" y2="415.3" stroke="#1a1a1a" stroke-width="0.9"/>
<text x="57.599999999999994" y="418.2" font-size="8.1" text-anchor="end" fill="#222">10</text>
<line x1="60.8" y1="393.3" x2="63.8" y2="393.3" stroke="#1a1a1a" stroke-width="0.9"/>
<text x="57.599999999999994" y="396.2" font-size="8.1" text-anchor="end" fill="#222">20</text>
<line x1="60.8" y1="371.3" x2="63.8" y2="371.3" stroke="#1a1a1a" stroke-width="0.9"/>
<text x="57.599999999999994" y="374.2" font-size="8.1" text-anchor="end" fill="#222">30</text>
<line x1="60.8" y1="349.3" x2="63.8" y2="349.3" stroke="#1a1a1a" stroke-width="0.9"/>
<text x="57.599999999999994" y="352.2" font-size="8.1" text-anchor="end" fill="#222">40</text>
<line x1="74.0" y1="420.14" x2="74.0" y2="416.40000000000003" stroke="#333" stroke-width="0.9"/>
<line x1="71.0" y1="416.40000000000003" x2="77.0" y2="416.40000000000003" stroke="#222" stroke-width="1.0"/>
<rect x="67.35" y="420.14" width="13.30" height="17.16" fill="#6aab45" stroke="#5a9a38" stroke-width="0.5"/>
<line x1="74.0" y1="437.3" x2="74.0" y2="440.3" stroke="#1a1a1a" stroke-width="0.9"/>
<line x1="93.5" y1="412.0" x2="93.5" y2="406.28000000000003" stroke="#333" stroke-width="0.9"/>
<line x1="90.5" y1="406.28000000000003" x2="96.5" y2="406.28000000000003" stroke="#222" stroke-width="1.0"/>
<rect x="86.85" y="412.00" width="13.30" height="25.30" fill="#2d4e8a" stroke="#22407a" stroke-width="0.5"/>
<line x1="93.5" y1="437.3" x2="93.5" y2="440.3" stroke="#1a1a1a" stroke-width="0.9"/>
<line x1="112.9" y1="378.78" x2="112.9" y2="373.28" stroke="#333" stroke-width="0.9"/>
<line x1="109.9" y1="373.28" x2="115.9" y2="373.28" stroke="#222" stroke-width="1.0"/>
<rect x="106.25" y="378.78" width="13.30" height="58.52" fill="#a5062f" stroke="#94042a" stroke-width="0.5"/>
<line x1="112.9" y1="437.3" x2="112.9" y2="440.3" stroke="#1a1a1a" stroke-width="0.9"/>
<line x1="63.8" y1="346.8" x2="63.8" y2="437.8" stroke="#1a1a1a" stroke-width="1.1"/>
<line x1="63.3" y1="437.3" x2="125.3" y2="437.3" stroke="#1a1a1a" stroke-width="1.1"/>
<line x1="75.0" y1="358.5" x2="113.0" y2="358.5" stroke="#333" stroke-width="1.0"/>
<text x="94.00" y="358.70" font-size="8.6" text-anchor="middle" fill="#222">****</text>
<line x1="92.5" y1="369.5" x2="113.0" y2="369.5" stroke="#333" stroke-width="1.0"/>
<text x="102.75" y="369.70" font-size="8.6" text-anchor="middle" fill="#222">****</text>
<line x1="72.5" y1="401.5" x2="93.3" y2="401.5" stroke="#333" stroke-width="1.0"/>
<text x="82.90" y="401.70" font-size="8.6" text-anchor="middle" fill="#222">*</text>
<text transform="translate(30.8,392.0) rotate(-90)" x="0" y="0" font-size="10" text-anchor="middle" textLength="14.8" lengthAdjust="spacingAndGlyphs" fill="#222">BMT</text>
<text transform="translate(43.4,392.5) rotate(-90)" x="0" y="0" font-size="10" text-anchor="middle" textLength="30" lengthAdjust="spacingAndGlyphs" fill="#222">% of Live</text>
<text x="93.3" y="452.2" font-size="10.2" text-anchor="middle" textLength="12.6" lengthAdjust="spacingAndGlyphs" fill="#222">Lin<tspan dy="-4" font-size="6">−</tspan></text>
<line x1="171.5" y1="437.3" x2="174.5" y2="437.3" stroke="#1a1a1a" stroke-width="0.9"/>
<text x="168.3" y="440.2" font-size="8.1" text-anchor="end" fill="#222">0</text>
<line x1="171.5" y1="415.5" x2="174.5" y2="415.5" stroke="#1a1a1a" stroke-width="0.9"/>
<text x="168.3" y="418.4" font-size="8.1" text-anchor="end" fill="#222">2</text>
<line x1="171.5" y1="393.7" x2="174.5" y2="393.7" stroke="#1a1a1a" stroke-width="0.9"/>
<text x="168.3" y="396.59999999999997" font-size="8.1" text-anchor="end" fill="#222">4</text>
<line x1="171.5" y1="371.9" x2="174.5" y2="371.9" stroke="#1a1a1a" stroke-width="0.9"/>
<text x="168.3" y="374.79999999999995" font-size="8.1" text-anchor="end" fill="#222">6</text>
<line x1="171.5" y1="350.1" x2="174.5" y2="350.1" stroke="#1a1a1a" stroke-width="0.9"/>
<text x="168.3" y="353.0" font-size="8.1" text-anchor="end" fill="#222">8</text>
<line x1="184.0" y1="418.334" x2="184.0" y2="413.10200000000003" stroke="#333" stroke-width="0.9"/>
<line x1="181.0" y1="413.10200000000003" x2="187.0" y2="413.10200000000003" stroke="#222" stroke-width="1.0"/>
<rect x="177.35" y="418.33" width="13.30" height="18.97" fill="#6aab45" stroke="#5a9a38" stroke-width="0.5"/>
<line x1="184.0" y1="437.3" x2="184.0" y2="440.3" stroke="#1a1a1a" stroke-width="0.9"/>
<line x1="203.5" y1="418.77" x2="203.5" y2="416.59000000000003" stroke="#333" stroke-width="0.9"/>
<line x1="200.5" y1="416.59000000000003" x2="206.5" y2="416.59000000000003" stroke="#222" stroke-width="1.0"/>
<rect x="196.85" y="418.77" width="13.30" height="18.53" fill="#2d4e8a" stroke="#22407a" stroke-width="0.5"/>
<line x1="203.5" y1="437.3" x2="203.5" y2="440.3" stroke="#1a1a1a" stroke-width="0.9"/>
<line x1="222.75" y1="368.303" x2="222.75" y2="361.327" stroke="#333" stroke-width="0.9"/>
<line x1="219.75" y1="361.327" x2="225.75" y2="361.327" stroke="#222" stroke-width="1.0"/>
<rect x="216.10" y="368.30" width="13.30" height="69.00" fill="#a5062f" stroke="#94042a" stroke-width="0.5"/>
<line x1="222.75" y1="437.3" x2="222.75" y2="440.3" stroke="#1a1a1a" stroke-width="0.9"/>
<line x1="174.5" y1="347.3" x2="174.5" y2="437.8" stroke="#1a1a1a" stroke-width="1.1"/>
<line x1="174.0" y1="437.3" x2="233.3" y2="437.3" stroke="#1a1a1a" stroke-width="1.1"/>
<line x1="183.8" y1="348.5" x2="222.5" y2="348.5" stroke="#333" stroke-width="1.0"/>
<text x="203.15" y="348.70" font-size="8.6" text-anchor="middle" fill="#222">****</text>
<line x1="203.0" y1="356.5" x2="222.5" y2="356.5" stroke="#333" stroke-width="1.0"/>
<text x="212.75" y="356.70" font-size="8.6" text-anchor="middle" fill="#222">****</text>
<text transform="translate(158.0,392.0) rotate(-90)" x="0" y="0" font-size="10" text-anchor="middle" textLength="30" lengthAdjust="spacingAndGlyphs" fill="#222">% of Live</text>
<text x="203.3" y="452.2" font-size="10.2" text-anchor="middle" textLength="8.0" lengthAdjust="spacingAndGlyphs" fill="#222">LK</text>
<line x1="280.3" y1="437.3" x2="283.3" y2="437.3" stroke="#1a1a1a" stroke-width="0.9"/>
<text x="277.1" y="440.2" font-size="8.1" text-anchor="end" fill="#222">0.0</text>
<line x1="280.3" y1="414.90000000000003" x2="283.3" y2="414.90000000000003" stroke="#1a1a1a" stroke-width="0.9"/>
<text x="277.1" y="417.8" font-size="8.1" text-anchor="end" fill="#222">0.1</text>
<line x1="280.3" y1="392.5" x2="283.3" y2="392.5" stroke="#1a1a1a" stroke-width="0.9"/>
<text x="277.1" y="395.4" font-size="8.1" text-anchor="end" fill="#222">0.2</text>
<line x1="280.3" y1="370.1" x2="283.3" y2="370.1" stroke="#1a1a1a" stroke-width="0.9"/>
<text x="277.1" y="373.0" font-size="8.1" text-anchor="end" fill="#222">0.3</text>
<line x1="280.3" y1="347.7" x2="283.3" y2="347.7" stroke="#1a1a1a" stroke-width="0.9"/>
<text x="277.1" y="350.59999999999997" font-size="8.1" text-anchor="end" fill="#222">0.4</text>
<line x1="293.4" y1="389.36400000000003" x2="293.4" y2="365.62" stroke="#333" stroke-width="0.9"/>
<line x1="290.4" y1="365.62" x2="296.4" y2="365.62" stroke="#222" stroke-width="1.0"/>
<rect x="286.75" y="389.36" width="13.30" height="47.94" fill="#6aab45" stroke="#5a9a38" stroke-width="0.5"/>
<line x1="293.4" y1="437.3" x2="293.4" y2="440.3" stroke="#1a1a1a" stroke-width="0.9"/>
<line x1="313.5" y1="430.132" x2="313.5" y2="426.99600000000004" stroke="#333" stroke-width="0.9"/>
<line x1="310.5" y1="426.99600000000004" x2="316.5" y2="426.99600000000004" stroke="#222" stroke-width="1.0"/>
<rect x="306.85" y="430.13" width="13.30" height="7.17" fill="#2d4e8a" stroke="#22407a" stroke-width="0.5"/>
<line x1="313.5" y1="437.3" x2="313.5" y2="440.3" stroke="#1a1a1a" stroke-width="0.9"/>
<line x1="333.5" y1="422.516" x2="333.5" y2="418.26" stroke="#333" stroke-width="0.9"/>
<line x1="330.5" y1="418.26" x2="336.5" y2="418.26" stroke="#222" stroke-width="1.0"/>
<rect x="326.85" y="422.52" width="13.30" height="14.78" fill="#a5062f" stroke="#94042a" stroke-width="0.5"/>
<line x1="333.5" y1="437.3" x2="333.5" y2="440.3" stroke="#1a1a1a" stroke-width="0.9"/>
<line x1="283.3" y1="344.8" x2="283.3" y2="437.8" stroke="#1a1a1a" stroke-width="1.1"/>
<line x1="282.8" y1="437.3" x2="344.5" y2="437.3" stroke="#1a1a1a" stroke-width="1.1"/>
<line x1="293.0" y1="350.5" x2="334.5" y2="350.5" stroke="#333" stroke-width="1.0"/>
<text x="313.75" y="350.70" font-size="8.6" text-anchor="middle" fill="#222">**</text>
<line x1="293.0" y1="362.5" x2="312.5" y2="362.5" stroke="#333" stroke-width="1.0"/>
<text x="302.75" y="362.70" font-size="8.6" text-anchor="middle" fill="#222">*</text>
<line x1="313.8" y1="415.5" x2="334.5" y2="415.5" stroke="#333" stroke-width="1.0"/>
<text x="324.15" y="415.70" font-size="8.6" text-anchor="middle" fill="#222">*</text>
<text transform="translate(261.5,391.3) rotate(-90)" x="0" y="0" font-size="10" text-anchor="middle" textLength="30" lengthAdjust="spacingAndGlyphs" fill="#222">% of live</text>
<text x="313.3" y="452.2" font-size="10.2" text-anchor="middle" textLength="13.0" lengthAdjust="spacingAndGlyphs" fill="#222">LSK</text>
<rect x="348.80" y="215.50" width="6.20" height="5.20" fill="#6aab45"/>
<text x="358.8" y="220.8" font-size="7.8" fill="#222" class="l">WT</text>
<rect x="348.80" y="226.85" width="6.20" height="5.20" fill="#2d4e8a"/>
<text class="l" x="358.8" y="232.15" font-size="7.8" font-style="italic" fill="#222" textLength="50.0" lengthAdjust="spacingAndGlyphs">NHD13/Setd2</text>
<text x="409.20" y="229.22" font-size="5.30" font-style="italic" fill="#222" style="stroke:none" textLength="5.0" lengthAdjust="spacingAndGlyphs">f/f</text>
<rect x="348.80" y="238.20" width="6.20" height="5.20" fill="#a5062f"/>
<text class="l" x="358.8" y="243.5" font-size="7.8" font-style="italic" fill="#222" textLength="50.0" lengthAdjust="spacingAndGlyphs">NHD13/Setd2</text>
<text x="409.20" y="240.57" font-size="5.30" font-style="normal" fill="#222" style="stroke:none" textLength="7.5" lengthAdjust="spacingAndGlyphs">Δ/Δ</text>
<rect x="348.80" y="344.60" width="6.20" height="5.20" fill="#6aab45"/>
<text x="358.8" y="349.90000000000003" font-size="7.8" fill="#222" class="l">WT</text>
<rect x="348.80" y="355.95" width="6.20" height="5.20" fill="#2d4e8a"/>
<text class="l" x="358.8" y="361.25000000000006" font-size="7.8" font-style="italic" fill="#222" textLength="50.0" lengthAdjust="spacingAndGlyphs">NHD13/Setd2</text>
<text x="409.20" y="358.33" font-size="5.30" font-style="italic" fill="#222" style="stroke:none" textLength="5.0" lengthAdjust="spacingAndGlyphs">f/f</text>
<rect x="348.80" y="367.30" width="6.20" height="5.20" fill="#a5062f"/>
<text class="l" x="358.8" y="372.6" font-size="7.8" font-style="italic" fill="#222" textLength="50.0" lengthAdjust="spacingAndGlyphs">NHD13/Setd2</text>
<text x="409.20" y="369.68" font-size="5.30" font-style="normal" fill="#222" style="stroke:none" textLength="7.5" lengthAdjust="spacingAndGlyphs">Δ/Δ</text>
<g transform="translate(32.083 484.283) scale(0.16667)" fill="none" stroke="#d25c5c" stroke-opacity="0.75" stroke-width="3.00" stroke-linejoin="round">
<path d="M295 166 289 166 261 183 254 182 235 171 221 166 210 165 209 164 197 164 196 165 185 166 173 170 163 175 150 184 134 200 121 219 112 241 109 254 109 262 108 263 108 279 109 280 109 287 111 297 115 309 126 329 139 344 157 357 176 365 189 368 197 368 198 369 222 368 241 364 264 356 290 342 309 325 316 315 321 305 325 291 326 277 325 276 325 268 323 260 315 242 291 212 291 201 298 178 298 170ZM289 176 283 176 279 178 265 189 258 193 250 193 240 186 220 177 211 175 193 175 178 179 164 186 152 195 142 205 131 220 124 234 118 255 117 279 120 295 128 315 136 327 149 340 159 347 169 352 181 356 191 358 214 358 230 355 247 349 268 338 288 322 298 309 302 301 306 287 306 271 303 259 297 246 286 231 281 222 281 212 290 187 290 182 291 181ZM283 184 277 185 260 198 254 201 249 201 230 189 218 184 209 182 189 183 177 187 166 193 158 199 144 213 134 228 127 245 124 258 124 283 128 299 135 314 143 325 150 332 166 343 182 349 193 350 194 351 217 350 235 345 252 337 268 326 282 312 291 296 294 282 294 274 291 260 284 245 277 235 274 228 275 215 284 192 284 185ZM277 193 272 194 262 202 253 207 246 207 232 197 220 191 210 188 193 188 185 190 172 196 163 202 153 211 142 225 134 241 129 260 129 281 134 300 139 310 146 320 155 329 173 340 186 344 191 344 192 345 216 344 233 339 249 331 259 324 274 309 282 295 285 282 285 273 281 257 270 237 268 230 269 220 277 200ZM193 194 183 197 167 206 150 223 141 238 136 252 135 263 134 264 134 277 135 278 136 289 143 306 149 315 159 325 166 330 182 337 191 339 210 339 229 334 241 328 254 319 265 308 270 301 275 290 277 275 272 255 264 240 263 236 263 223 266 213 265 208 251 214 246 214 237 209 227 201 217 196 210 194ZM193 199 184 202 170 210 158 221 151 230 144 243 140 256 139 279 143 295 152 311 162 321 169 326 183 332 193 334 208 334 227 329 237 324 246 318 256 309 263 300 268 290 270 282 270 271 266 257 258 239 257 225 254 221 245 220 239 217 228 208 216 201 209 199ZM197 203 184 207 175 212 155 232 146 250 143 265 143 276 147 293 154 306 163 316 173 323 186 328 209 329 224 325 234 320 244 313 254 303 259 296 263 287 264 270 261 259 255 246 251 231 247 227 237 222 221 209 210 204ZM202 207 194 208 180 214 174 218 160 232 150 251 147 266 147 275 148 276 149 286 155 300 160 307 173 318 179 321 194 325 206 325 216 323 235 314 250 300 256 291 259 282 258 266 246 235 225 217 216 211ZM196 212 185 216 177 221 166 231 160 239 153 255 151 265 151 275 152 276 152 282 158 297 162 303 169 310 178 316 186 319 196 321 203 321 220 317 230 312 238 306 248 295 254 283 254 270 248 251 243 240 231 228 216 216 207 212ZM205 216 198 216 191 218 176 227 167 236 160 247 155 264 155 276 157 285 164 299 176 310 187 315 197 316 198 317 213 315 219 313 231 306 243 294 249 283 250 278 249 269 244 253 237 240 220 224ZM198 221 183 227 169 240 161 255 159 264 159 276 161 285 166 295 177 306 192 312 208 312 222 307 228 303 238 293 244 282 245 274 244 273 243 263 239 252 230 239 212 224 204 221ZM199 226 191 228 185 231 177 237 171 244 164 259 163 276 165 284 169 292 176 300 189 307 207 308 222 302 234 291 239 281 240 272 236 256 225 240 213 230 206 227ZM195 231 183 237 174 246 169 255 166 270 167 271 168 282 176 295 186 302 201 305 214 302 224 296 229 291 235 280 235 266 229 251 215 236 205 231ZM194 236 184 241 174 253 170 266 171 278 176 289 185 297 192 300 197 300 198 301 208 300 217 296 226 288 231 278 231 266 225 252 216 242 205 236ZM199 240 189 243 181 250 175 262 174 272 178 284 185 292 194 296 206 296 214 293 222 286 226 278 227 269 225 261 219 251 208 242ZM195 245 189 248 182 255 178 266 178 273 182 283 188 289 194 292 206 292 213 289 220 282 223 273 222 264 218 256 210 248 204 245ZM196 250 190 253 185 259 183 264 183 274 185 279 189 284 194 287 203 288 209 286 215 281 218 275 218 266 214 258 209 253 203 250ZM196 255 189 261 187 271 190 278 193 281 197 283 205 283 209 281 213 276 214 268 211 261 206 256ZM198 259 192 265 192 273 196 278 204 279 209 275 210 267 206 261 202 259Z"/>
</g>
<g transform="translate(106.283 484.283) scale(0.16667)" fill="none" stroke="#d25c5c" stroke-opacity="0.75" stroke-width="3.00" stroke-linejoin="round">
<path d="M302 160 287 153 268 154 254 162 242 176 237 185 232 189 227 189 215 183 205 180 184 179 169 183 161 187 152 193 140 205 133 215 127 227 121 248 121 255 120 256 120 274 124 294 129 307 136 319 148 333 162 343 177 349 182 350 203 350 216 346 228 340 245 329 274 321 282 316 288 310 295 299 299 288 301 278 301 258 300 257 298 240 302 231 310 220 314 212 317 202 317 186 314 176 311 170ZM300 164 294 160 284 157 271 158 259 164 252 171 246 181 242 195 241 207 239 210 235 210 221 201 210 196 190 193 174 196 167 199 155 207 147 215 140 225 132 244 130 254 130 275 133 289 138 301 145 312 157 324 176 334 185 336 199 336 208 334 220 329 245 311 269 309 276 306 284 299 289 291 293 277 293 259 290 249 290 239 294 232 301 225 308 215 313 201 312 182 308 173ZM297 166 286 161 274 161 261 167 253 176 250 182 247 193 248 210 254 226 254 231 252 233 247 231 232 216 220 207 212 203 202 200 190 199 189 200 178 201 166 206 153 216 145 226 139 238 135 252 134 269 135 270 136 282 140 294 147 306 158 318 167 324 180 329 185 329 186 330 204 329 213 326 225 319 247 299 251 297 268 298 275 295 281 289 285 281 286 270 287 269 285 255 281 246 281 239 304 215 308 207 310 199 310 189 308 181 303 172ZM188 203 170 208 154 220 146 231 142 239 138 253 137 266 138 267 139 281 142 290 149 303 160 315 166 319 180 325 200 326 213 322 227 313 236 304 247 290 253 285 269 286 273 284 277 279 279 273 279 263 277 257 272 251 268 249 257 250 253 248 237 227 225 215 218 210 203 204ZM288 165 276 164 269 166 264 169 257 176 251 190 251 204 255 216 259 222 269 231 278 231 290 225 300 215 306 203 307 190 305 182 302 176 294 168ZM184 207 168 213 161 218 151 229 145 240 142 249 140 266 141 267 141 276 143 284 152 302 163 313 173 319 182 322 195 323 196 322 206 321 217 316 224 311 233 302 239 294 248 277 250 270 250 262 247 252 239 236 228 222 221 216 210 210 200 207ZM282 168 273 169 267 172 258 182 255 191 255 202 259 213 267 222 275 225 282 224 292 218 300 208 303 199 302 185 297 176 291 171ZM184 210 172 214 167 217 155 228 147 242 144 252 143 272 146 285 149 292 154 300 165 311 182 319 196 320 213 315 222 309 230 301 237 291 242 281 245 264 241 247 236 237 226 224 210 213 200 210ZM282 173 274 174 268 177 262 184 259 194 259 199 262 209 268 216 274 219 280 219 287 216 294 209 298 201 298 188 296 183 291 177ZM189 212 179 214 172 217 162 224 156 231 148 246 145 261 145 268 149 286 157 300 164 307 173 313 181 316 198 317 213 312 219 308 230 297 234 291 240 277 241 258 239 250 233 237 228 230 220 222 205 214ZM275 182 271 184 267 189 265 198 266 203 271 210 275 212 280 212 288 206 291 199 291 192 289 187 285 183ZM185 215 178 217 167 223 158 232 154 238 148 255 148 274 151 285 155 293 164 304 177 312 183 314 194 315 195 314 201 314 215 308 227 297 231 291 237 277 238 257 236 249 230 237 224 229 216 222 211 219 199 215ZM188 217 177 220 171 223 160 233 152 248 150 256 150 273 153 284 157 292 169 305 181 311 199 312 206 310 218 303 227 293 234 279 236 270 236 260 233 248 228 238 216 225 205 219 196 217ZM185 220 178 222 171 226 163 233 158 240 155 246 152 257 152 272 155 283 159 291 169 302 175 306 183 309 196 310 211 305 219 299 225 292 230 283 233 273 233 257 231 249 226 239 216 228 203 221ZM188 222 180 224 172 228 162 238 156 250 154 259 154 270 157 282 161 290 169 299 173 302 185 307 199 307 211 302 222 292 229 279 231 271 231 259 228 248 225 242 216 231 207 225 201 223ZM186 225 177 228 165 238 158 252 156 266 157 267 158 278 164 290 173 299 184 304 194 305 208 301 215 296 221 289 226 280 228 273 228 257 222 242 212 231 205 227 198 225ZM188 227 175 232 165 242 159 257 159 273 164 286 173 296 186 302 198 302 210 297 221 285 226 272 226 258 220 243 212 234 201 228ZM186 230 175 235 166 245 162 254 161 270 163 278 167 286 172 292 182 298 194 300 205 297 216 288 223 274 224 262 223 261 223 256 219 246 209 235 198 230ZM187 233 176 238 168 247 164 258 164 271 169 284 177 292 185 296 193 297 202 295 213 287 220 274 221 261 219 253 215 245 207 237 197 233ZM187 236 177 241 171 248 167 257 167 272 170 280 179 290 186 293 193 294 194 293 199 293 205 290 211 285 217 274 218 260 213 247 206 240 197 236ZM187 240 178 245 174 250 170 260 170 269 173 278 180 286 186 289 194 290 204 286 212 277 214 271 214 258 211 251 205 244 197 240ZM189 244 182 247 176 254 174 260 174 269 177 277 183 283 187 285 197 285 204 281 208 276 210 271 210 259 207 252 202 247 196 244ZM188 249 181 254 178 261 178 268 181 275 185 279 189 281 195 281 202 277 206 270 206 260 204 255 197 249Z"/>
</g>
<text x="7.0" y="480.6" font-size="12.2" font-weight="bold" fill="#111">D</text>
<text class="l" x="38.0" y="480.8" font-size="8.2" font-style="italic" fill="#222" textLength="50.0" lengthAdjust="spacingAndGlyphs">NHD13/Setd2</text>
<text x="88.40" y="477.73" font-size="5.58" font-style="italic" fill="#222" style="stroke:none" textLength="7.0" lengthAdjust="spacingAndGlyphs">f/f</text>
<text class="l" x="112.5" y="480.8" font-size="8.2" font-style="italic" fill="#222" textLength="52.0" lengthAdjust="spacingAndGlyphs">NHD13/Setd2</text>
<text x="164.90" y="477.73" font-size="5.58" font-style="normal" fill="#222" style="stroke:none" textLength="10.0" lengthAdjust="spacingAndGlyphs">Δ/Δ</text>
<rect x="32.00" y="484.20" width="73.60" height="73.20" fill="none" stroke="#7a7a7a" stroke-width="0.9"/>
<rect x="106.20" y="484.20" width="73.80" height="73.20" fill="none" stroke="#7a7a7a" stroke-width="0.9"/>
<rect x="72.00" y="505.70" width="17.20" height="17.50" fill="none" stroke="#555" stroke-width="1.0"/>
<rect x="72.00" y="523.20" width="17.20" height="27.30" fill="none" stroke="#555" stroke-width="1.0"/>
<rect x="49.70" y="523.20" width="22.30" height="27.30" fill="none" stroke="#555" stroke-width="1.0"/>
<rect x="147.00" y="505.70" width="17.20" height="17.50" fill="none" stroke="#555" stroke-width="1.0"/>
<rect x="146.30" y="523.20" width="17.90" height="27.30" fill="none" stroke="#555" stroke-width="1.0"/>
<rect x="124.50" y="523.20" width="21.80" height="27.30" fill="none" stroke="#555" stroke-width="1.0"/>
<text x="80.3" y="495.3" font-size="6.2" text-anchor="middle" font-weight="bold" textLength="15.0" lengthAdjust="spacingAndGlyphs" fill="#1a1a1a" class="l">MPP</text>
<text x="33.8" y="547.6" font-size="6.6" font-weight="bold" textLength="25.0" lengthAdjust="spacingAndGlyphs" fill="#1a1a1a">LT-HSC</text>
<text x="78.8" y="546.9" font-size="6.6" font-weight="bold" textLength="24.5" lengthAdjust="spacingAndGlyphs" fill="#1a1a1a">ST-HSC</text>
<text x="154.4" y="495.3" font-size="6.2" text-anchor="middle" font-weight="bold" textLength="15.0" lengthAdjust="spacingAndGlyphs" fill="#1a1a1a" class="l">MPP</text>
<text x="107.5" y="547.6" font-size="6.6" font-weight="bold" textLength="25.0" lengthAdjust="spacingAndGlyphs" fill="#1a1a1a">LT-HSC</text>
<text x="153.0" y="546.9" font-size="6.6" font-weight="bold" textLength="24.5" lengthAdjust="spacingAndGlyphs" fill="#1a1a1a">ST-HSC</text>
<line x1="27.5" y1="563.8" x2="27.5" y2="535.0" stroke="#222" stroke-width="1.1"/>
<path d="M27.5 530.0 L24.8 535.5 L30.2 535.5 Z" fill="#222"/>
<line x1="27.0" y1="563.8" x2="118.0" y2="563.8" stroke="#222" stroke-width="1.1"/>
<path d="M123 563.8 L117.5 561.5 L117.5 566.1 Z" fill="#222"/>
<text transform="translate(31.0,518.9) rotate(-90)" font-size="10.8" text-anchor="middle" textLength="12.3" lengthAdjust="spacingAndGlyphs" fill="#222">Flt3</text>
<text x="126.3" y="566.6" font-size="11.2" textLength="20.0" lengthAdjust="spacingAndGlyphs" fill="#222">CD34</text>
<text x="197.3" y="480.6" font-size="11.8" font-weight="bold" fill="#111">E</text>
<line x1="235.0" y1="545.5" x2="238.0" y2="545.5" stroke="#1a1a1a" stroke-width="0.9"/>
<text x="231.8" y="548.4" font-size="8.1" text-anchor="end" fill="#222">0</text>
<line x1="235.0" y1="532.4" x2="238.0" y2="532.4" stroke="#1a1a1a" stroke-width="0.9"/>
<text x="231.8" y="535.3" font-size="8.1" text-anchor="end" fill="#222">10</text>
<line x1="235.0" y1="519.3" x2="238.0" y2="519.3" stroke="#1a1a1a" stroke-width="0.9"/>
<text x="231.8" y="522.1999999999999" font-size="8.1" text-anchor="end" fill="#222">20</text>
<line x1="235.0" y1="506.2" x2="238.0" y2="506.2" stroke="#1a1a1a" stroke-width="0.9"/>
<text x="231.8" y="509.09999999999997" font-size="8.1" text-anchor="end" fill="#222">30</text>
<line x1="235.0" y1="493.1" x2="238.0" y2="493.1" stroke="#1a1a1a" stroke-width="0.9"/>
<text x="231.8" y="496.0" font-size="8.1" text-anchor="end" fill="#222">40</text>
<line x1="235.0" y1="480.0" x2="238.0" y2="480.0" stroke="#1a1a1a" stroke-width="0.9"/>
<text x="231.8" y="482.9" font-size="8.1" text-anchor="end" fill="#222">50</text>
<line x1="247.25" y1="533.71" x2="247.25" y2="531.09" stroke="#333" stroke-width="0.9"/>
<line x1="244.25" y1="531.09" x2="250.25" y2="531.09" stroke="#222" stroke-width="1.0"/>
<rect x="241.15" y="533.71" width="12.20" height="11.79" fill="#2d4e8a" stroke="#22407a" stroke-width="0.5"/>
<line x1="247.25" y1="545.5" x2="247.25" y2="548.5" stroke="#1a1a1a" stroke-width="0.9"/>
<line x1="265.6" y1="493.755" x2="265.6" y2="486.943" stroke="#333" stroke-width="0.9"/>
<line x1="262.6" y1="486.943" x2="268.6" y2="486.943" stroke="#222" stroke-width="1.0"/>
<rect x="259.50" y="493.75" width="12.20" height="51.75" fill="#a5062f" stroke="#94042a" stroke-width="0.5"/>
<line x1="265.6" y1="545.5" x2="265.6" y2="548.5" stroke="#1a1a1a" stroke-width="0.9"/>
<line x1="238.0" y1="477.8" x2="238.0" y2="546.0" stroke="#1a1a1a" stroke-width="1.1"/>
<line x1="237.5" y1="545.5" x2="275.0" y2="545.5" stroke="#1a1a1a" stroke-width="1.1"/>
<line x1="247.0" y1="483.5" x2="265.5" y2="483.5" stroke="#333" stroke-width="1.0"/>
<text x="256.25" y="483.70" font-size="8.6" text-anchor="middle" fill="#222">***</text>
<text transform="translate(218.0,511.3) rotate(-90)" x="0" y="0" font-size="10" text-anchor="middle" textLength="55" lengthAdjust="spacingAndGlyphs" fill="#222">Cell count (10<tspan dy="-3.4" font-size="7" style="stroke-width:.12px">2</tspan><tspan dy="3.4">)</tspan></text>
<text x="257.0" y="560.8" font-size="10.2" text-anchor="middle" textLength="15.0" lengthAdjust="spacingAndGlyphs" fill="#222">MPP</text>
<line x1="316.5" y1="545.5" x2="319.5" y2="545.5" stroke="#1a1a1a" stroke-width="0.9"/>
<text x="313.3" y="548.4" font-size="8.1" text-anchor="end" fill="#222">0</text>
<line x1="316.5" y1="529.12" x2="319.5" y2="529.12" stroke="#1a1a1a" stroke-width="0.9"/>
<text x="313.3" y="532.02" font-size="8.1" text-anchor="end" fill="#222">2</text>
<line x1="316.5" y1="512.74" x2="319.5" y2="512.74" stroke="#1a1a1a" stroke-width="0.9"/>
<text x="313.3" y="515.64" font-size="8.1" text-anchor="end" fill="#222">4</text>
<line x1="316.5" y1="496.36" x2="319.5" y2="496.36" stroke="#1a1a1a" stroke-width="0.9"/>
<text x="313.3" y="499.26" font-size="8.1" text-anchor="end" fill="#222">6</text>
<line x1="316.5" y1="479.98" x2="319.5" y2="479.98" stroke="#1a1a1a" stroke-width="0.9"/>
<text x="313.3" y="482.88" font-size="8.1" text-anchor="end" fill="#222">8</text>
<line x1="329.75" y1="515.0332" x2="329.75" y2="492.265" stroke="#333" stroke-width="0.9"/>
<line x1="326.75" y1="492.265" x2="332.75" y2="492.265" stroke="#222" stroke-width="1.0"/>
<rect x="323.65" y="515.03" width="12.20" height="30.47" fill="#2d4e8a" stroke="#22407a" stroke-width="0.5"/>
<line x1="329.75" y1="545.5" x2="329.75" y2="548.5" stroke="#1a1a1a" stroke-width="0.9"/>
<line x1="348.25" y1="527.482" x2="348.25" y2="525.4345" stroke="#333" stroke-width="0.9"/>
<line x1="345.25" y1="525.4345" x2="351.25" y2="525.4345" stroke="#222" stroke-width="1.0"/>
<rect x="342.15" y="527.48" width="12.20" height="18.02" fill="#a5062f" stroke="#94042a" stroke-width="0.5"/>
<line x1="348.25" y1="545.5" x2="348.25" y2="548.5" stroke="#1a1a1a" stroke-width="0.9"/>
<line x1="319.5" y1="477.8" x2="319.5" y2="546.0" stroke="#1a1a1a" stroke-width="1.1"/>
<line x1="319.0" y1="545.5" x2="357.5" y2="545.5" stroke="#1a1a1a" stroke-width="1.1"/>
<text transform="translate(303.5,512.0) rotate(-90)" x="0" y="0" font-size="10" text-anchor="middle" textLength="57" lengthAdjust="spacingAndGlyphs" fill="#222">Cell count (10<tspan dy="-3.4" font-size="7" style="stroke-width:.12px">4</tspan><tspan dy="3.4">)</tspan></text>
<text x="338.75" y="560.8" font-size="10.2" text-anchor="middle" textLength="24.0" lengthAdjust="spacingAndGlyphs" fill="#222">LT-HSC</text>
<line x1="399.5" y1="545.5" x2="402.5" y2="545.5" stroke="#1a1a1a" stroke-width="0.9"/>
<text x="396.3" y="548.4" font-size="8.1" text-anchor="end" fill="#222">0</text>
<line x1="399.5" y1="532.4" x2="402.5" y2="532.4" stroke="#1a1a1a" stroke-width="0.9"/>
<text x="396.3" y="535.3" font-size="8.1" text-anchor="end" fill="#222">1</text>
<line x1="399.5" y1="519.3" x2="402.5" y2="519.3" stroke="#1a1a1a" stroke-width="0.9"/>
<text x="396.3" y="522.1999999999999" font-size="8.1" text-anchor="end" fill="#222">2</text>
<line x1="399.5" y1="506.2" x2="402.5" y2="506.2" stroke="#1a1a1a" stroke-width="0.9"/>
<text x="396.3" y="509.09999999999997" font-size="8.1" text-anchor="end" fill="#222">3</text>
<line x1="399.5" y1="493.1" x2="402.5" y2="493.1" stroke="#1a1a1a" stroke-width="0.9"/>
<text x="396.3" y="496.0" font-size="8.1" text-anchor="end" fill="#222">4</text>
<line x1="399.5" y1="480.0" x2="402.5" y2="480.0" stroke="#1a1a1a" stroke-width="0.9"/>
<text x="396.3" y="482.9" font-size="8.1" text-anchor="end" fill="#222">5</text>
<line x1="411.5" y1="492.445" x2="411.5" y2="489.17" stroke="#333" stroke-width="0.9"/>
<line x1="408.5" y1="489.17" x2="414.5" y2="489.17" stroke="#222" stroke-width="1.0"/>
<rect x="405.40" y="492.44" width="12.20" height="53.06" fill="#2d4e8a" stroke="#22407a" stroke-width="0.5"/>
<line x1="411.5" y1="545.5" x2="411.5" y2="548.5" stroke="#1a1a1a" stroke-width="0.9"/>
<line x1="430.25" y1="492.445" x2="430.25" y2="489.17" stroke="#333" stroke-width="0.9"/>
<line x1="427.25" y1="489.17" x2="433.25" y2="489.17" stroke="#222" stroke-width="1.0"/>
<rect x="424.15" y="492.44" width="12.20" height="53.06" fill="#a5062f" stroke="#94042a" stroke-width="0.5"/>
<line x1="430.25" y1="545.5" x2="430.25" y2="548.5" stroke="#1a1a1a" stroke-width="0.9"/>
<line x1="402.5" y1="477.8" x2="402.5" y2="546.0" stroke="#1a1a1a" stroke-width="1.1"/>
<line x1="402.0" y1="545.5" x2="441.3" y2="545.5" stroke="#1a1a1a" stroke-width="1.1"/>
<text transform="translate(386.0,512.0) rotate(-90)" x="0" y="0" font-size="10" text-anchor="middle" textLength="57" lengthAdjust="spacingAndGlyphs" fill="#222">Cell count (10<tspan dy="-3.4" font-size="7" style="stroke-width:.12px">3</tspan><tspan dy="3.4">)</tspan></text>
<text x="421.25" y="560.8" font-size="10.2" text-anchor="middle" textLength="24.0" lengthAdjust="spacingAndGlyphs" fill="#222">ST-HSC</text>
<rect x="443.80" y="480.20" width="7.40" height="6.00" fill="#2d4e8a"/>
<text class="l" x="454.5" y="485.8" font-size="8.3" font-style="italic" fill="#222" textLength="50.5" lengthAdjust="spacingAndGlyphs">NHD13/Setd2</text>
<text x="505.40" y="482.69" font-size="5.64" font-style="italic" fill="#222" style="stroke:none" textLength="6.5" lengthAdjust="spacingAndGlyphs">f/f</text>
<rect x="443.80" y="492.50" width="7.40" height="6.00" fill="#a5062f"/>
<text class="l" x="454.5" y="498.1" font-size="8.3" font-style="italic" fill="#222" textLength="50.5" lengthAdjust="spacingAndGlyphs">NHD13/Setd2</text>
<text x="505.40" y="494.99" font-size="5.64" font-style="normal" fill="#222" style="stroke:none" textLength="8.5" lengthAdjust="spacingAndGlyphs">Δ/Δ</text>
<text x="7.3" y="593.8" font-size="11.8" font-weight="bold" fill="#111">F</text>
<text x="67.6" y="594.2" font-size="8.2" text-anchor="middle" fill="#222" class="l">WT</text>
<text x="178.2" y="594.2" font-size="8.2" text-anchor="middle" font-style="italic" fill="#222" class="l">NHD13</text>
<text class="l" x="256.9" y="594.2" font-size="8.2" font-style="italic" fill="#222" textLength="52.0" lengthAdjust="spacingAndGlyphs">NHD13/Setd2</text>
<text x="309.30" y="591.12" font-size="5.58" font-style="normal" fill="#222" style="stroke:none" textLength="9.5" lengthAdjust="spacingAndGlyphs">Δ/Δ</text>
<path d="M67.7 645.0 L67.70 599.70 A45.3 45.3 0 0 1 94.33 608.35 Z" fill="#f2c98a" stroke="#111" stroke-width="1.1" stroke-linejoin="round"/>
<path d="M67.7 645.0 L94.33 608.35 A45.3 45.3 0 0 1 53.70 688.08 Z" fill="#d3897c" stroke="#111" stroke-width="1.1" stroke-linejoin="round"/>
<path d="M67.7 645.0 L53.70 688.08 A45.3 45.3 0 0 1 67.70 599.70 Z" fill="#8e96c0" stroke="#111" stroke-width="1.1" stroke-linejoin="round"/>
<circle cx="67.7" cy="645.0" r="45.3" fill="none" stroke="#111" stroke-width="1.2"/>
<path d="M178.2 645.3 L178.20 600.00 A45.3 45.3 0 0 1 204.83 608.65 Z" fill="#f2c98a" stroke="#111" stroke-width="1.1" stroke-linejoin="round"/>
<path d="M178.2 645.3 L204.83 608.65 A45.3 45.3 0 0 1 151.57 681.95 Z" fill="#d3897c" stroke="#111" stroke-width="1.1" stroke-linejoin="round"/>
<path d="M178.2 645.3 L151.57 681.95 A45.3 45.3 0 0 1 178.20 600.00 Z" fill="#8e96c0" stroke="#111" stroke-width="1.1" stroke-linejoin="round"/>
<circle cx="178.2" cy="645.3" r="45.3" fill="none" stroke="#111" stroke-width="1.2"/>
<path d="M289.0 645.8 L289.00 600.50 A45.3 45.3 0 0 1 320.01 678.82 Z" fill="#f2c98a" stroke="#111" stroke-width="1.1" stroke-linejoin="round"/>
<path d="M289.0 645.8 L320.01 678.82 A45.3 45.3 0 0 1 289.00 691.10 Z" fill="#d3897c" stroke="#111" stroke-width="1.1" stroke-linejoin="round"/>
<path d="M289.0 645.8 L289.00 691.10 A45.3 45.3 0 0 1 289.00 600.50 Z" fill="#8e96c0" stroke="#111" stroke-width="1.1" stroke-linejoin="round"/>
<circle cx="289.0" cy="645.8" r="45.3" fill="none" stroke="#111" stroke-width="1.2"/>
<text x="75.5" y="610.0" font-size="8.6" text-anchor="middle" fill="#2a2a2a" class="l">SS</text>
<text x="75.5" y="620.2" font-size="8.6" text-anchor="middle" fill="#2a2a2a" class="l">10%</text>
<text x="41.5" y="641.6" font-size="8.6" text-anchor="middle" fill="#2a2a2a" class="l">AS</text>
<text x="41.5" y="651.8" font-size="8.6" text-anchor="middle" fill="#2a2a2a" class="l">45%</text>
<text x="83.5" y="651.0" font-size="8.6" text-anchor="middle" fill="#2a2a2a" class="l">SD</text>
<text x="83.5" y="661.2" font-size="8.6" text-anchor="middle" fill="#2a2a2a" class="l">45%</text>
<text x="186.9" y="610.0" font-size="8.6" text-anchor="middle" fill="#2a2a2a" class="l">SS</text>
<text x="186.9" y="620.2" font-size="8.6" text-anchor="middle" fill="#2a2a2a" class="l">10%</text>
<text x="155.8" y="638.4" font-size="8.6" text-anchor="middle" fill="#2a2a2a" class="l">AS</text>
<text x="155.8" y="648.4" font-size="8.6" text-anchor="middle" fill="#2a2a2a" class="l">40%</text>
<text x="194.5" y="659.4" font-size="8.6" text-anchor="middle" fill="#2a2a2a" class="l">SD</text>
<text x="194.5" y="669.6" font-size="8.6" text-anchor="middle" fill="#2a2a2a" class="l">50%</text>
<text x="271.7" y="641.6" font-size="8.6" text-anchor="middle" fill="#2a2a2a" class="l">AS</text>
<text x="271.7" y="651.8" font-size="8.6" text-anchor="middle" fill="#2a2a2a" class="l">50%</text>
<text x="306.7" y="639.0" font-size="8.6" text-anchor="middle" fill="#2a2a2a" class="l">SS</text>
<text x="306.7" y="649.2" font-size="8.6" text-anchor="middle" fill="#2a2a2a" class="l">38%</text>
<text x="298.7" y="671.2" font-size="8.6" text-anchor="middle" fill="#2a2a2a" class="l">SD</text>
<text x="298.7" y="681.6" font-size="8.6" text-anchor="middle" fill="#2a2a2a" class="l">12%</text>
<rect x="0.5" y="0.5" width="519" height="698" fill="none" stroke="#000" stroke-width="1.3"/>
</svg>
</body></html>
